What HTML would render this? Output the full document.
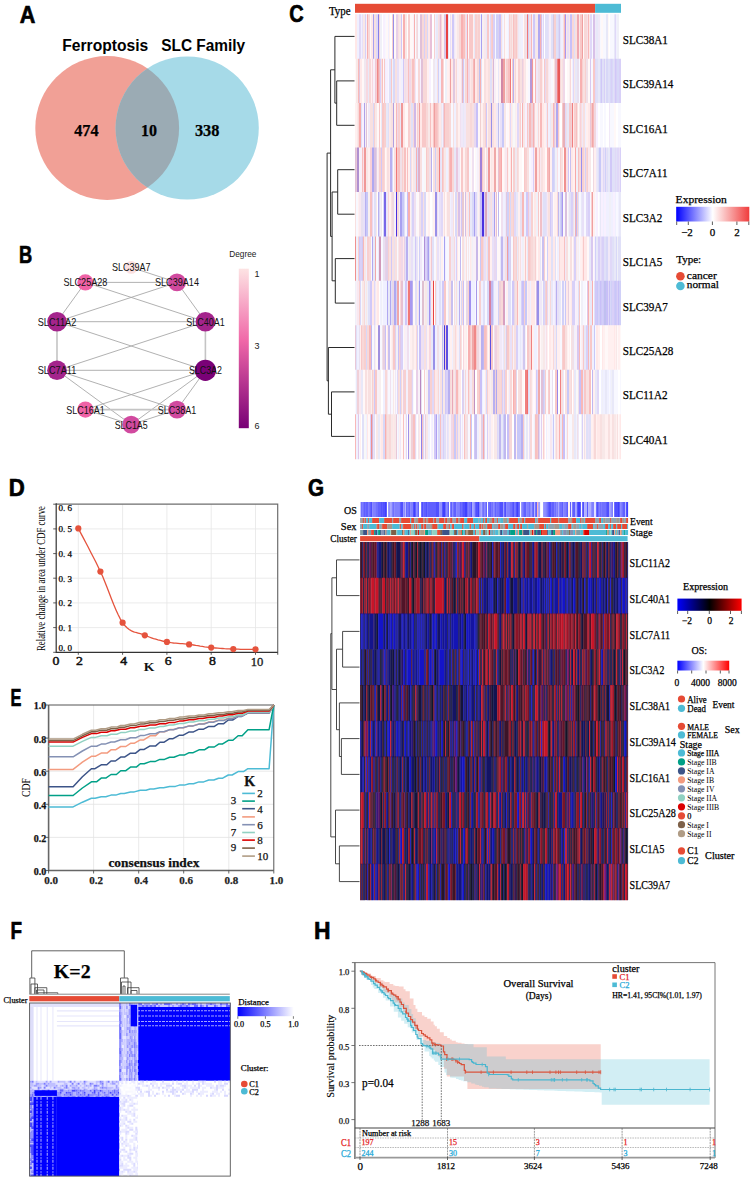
<!DOCTYPE html>
<html><head><meta charset="utf-8"><title>Figure</title>
<style>html,body{margin:0;padding:0;background:#fff;width:753px;height:1181px;overflow:hidden}svg{display:block}</style>
</head><body><svg width="753" height="1181" viewBox="0 0 753 1181"><text transform="translate(19.80,22.50) scale(0.900,1)" font-family='"Liberation Sans", sans-serif' font-size="24" font-weight="bold" stroke="#000" stroke-width="0.7">A</text><text x="62.3" y="50.6" font-family='"Liberation Sans", sans-serif' font-size="15.8" font-weight="bold" textLength="86" lengthAdjust="spacingAndGlyphs">Ferroptosis</text><text x="161.2" y="50.6" font-family='"Liberation Sans", sans-serif' font-size="15.8" font-weight="bold" textLength="84" lengthAdjust="spacingAndGlyphs">SLC Family</text><circle cx="107.2" cy="128" r="71.9" fill="#f1a096"/><circle cx="187.2" cy="128" r="71.6" fill="#a6dae8"/><clipPath id="vc"><circle cx="107.2" cy="128" r="71.9"/></clipPath><circle cx="187.2" cy="128" r="71.6" fill="#9babb4" clip-path="url(#vc)"/><text x="86.4" y="136.1" font-family='"Liberation Serif", serif' font-size="16.3" font-weight="bold" text-anchor="middle" stroke="#000" stroke-width="0.25" textLength="24.4" lengthAdjust="spacingAndGlyphs">474</text><text x="149.1" y="136.1" font-family='"Liberation Serif", serif' font-size="16.3" font-weight="bold" text-anchor="middle" stroke="#000" stroke-width="0.25" textLength="16" lengthAdjust="spacingAndGlyphs">10</text><text x="207.2" y="136.1" font-family='"Liberation Serif", serif' font-size="16.3" font-weight="bold" text-anchor="middle" stroke="#000" stroke-width="0.25" textLength="24.5" lengthAdjust="spacingAndGlyphs">338</text><text transform="translate(18.94,262.60) scale(0.762,1)" font-family='"Liberation Sans", sans-serif' font-size="24" font-weight="bold" stroke="#000" stroke-width="0.7">B</text><line x1="131.2" y1="267.4" x2="177.0" y2="282.4" stroke="#a8a8a8" stroke-width="0.9"/><line x1="85.4" y1="282.4" x2="177.0" y2="282.4" stroke="#a8a8a8" stroke-width="0.9"/><line x1="85.4" y1="282.4" x2="57.0" y2="321.7" stroke="#a8a8a8" stroke-width="0.9"/><line x1="85.4" y1="282.4" x2="205.4" y2="321.7" stroke="#a8a8a8" stroke-width="0.9"/><line x1="177.0" y1="282.4" x2="57.0" y2="321.7" stroke="#a8a8a8" stroke-width="0.9"/><line x1="177.0" y1="282.4" x2="205.4" y2="321.7" stroke="#a8a8a8" stroke-width="0.9"/><line x1="57.0" y1="321.7" x2="205.4" y2="321.7" stroke="#a8a8a8" stroke-width="0.9"/><line x1="57.0" y1="321.7" x2="57.0" y2="370.3" stroke="#c4c4c4" stroke-width="1.6"/><line x1="57.0" y1="321.7" x2="205.4" y2="370.3" stroke="#a8a8a8" stroke-width="0.9"/><line x1="205.4" y1="321.7" x2="205.4" y2="370.3" stroke="#c4c4c4" stroke-width="1.6"/><line x1="205.4" y1="321.7" x2="57.0" y2="370.3" stroke="#a8a8a8" stroke-width="0.9"/><line x1="57.0" y1="370.3" x2="205.4" y2="370.3" stroke="#a8a8a8" stroke-width="0.9"/><line x1="57.0" y1="370.3" x2="131.2" y2="424.6" stroke="#a8a8a8" stroke-width="0.9"/><line x1="57.0" y1="370.3" x2="177.0" y2="409.6" stroke="#a8a8a8" stroke-width="0.9"/><line x1="205.4" y1="370.3" x2="85.4" y2="409.6" stroke="#a8a8a8" stroke-width="0.9"/><line x1="205.4" y1="370.3" x2="131.2" y2="424.6" stroke="#a8a8a8" stroke-width="0.9"/><line x1="205.4" y1="370.3" x2="177.0" y2="409.6" stroke="#a8a8a8" stroke-width="0.9"/><line x1="85.4" y1="409.6" x2="177.0" y2="409.6" stroke="#c4c4c4" stroke-width="1.6"/><line x1="85.4" y1="409.6" x2="131.2" y2="424.6" stroke="#a8a8a8" stroke-width="0.9"/><line x1="131.2" y1="424.6" x2="177.0" y2="409.6" stroke="#a8a8a8" stroke-width="0.9"/><circle cx="131.2" cy="267.4" r="6.40" fill="#fbe0e0"/><circle cx="177.0" cy="282.4" r="8.95" fill="#d14a9f"/><circle cx="205.4" cy="321.7" r="9.80" fill="#a4248c"/><circle cx="205.4" cy="370.3" r="10.65" fill="#7a0177"/><circle cx="177.0" cy="409.6" r="8.95" fill="#d14a9f"/><circle cx="131.2" cy="424.6" r="8.95" fill="#d14a9f"/><circle cx="85.4" cy="409.6" r="8.10" fill="#ef62a6"/><circle cx="57.0" cy="370.3" r="9.80" fill="#a4248c"/><circle cx="57.0" cy="321.7" r="9.80" fill="#a4248c"/><circle cx="85.4" cy="282.4" r="8.10" fill="#ef62a6"/><text x="131.2" y="271.3" font-family='"Liberation Sans", sans-serif' font-size="10.8" text-anchor="middle" fill="#111" textLength="38.5" lengthAdjust="spacingAndGlyphs">SLC39A7</text><text x="177.0" y="286.3" font-family='"Liberation Sans", sans-serif' font-size="10.8" text-anchor="middle" fill="#111" textLength="44.0" lengthAdjust="spacingAndGlyphs">SLC39A14</text><text x="205.4" y="325.6" font-family='"Liberation Sans", sans-serif' font-size="10.8" text-anchor="middle" fill="#111" textLength="38.5" lengthAdjust="spacingAndGlyphs">SLC40A1</text><text x="205.4" y="374.2" font-family='"Liberation Sans", sans-serif' font-size="10.8" text-anchor="middle" fill="#111" textLength="33.0" lengthAdjust="spacingAndGlyphs">SLC3A2</text><text x="177.0" y="413.5" font-family='"Liberation Sans", sans-serif' font-size="10.8" text-anchor="middle" fill="#111" textLength="38.5" lengthAdjust="spacingAndGlyphs">SLC38A1</text><text x="131.2" y="428.5" font-family='"Liberation Sans", sans-serif' font-size="10.8" text-anchor="middle" fill="#111" textLength="33.0" lengthAdjust="spacingAndGlyphs">SLC1A5</text><text x="85.4" y="413.5" font-family='"Liberation Sans", sans-serif' font-size="10.8" text-anchor="middle" fill="#111" textLength="38.5" lengthAdjust="spacingAndGlyphs">SLC16A1</text><text x="57.0" y="374.2" font-family='"Liberation Sans", sans-serif' font-size="10.8" text-anchor="middle" fill="#111" textLength="38.5" lengthAdjust="spacingAndGlyphs">SLC7A11</text><text x="57.0" y="325.6" font-family='"Liberation Sans", sans-serif' font-size="10.8" text-anchor="middle" fill="#111" textLength="38.5" lengthAdjust="spacingAndGlyphs">SLC11A2</text><text x="85.4" y="286.3" font-family='"Liberation Sans", sans-serif' font-size="10.8" text-anchor="middle" fill="#111" textLength="44.0" lengthAdjust="spacingAndGlyphs">SLC25A28</text><linearGradient id="degg" x1="0" y1="0" x2="0" y2="1"><stop offset="0" stop-color="#fde3e3"/><stop offset="0.45" stop-color="#f068a8"/><stop offset="1" stop-color="#780076"/></linearGradient><rect x="238.8" y="268.7" width="10" height="159.5" fill="url(#degg)"/><text x="229.2" y="257.2" font-family='"Liberation Sans", sans-serif' font-size="9" fill="#222" textLength="27.2" lengthAdjust="spacingAndGlyphs">Degree</text><text x="254.5" y="276.5" font-family='"Liberation Sans", sans-serif' font-size="9" fill="#222">1</text><text x="254.5" y="348.8" font-family='"Liberation Sans", sans-serif' font-size="9" fill="#222">3</text><text x="254.5" y="429" font-family='"Liberation Sans", sans-serif' font-size="9" fill="#222">6</text><text transform="translate(289.27,22.30) scale(0.831,1)" font-family='"Liberation Sans", sans-serif' font-size="24" font-weight="bold" stroke="#000" stroke-width="0.7">C</text><text x="328.9" y="14.9" font-family='"Liberation Serif", serif' font-size="12" stroke="#000" stroke-width="0.25" textLength="21.6" lengthAdjust="spacingAndGlyphs">Type</text><rect x="355.0" y="3.8" width="240.1" height="9" fill="#e64b35"/><rect x="595.1" y="3.8" width="25.9" height="9" fill="#4dbbd5"/><path fill="#ffe8e8" d="M355 14.2h2v45.04h-2zM371 14.2h2v45.04h-2zM428 14.2h2v45.04h-2zM589 14.2h1v45.04h-1z"/><path fill="#f0f0ff" d="M357 14.2h2v45.04h-2zM361 14.2h1v45.04h-1zM388 14.2h1v45.04h-1zM435 14.2h1v45.04h-1zM480 14.2h1v45.04h-1zM489 14.2h1v45.04h-1zM502 14.2h1v45.04h-1zM508 14.2h1v45.04h-1zM521 14.2h2v45.04h-2zM542 14.2h1v45.04h-1zM561 14.2h2v45.04h-2zM616 14.2h1v45.04h-1z"/><path fill="#e0d8f8" d="M359 14.2h2v45.04h-2zM376 14.2h2v45.04h-2zM490 14.2h1v45.04h-1zM543 14.2h1v45.04h-1zM590 14.2h2v45.04h-2zM615 14.2h1v45.04h-1z"/><path fill="#e8e0f8" d="M362 14.2h1v45.04h-1zM450 14.2h1v45.04h-1zM466 14.2h1v45.04h-1zM548 14.2h1v45.04h-1zM567 14.2h2v45.04h-2z"/><path fill="#f8e8e8" d="M363 14.2h2v45.04h-2zM399 14.2h2v45.04h-2zM405 14.2h2v45.04h-2zM457 14.2h2v45.04h-2zM512 14.2h1v45.04h-1zM536 14.2h2v45.04h-2zM566 14.2h1v45.04h-1zM569 14.2h1v45.04h-1zM579 14.2h1v45.04h-1z"/><path fill="#d8d0f8" d="M365 14.2h1v45.04h-1zM424 14.2h1v45.04h-1zM493 14.2h2v45.04h-2z"/><path fill="#f8f0f8" d="M366 14.2h1v45.04h-1zM413 14.2h1v45.04h-1zM455 14.2h1v45.04h-1zM532 14.2h1v45.04h-1zM549 14.2h2v45.04h-2z"/><path fill="#f8b0b0" d="M367 14.2h1v45.04h-1zM403 14.2h2v45.04h-2zM414 14.2h1v45.04h-1zM461 14.2h2v45.04h-2zM540 14.2h1v45.04h-1z"/><path fill="#f8d8d8" d="M368 14.2h2v45.04h-2zM379 14.2h1v45.04h-1zM422 14.2h2v45.04h-2zM425 14.2h2v45.04h-2zM441 14.2h1v45.04h-1zM459 14.2h2v45.04h-2zM477 14.2h1v45.04h-1zM511 14.2h1v45.04h-1zM572 14.2h2v45.04h-2zM584 14.2h3v45.04h-3z"/><path fill="#fff8f8" d="M370 14.2h1v45.04h-1zM386 14.2h2v45.04h-2zM394 14.2h2v45.04h-2zM402 14.2h1v45.04h-1zM410 14.2h3v45.04h-3zM468 14.2h1v45.04h-1zM505 14.2h1v45.04h-1zM523 14.2h1v45.04h-1zM583 14.2h1v45.04h-1zM601 14.2h2v45.04h-2zM608 14.2h1v45.04h-1z"/><path fill="#a8a0f0" d="M373 14.2h1v45.04h-1zM481 14.2h1v45.04h-1z"/><path fill="#f8e0e0" d="M374 14.2h2v45.04h-2zM398 14.2h1v45.04h-1zM416 14.2h1v45.04h-1zM438 14.2h1v45.04h-1zM465 14.2h1v45.04h-1zM501 14.2h1v45.04h-1zM504 14.2h1v45.04h-1zM510 14.2h1v45.04h-1zM517 14.2h1v45.04h-1zM524 14.2h1v45.04h-1zM529 14.2h1v45.04h-1zM563 14.2h1v45.04h-1zM575 14.2h2v45.04h-2z"/><path fill="#8880e8" d="M378 14.2h1v45.04h-1z"/><path fill="#f0f0f8" d="M380 14.2h2v45.04h-2zM519 14.2h2v45.04h-2zM617 14.2h2v45.04h-2z"/><path fill="#ffffff" d="M382 14.2h1v45.04h-1zM390 14.2h2v45.04h-2zM407 14.2h1v45.04h-1zM432 14.2h2v45.04h-2zM449 14.2h1v45.04h-1zM544 14.2h1v45.04h-1zM609 14.2h1v45.04h-1zM619 14.2h2v45.04h-2z"/><path fill="#f8f0ff" d="M383 14.2h2v45.04h-2z"/><path fill="#f8f8ff" d="M385 14.2h1v45.04h-1zM415 14.2h1v45.04h-1zM418 14.2h2v45.04h-2zM495 14.2h1v45.04h-1zM503 14.2h1v45.04h-1zM506 14.2h2v45.04h-2zM592 14.2h1v45.04h-1zM600 14.2h1v45.04h-1zM603 14.2h3v45.04h-3zM610 14.2h4v45.04h-4z"/><path fill="#fff0f0" d="M389 14.2h1v45.04h-1zM442 14.2h2v45.04h-2zM451 14.2h1v45.04h-1zM456 14.2h1v45.04h-1zM473 14.2h1v45.04h-1z"/><path fill="#f8d0d0" d="M392 14.2h1v45.04h-1zM408 14.2h2v45.04h-2zM434 14.2h1v45.04h-1zM475 14.2h2v45.04h-2zM478 14.2h2v45.04h-2zM491 14.2h1v45.04h-1zM509 14.2h1v45.04h-1zM514 14.2h2v45.04h-2zM554 14.2h2v45.04h-2z"/><path fill="#9890e8" d="M393 14.2h1v45.04h-1z"/><path fill="#e8d0e8" d="M396 14.2h2v45.04h-2z"/><path fill="#d0c8f8" d="M401 14.2h1v45.04h-1zM452 14.2h2v45.04h-2zM533 14.2h2v45.04h-2z"/><path fill="#f0d8e0" d="M417 14.2h1v45.04h-1z"/><path fill="#e0c0d8" d="M420 14.2h2v45.04h-2z"/><path fill="#d8d8f8" d="M427 14.2h1v45.04h-1zM558 14.2h1v45.04h-1z"/><path fill="#e8c0d8" d="M430 14.2h2v45.04h-2z"/><path fill="#e8e8f8" d="M436 14.2h2v45.04h-2zM448 14.2h1v45.04h-1zM474 14.2h1v45.04h-1zM486 14.2h1v45.04h-1zM560 14.2h1v45.04h-1zM596 14.2h2v45.04h-2zM606 14.2h2v45.04h-2zM614 14.2h1v45.04h-1z"/><path fill="#f0d8e8" d="M439 14.2h1v45.04h-1z"/><path fill="#e8b8d0" d="M440 14.2h1v45.04h-1z"/><path fill="#d8c8e8" d="M444 14.2h2v45.04h-2z"/><path fill="#e84040" d="M446 14.2h2v45.04h-2z"/><path fill="#f0e8f8" d="M454 14.2h1v45.04h-1zM518 14.2h1v45.04h-1zM595 14.2h1v45.04h-1zM598 14.2h2v45.04h-2z"/><path fill="#f8c0c0" d="M463 14.2h2v45.04h-2zM513 14.2h1v45.04h-1z"/><path fill="#f8a8a8" d="M467 14.2h1v45.04h-1z"/><path fill="#f8c8c8" d="M469 14.2h4v45.04h-4zM487 14.2h2v45.04h-2zM492 14.2h1v45.04h-1zM516 14.2h1v45.04h-1zM580 14.2h2v45.04h-2z"/><path fill="#f8f0f0" d="M482 14.2h2v45.04h-2z"/><path fill="#f8e8f0" d="M484 14.2h2v45.04h-2z"/><path fill="#d0d0f8" d="M496 14.2h2v45.04h-2zM528 14.2h1v45.04h-1z"/><path fill="#d8d0f0" d="M498 14.2h1v45.04h-1z"/><path fill="#c8c0f8" d="M499 14.2h2v45.04h-2zM570 14.2h2v45.04h-2z"/><path fill="#f0e0e8" d="M525 14.2h2v45.04h-2z"/><path fill="#f07878" d="M527 14.2h1v45.04h-1z"/><path fill="#f0e0f0" d="M530 14.2h1v45.04h-1z"/><path fill="#f8b8b8" d="M531 14.2h1v45.04h-1zM564 14.2h1v45.04h-1zM588 14.2h1v45.04h-1z"/><path fill="#f0e8f0" d="M535 14.2h1v45.04h-1z"/><path fill="#b0a8f0" d="M538 14.2h2v45.04h-2z"/><path fill="#d8c0e8" d="M541 14.2h1v45.04h-1zM593 14.2h2v45.04h-2z"/><path fill="#e0e0f8" d="M545 14.2h3v45.04h-3zM551 14.2h2v45.04h-2zM556 14.2h2v45.04h-2zM574 14.2h1v45.04h-1z"/><path fill="#d8c8e0" d="M553 14.2h1v45.04h-1z"/><path fill="#d0c8f0" d="M559 14.2h1v45.04h-1z"/><path fill="#a898f0" d="M565 14.2h1v45.04h-1z"/><path fill="#f0a8b0" d="M577 14.2h2v45.04h-2z"/><path fill="#f0a0a0" d="M582 14.2h1v45.04h-1z"/><path fill="#f8e0e8" d="M587 14.2h1v45.04h-1z"/><text x="622.8" y="43.9" font-family='"Liberation Serif", serif' font-size="11.7" stroke="#000" stroke-width="0.25" textLength="45.1" lengthAdjust="spacingAndGlyphs">SLC38A1</text><path fill="#fff8f8" d="M355 58.64h1v45.04h-1zM362 58.64h2v45.04h-2zM383 58.64h1v45.04h-1zM482 58.64h2v45.04h-2zM496 58.64h2v45.04h-2zM511 58.64h1v45.04h-1zM526 58.64h2v45.04h-2zM534 58.64h1v45.04h-1zM553 58.64h1v45.04h-1zM567 58.64h2v45.04h-2zM571 58.64h1v45.04h-1zM588 58.64h2v45.04h-2z"/><path fill="#f8e8e8" d="M356 58.64h2v45.04h-2zM505 58.64h1v45.04h-1zM514 58.64h1v45.04h-1zM525 58.64h1v45.04h-1zM561 58.64h1v45.04h-1zM574 58.64h1v45.04h-1z"/><path fill="#f8b8b8" d="M358 58.64h1v45.04h-1zM441 58.64h2v45.04h-2zM473 58.64h1v45.04h-1zM535 58.64h1v45.04h-1z"/><path fill="#e0c8e0" d="M359 58.64h1v45.04h-1zM453 58.64h2v45.04h-2z"/><path fill="#ffe8e8" d="M360 58.64h2v45.04h-2zM449 58.64h1v45.04h-1zM451 58.64h2v45.04h-2zM455 58.64h1v45.04h-1zM470 58.64h1v45.04h-1zM475 58.64h2v45.04h-2zM486 58.64h2v45.04h-2zM524 58.64h1v45.04h-1zM542 58.64h1v45.04h-1z"/><path fill="#f0e8f0" d="M364 58.64h2v45.04h-2zM433 58.64h2v45.04h-2z"/><path fill="#f8d8e0" d="M366 58.64h2v45.04h-2zM372 58.64h1v45.04h-1zM523 58.64h1v45.04h-1z"/><path fill="#e8e8f8" d="M368 58.64h1v45.04h-1zM498 58.64h1v45.04h-1zM575 58.64h2v45.04h-2zM598 58.64h2v45.04h-2zM605 58.64h1v45.04h-1z"/><path fill="#f8d8d8" d="M369 58.64h2v45.04h-2zM418 58.64h2v45.04h-2zM423 58.64h4v45.04h-4zM443 58.64h1v45.04h-1zM456 58.64h1v45.04h-1zM465 58.64h2v45.04h-2zM477 58.64h2v45.04h-2zM515 58.64h1v45.04h-1zM546 58.64h2v45.04h-2zM560 58.64h1v45.04h-1zM570 58.64h1v45.04h-1z"/><path fill="#fff0f0" d="M371 58.64h1v45.04h-1zM427 58.64h2v45.04h-2zM447 58.64h2v45.04h-2zM459 58.64h2v45.04h-2zM499 58.64h2v45.04h-2zM516 58.64h2v45.04h-2zM533 58.64h1v45.04h-1z"/><path fill="#f8f0f8" d="M373 58.64h2v45.04h-2zM399 58.64h2v45.04h-2zM457 58.64h2v45.04h-2zM494 58.64h2v45.04h-2zM549 58.64h2v45.04h-2z"/><path fill="#f0c8d8" d="M375 58.64h1v45.04h-1z"/><path fill="#f8d0d0" d="M376 58.64h1v45.04h-1zM414 58.64h1v45.04h-1zM506 58.64h2v45.04h-2zM518 58.64h2v45.04h-2zM540 58.64h2v45.04h-2zM582 58.64h1v45.04h-1zM585 58.64h1v45.04h-1z"/><path fill="#f08888" d="M377 58.64h1v45.04h-1z"/><path fill="#f0a8a8" d="M378 58.64h1v45.04h-1zM474 58.64h1v45.04h-1z"/><path fill="#f0c0c8" d="M379 58.64h1v45.04h-1z"/><path fill="#d8d0f8" d="M380 58.64h1v45.04h-1zM604 58.64h1v45.04h-1zM611 58.64h1v45.04h-1zM616 58.64h1v45.04h-1zM619 58.64h2v45.04h-2z"/><path fill="#f8e0e0" d="M381 58.64h1v45.04h-1zM395 58.64h2v45.04h-2zM411 58.64h1v45.04h-1zM437 58.64h1v45.04h-1zM471 58.64h2v45.04h-2zM484 58.64h2v45.04h-2zM488 58.64h2v45.04h-2zM492 58.64h1v45.04h-1zM520 58.64h2v45.04h-2zM554 58.64h1v45.04h-1zM562 58.64h1v45.04h-1zM583 58.64h2v45.04h-2z"/><path fill="#f8c0c0" d="M382 58.64h1v45.04h-1zM408 58.64h1v45.04h-1zM412 58.64h2v45.04h-2zM508 58.64h2v45.04h-2z"/><path fill="#f8c8c8" d="M384 58.64h1v45.04h-1zM391 58.64h1v45.04h-1zM512 58.64h1v45.04h-1zM544 58.64h1v45.04h-1zM593 58.64h2v45.04h-2z"/><path fill="#f0f0ff" d="M385 58.64h1v45.04h-1zM401 58.64h2v45.04h-2zM435 58.64h2v45.04h-2zM439 58.64h2v45.04h-2zM572 58.64h1v45.04h-1z"/><path fill="#f8f0ff" d="M386 58.64h2v45.04h-2zM420 58.64h1v45.04h-1zM429 58.64h2v45.04h-2z"/><path fill="#f8f8ff" d="M388 58.64h1v45.04h-1zM417 58.64h1v45.04h-1zM528 58.64h2v45.04h-2zM543 58.64h1v45.04h-1zM551 58.64h2v45.04h-2zM579 58.64h1v45.04h-1zM591 58.64h2v45.04h-2z"/><path fill="#e0e0f8" d="M389 58.64h2v45.04h-2zM481 58.64h1v45.04h-1zM490 58.64h2v45.04h-2zM596 58.64h2v45.04h-2zM602 58.64h2v45.04h-2zM608 58.64h2v45.04h-2zM613 58.64h1v45.04h-1z"/><path fill="#f0f0f8" d="M392 58.64h1v45.04h-1zM445 58.64h2v45.04h-2zM464 58.64h1v45.04h-1z"/><path fill="#d8d8f8" d="M393 58.64h2v45.04h-2zM600 58.64h1v45.04h-1zM606 58.64h2v45.04h-2zM610 58.64h1v45.04h-1zM612 58.64h1v45.04h-1zM617 58.64h2v45.04h-2z"/><path fill="#e8e0f8" d="M397 58.64h2v45.04h-2z"/><path fill="#d0c8f8" d="M403 58.64h1v45.04h-1zM463 58.64h1v45.04h-1zM601 58.64h1v45.04h-1zM615 58.64h1v45.04h-1z"/><path fill="#f8e0e8" d="M404 58.64h1v45.04h-1zM406 58.64h2v45.04h-2z"/><path fill="#f0e0e8" d="M405 58.64h1v45.04h-1zM538 58.64h2v45.04h-2zM586 58.64h2v45.04h-2z"/><path fill="#f0d8e8" d="M409 58.64h2v45.04h-2zM468 58.64h2v45.04h-2zM563 58.64h2v45.04h-2z"/><path fill="#f0e8f8" d="M415 58.64h1v45.04h-1zM536 58.64h2v45.04h-2z"/><path fill="#fff8ff" d="M416 58.64h1v45.04h-1z"/><path fill="#e0c0d8" d="M421 58.64h2v45.04h-2z"/><path fill="#ffffff" d="M431 58.64h2v45.04h-2zM444 58.64h1v45.04h-1zM565 58.64h2v45.04h-2z"/><path fill="#d0d0f8" d="M438 58.64h1v45.04h-1z"/><path fill="#f0a0a0" d="M450 58.64h1v45.04h-1zM503 58.64h2v45.04h-2z"/><path fill="#f0e0f0" d="M461 58.64h1v45.04h-1z"/><path fill="#e8b8c0" d="M462 58.64h1v45.04h-1z"/><path fill="#f8b0b0" d="M467 58.64h1v45.04h-1zM480 58.64h1v45.04h-1zM580 58.64h2v45.04h-2z"/><path fill="#c0c0f0" d="M479 58.64h1v45.04h-1z"/><path fill="#d8b8d8" d="M493 58.64h1v45.04h-1z"/><path fill="#d088a8" d="M501 58.64h2v45.04h-2z"/><path fill="#f07878" d="M510 58.64h1v45.04h-1z"/><path fill="#b8b0f0" d="M513 58.64h1v45.04h-1z"/><path fill="#e8d0e0" d="M522 58.64h1v45.04h-1z"/><path fill="#b898d8" d="M530 58.64h2v45.04h-2z"/><path fill="#f09898" d="M532 58.64h1v45.04h-1z"/><path fill="#e8d8f0" d="M545 58.64h1v45.04h-1z"/><path fill="#f8e8f0" d="M548 58.64h1v45.04h-1z"/><path fill="#e8c0d0" d="M555 58.64h2v45.04h-2z"/><path fill="#f08080" d="M557 58.64h1v45.04h-1z"/><path fill="#e85858" d="M558 58.64h2v45.04h-2z"/><path fill="#f8f0f0" d="M569 58.64h1v45.04h-1z"/><path fill="#e0d8f8" d="M573 58.64h1v45.04h-1zM595 58.64h1v45.04h-1zM614 58.64h1v45.04h-1z"/><path fill="#e8e0f0" d="M577 58.64h2v45.04h-2z"/><path fill="#d8c8f0" d="M590 58.64h1v45.04h-1z"/><text x="622.8" y="88.4" font-family='"Liberation Serif", serif' font-size="11.7" stroke="#000" stroke-width="0.25" textLength="50.6" lengthAdjust="spacingAndGlyphs">SLC39A14</text><path fill="#fff0f0" d="M355 103.1h2v45.04h-2zM394 103.1h2v45.04h-2zM416 103.1h1v45.04h-1zM458 103.1h2v45.04h-2zM481 103.1h2v45.04h-2zM487 103.1h1v45.04h-1zM516 103.1h1v45.04h-1zM535 103.1h2v45.04h-2zM539 103.1h1v45.04h-1zM544 103.1h2v45.04h-2zM559 103.1h1v45.04h-1zM586 103.1h2v45.04h-2z"/><path fill="#f8e8e8" d="M357 103.1h1v45.04h-1zM375 103.1h2v45.04h-2zM390 103.1h1v45.04h-1zM428 103.1h2v45.04h-2zM504 103.1h2v45.04h-2zM523 103.1h2v45.04h-2zM551 103.1h2v45.04h-2zM579 103.1h1v45.04h-1z"/><path fill="#f8d8d8" d="M358 103.1h1v45.04h-1zM413 103.1h1v45.04h-1zM426 103.1h2v45.04h-2zM438 103.1h1v45.04h-1zM449 103.1h2v45.04h-2zM470 103.1h2v45.04h-2zM538 103.1h1v45.04h-1z"/><path fill="#f8a8a8" d="M359 103.1h2v45.04h-2z"/><path fill="#e0e0f8" d="M361 103.1h1v45.04h-1zM388 103.1h1v45.04h-1zM411 103.1h2v45.04h-2z"/><path fill="#f8f0ff" d="M362 103.1h2v45.04h-2zM525 103.1h2v45.04h-2zM596 103.1h2v45.04h-2z"/><path fill="#b0a0e8" d="M364 103.1h1v45.04h-1z"/><path fill="#f0f0f8" d="M365 103.1h1v45.04h-1zM537 103.1h1v45.04h-1z"/><path fill="#e0c0d8" d="M366 103.1h1v45.04h-1z"/><path fill="#fff8f8" d="M367 103.1h1v45.04h-1zM377 103.1h2v45.04h-2zM380 103.1h1v45.04h-1zM405 103.1h3v45.04h-3zM478 103.1h2v45.04h-2zM507 103.1h2v45.04h-2zM578 103.1h1v45.04h-1zM614 103.1h2v45.04h-2z"/><path fill="#f0e8f8" d="M368 103.1h2v45.04h-2zM461 103.1h2v45.04h-2zM464 103.1h2v45.04h-2zM496 103.1h2v45.04h-2zM546 103.1h1v45.04h-1zM582 103.1h1v45.04h-1zM609 103.1h1v45.04h-1z"/><path fill="#f8e0e0" d="M370 103.1h3v45.04h-3zM391 103.1h2v45.04h-2zM410 103.1h1v45.04h-1zM418 103.1h1v45.04h-1zM453 103.1h1v45.04h-1zM456 103.1h2v45.04h-2zM466 103.1h4v45.04h-4zM472 103.1h2v45.04h-2zM483 103.1h2v45.04h-2zM488 103.1h2v45.04h-2zM492 103.1h2v45.04h-2zM519 103.1h1v45.04h-1zM555 103.1h1v45.04h-1zM577 103.1h1v45.04h-1zM581 103.1h1v45.04h-1zM583 103.1h2v45.04h-2z"/><path fill="#d8d8f8" d="M373 103.1h1v45.04h-1z"/><path fill="#f8d0d0" d="M374 103.1h1v45.04h-1zM384 103.1h2v45.04h-2zM398 103.1h2v45.04h-2zM408 103.1h2v45.04h-2zM417 103.1h1v45.04h-1zM445 103.1h4v45.04h-4zM485 103.1h1v45.04h-1zM520 103.1h1v45.04h-1zM574 103.1h2v45.04h-2z"/><path fill="#f8c8c8" d="M379 103.1h1v45.04h-1zM382 103.1h2v45.04h-2zM422 103.1h4v45.04h-4zM433 103.1h1v45.04h-1zM437 103.1h1v45.04h-1zM527 103.1h1v45.04h-1zM547 103.1h1v45.04h-1zM558 103.1h1v45.04h-1zM562 103.1h1v45.04h-1zM569 103.1h2v45.04h-2zM591 103.1h1v45.04h-1z"/><path fill="#e8e8f8" d="M381 103.1h1v45.04h-1zM386 103.1h2v45.04h-2zM400 103.1h1v45.04h-1zM463 103.1h1v45.04h-1zM550 103.1h1v45.04h-1zM567 103.1h2v45.04h-2z"/><path fill="#ffe8e8" d="M389 103.1h1v45.04h-1zM403 103.1h2v45.04h-2zM420 103.1h2v45.04h-2zM431 103.1h2v45.04h-2zM439 103.1h2v45.04h-2zM494 103.1h2v45.04h-2zM509 103.1h1v45.04h-1zM511 103.1h1v45.04h-1zM542 103.1h2v45.04h-2zM573 103.1h1v45.04h-1zM588 103.1h2v45.04h-2z"/><path fill="#b0a0e0" d="M393 103.1h1v45.04h-1z"/><path fill="#f8b8b8" d="M396 103.1h1v45.04h-1zM444 103.1h1v45.04h-1zM529 103.1h2v45.04h-2zM540 103.1h2v45.04h-2zM553 103.1h1v45.04h-1zM593 103.1h1v45.04h-1z"/><path fill="#f0d8e8" d="M397 103.1h1v45.04h-1z"/><path fill="#f09898" d="M401 103.1h2v45.04h-2z"/><path fill="#d0b8e8" d="M414 103.1h2v45.04h-2z"/><path fill="#f0a0a0" d="M419 103.1h1v45.04h-1zM434 103.1h1v45.04h-1z"/><path fill="#f8c0c0" d="M430 103.1h1v45.04h-1zM435 103.1h2v45.04h-2zM576 103.1h1v45.04h-1z"/><path fill="#f0e8f0" d="M441 103.1h1v45.04h-1z"/><path fill="#f0f0ff" d="M442 103.1h1v45.04h-1zM454 103.1h2v45.04h-2zM548 103.1h2v45.04h-2zM585 103.1h1v45.04h-1z"/><path fill="#e8d0e0" d="M443 103.1h1v45.04h-1z"/><path fill="#f8f8ff" d="M451 103.1h2v45.04h-2zM521 103.1h1v45.04h-1zM600 103.1h3v45.04h-3zM604 103.1h2v45.04h-2zM610 103.1h4v45.04h-4zM618 103.1h3v45.04h-3z"/><path fill="#f0e0f0" d="M460 103.1h1v45.04h-1z"/><path fill="#e8d8f0" d="M474 103.1h2v45.04h-2z"/><path fill="#c8c0f8" d="M476 103.1h2v45.04h-2z"/><path fill="#f0d0d0" d="M480 103.1h1v45.04h-1z"/><path fill="#d0c8f8" d="M486 103.1h1v45.04h-1z"/><path fill="#f8d8e0" d="M490 103.1h1v45.04h-1z"/><path fill="#9890e8" d="M491 103.1h1v45.04h-1z"/><path fill="#c0c0f0" d="M498 103.1h1v45.04h-1z"/><path fill="#f8f0f8" d="M499 103.1h1v45.04h-1z"/><path fill="#e8e0f8" d="M500 103.1h2v45.04h-2z"/><path fill="#c8c8f8" d="M502 103.1h2v45.04h-2z"/><path fill="#fff8ff" d="M506 103.1h1v45.04h-1z"/><path fill="#e0d8f8" d="M510 103.1h1v45.04h-1zM517 103.1h2v45.04h-2zM565 103.1h1v45.04h-1z"/><path fill="#f8f0f0" d="M512 103.1h1v45.04h-1zM515 103.1h1v45.04h-1z"/><path fill="#f8f8f8" d="M513 103.1h2v45.04h-2z"/><path fill="#f8b0b0" d="M522 103.1h1v45.04h-1zM533 103.1h1v45.04h-1z"/><path fill="#f0e0e8" d="M528 103.1h1v45.04h-1zM566 103.1h1v45.04h-1z"/><path fill="#f0d0d8" d="M531 103.1h2v45.04h-2zM534 103.1h1v45.04h-1zM571 103.1h1v45.04h-1z"/><path fill="#e8c8e0" d="M554 103.1h1v45.04h-1z"/><path fill="#b0a8f0" d="M556 103.1h2v45.04h-2z"/><path fill="#ffffff" d="M560 103.1h2v45.04h-2zM598 103.1h2v45.04h-2zM603 103.1h1v45.04h-1zM606 103.1h3v45.04h-3zM616 103.1h2v45.04h-2z"/><path fill="#e8b0b8" d="M563 103.1h2v45.04h-2z"/><path fill="#f08080" d="M572 103.1h1v45.04h-1z"/><path fill="#f8d0d8" d="M580 103.1h1v45.04h-1z"/><path fill="#e8c8d8" d="M590 103.1h1v45.04h-1z"/><path fill="#f0a8a8" d="M592 103.1h1v45.04h-1z"/><path fill="#f0d8e0" d="M594 103.1h2v45.04h-2z"/><text x="622.8" y="132.8" font-family='"Liberation Serif", serif' font-size="11.7" stroke="#000" stroke-width="0.25" textLength="45.1" lengthAdjust="spacingAndGlyphs">SLC16A1</text><path fill="#e0c0d8" d="M355 147.5h1v45.04h-1z"/><path fill="#e8c8d8" d="M356 147.5h1v45.04h-1z"/><path fill="#b090d0" d="M357 147.5h2v45.04h-2z"/><path fill="#f8f0f8" d="M359 147.5h3v45.04h-3zM477 147.5h2v45.04h-2z"/><path fill="#f8c0c0" d="M362 147.5h1v45.04h-1zM398 147.5h2v45.04h-2zM404 147.5h2v45.04h-2zM407 147.5h1v45.04h-1zM442 147.5h1v45.04h-1zM449 147.5h1v45.04h-1zM578 147.5h1v45.04h-1z"/><path fill="#f8e0e8" d="M363 147.5h1v45.04h-1zM557 147.5h1v45.04h-1zM566 147.5h2v45.04h-2z"/><path fill="#f09898" d="M364 147.5h2v45.04h-2zM488 147.5h2v45.04h-2z"/><path fill="#f8e8e8" d="M366 147.5h2v45.04h-2zM413 147.5h2v45.04h-2zM444 147.5h2v45.04h-2zM448 147.5h1v45.04h-1zM491 147.5h1v45.04h-1zM590 147.5h1v45.04h-1z"/><path fill="#fff0f0" d="M368 147.5h2v45.04h-2zM377 147.5h1v45.04h-1zM386 147.5h1v45.04h-1zM406 147.5h1v45.04h-1zM408 147.5h2v45.04h-2zM412 147.5h1v45.04h-1zM463 147.5h2v45.04h-2zM490 147.5h1v45.04h-1zM496 147.5h2v45.04h-2zM504 147.5h1v45.04h-1zM508 147.5h1v45.04h-1zM550 147.5h2v45.04h-2zM573 147.5h2v45.04h-2zM594 147.5h2v45.04h-2z"/><path fill="#f8d0d8" d="M370 147.5h2v45.04h-2z"/><path fill="#b0a8f0" d="M372 147.5h2v45.04h-2z"/><path fill="#d8c0e0" d="M374 147.5h2v45.04h-2z"/><path fill="#e0d0e8" d="M376 147.5h1v45.04h-1z"/><path fill="#f8e8f0" d="M378 147.5h1v45.04h-1zM505 147.5h2v45.04h-2zM540 147.5h1v45.04h-1zM588 147.5h1v45.04h-1z"/><path fill="#f8d0d0" d="M379 147.5h2v45.04h-2zM382 147.5h2v45.04h-2zM402 147.5h1v45.04h-1zM443 147.5h1v45.04h-1zM513 147.5h2v45.04h-2zM525 147.5h2v45.04h-2zM560 147.5h1v45.04h-1zM582 147.5h2v45.04h-2zM587 147.5h1v45.04h-1z"/><path fill="#d0c8f8" d="M381 147.5h1v45.04h-1zM568 147.5h1v45.04h-1zM610 147.5h2v45.04h-2z"/><path fill="#f8d8d8" d="M384 147.5h1v45.04h-1zM427 147.5h2v45.04h-2zM437 147.5h2v45.04h-2zM452 147.5h2v45.04h-2zM465 147.5h2v45.04h-2zM517 147.5h1v45.04h-1zM579 147.5h2v45.04h-2zM586 147.5h1v45.04h-1z"/><path fill="#fff8f8" d="M385 147.5h1v45.04h-1zM393 147.5h1v45.04h-1zM460 147.5h1v45.04h-1zM471 147.5h1v45.04h-1zM475 147.5h1v45.04h-1zM485 147.5h1v45.04h-1zM502 147.5h2v45.04h-2zM519 147.5h3v45.04h-3zM545 147.5h2v45.04h-2zM563 147.5h1v45.04h-1z"/><path fill="#f8e0e0" d="M387 147.5h2v45.04h-2zM394 147.5h2v45.04h-2zM403 147.5h1v45.04h-1zM411 147.5h1v45.04h-1zM420 147.5h2v45.04h-2zM433 147.5h2v45.04h-2zM436 147.5h1v45.04h-1zM479 147.5h1v45.04h-1zM483 147.5h2v45.04h-2zM486 147.5h1v45.04h-1zM518 147.5h1v45.04h-1zM527 147.5h2v45.04h-2zM541 147.5h2v45.04h-2zM561 147.5h2v45.04h-2zM584 147.5h1v45.04h-1z"/><path fill="#ffe8e8" d="M389 147.5h1v45.04h-1zM492 147.5h2v45.04h-2zM510 147.5h1v45.04h-1zM534 147.5h1v45.04h-1zM537 147.5h2v45.04h-2zM543 147.5h2v45.04h-2zM571 147.5h2v45.04h-2zM589 147.5h1v45.04h-1z"/><path fill="#b8b0f0" d="M390 147.5h2v45.04h-2zM431 147.5h1v45.04h-1z"/><path fill="#d8d8f8" d="M392 147.5h1v45.04h-1zM410 147.5h1v45.04h-1zM417 147.5h1v45.04h-1zM554 147.5h1v45.04h-1z"/><path fill="#f07878" d="M396 147.5h1v45.04h-1z"/><path fill="#f8c8c8" d="M397 147.5h1v45.04h-1zM426 147.5h1v45.04h-1zM461 147.5h2v45.04h-2zM467 147.5h2v45.04h-2zM482 147.5h1v45.04h-1zM507 147.5h1v45.04h-1zM524 147.5h1v45.04h-1zM539 147.5h1v45.04h-1z"/><path fill="#f0e0e8" d="M400 147.5h2v45.04h-2zM429 147.5h2v45.04h-2z"/><path fill="#e8e8f8" d="M415 147.5h1v45.04h-1zM441 147.5h1v45.04h-1zM454 147.5h2v45.04h-2zM597 147.5h1v45.04h-1zM608 147.5h2v45.04h-2z"/><path fill="#f8b0b0" d="M416 147.5h1v45.04h-1zM450 147.5h2v45.04h-2zM511 147.5h1v45.04h-1z"/><path fill="#e0b0c8" d="M418 147.5h2v45.04h-2z"/><path fill="#f8f8ff" d="M422 147.5h2v45.04h-2zM469 147.5h2v45.04h-2zM476 147.5h1v45.04h-1zM529 147.5h2v45.04h-2zM558 147.5h2v45.04h-2z"/><path fill="#f8f8f8" d="M424 147.5h2v45.04h-2zM509 147.5h1v45.04h-1zM512 147.5h1v45.04h-1z"/><path fill="#ffffff" d="M432 147.5h1v45.04h-1zM474 147.5h1v45.04h-1zM522 147.5h2v45.04h-2zM591 147.5h2v45.04h-2z"/><path fill="#d0d0f8" d="M435 147.5h1v45.04h-1zM552 147.5h2v45.04h-2zM605 147.5h1v45.04h-1z"/><path fill="#f08080" d="M439 147.5h1v45.04h-1z"/><path fill="#e8e0f8" d="M440 147.5h1v45.04h-1zM604 147.5h1v45.04h-1zM606 147.5h1v45.04h-1zM619 147.5h1v45.04h-1z"/><path fill="#f0f0ff" d="M446 147.5h2v45.04h-2z"/><path fill="#e8c8e0" d="M456 147.5h2v45.04h-2z"/><path fill="#f0e8f8" d="M458 147.5h2v45.04h-2zM596 147.5h1v45.04h-1zM601 147.5h2v45.04h-2z"/><path fill="#f0e0f0" d="M472 147.5h2v45.04h-2z"/><path fill="#a080d8" d="M480 147.5h2v45.04h-2z"/><path fill="#f0e8f0" d="M487 147.5h1v45.04h-1zM515 147.5h2v45.04h-2z"/><path fill="#f0a8a8" d="M494 147.5h2v45.04h-2zM549 147.5h1v45.04h-1z"/><path fill="#e8c0d0" d="M498 147.5h1v45.04h-1z"/><path fill="#f8b8b8" d="M499 147.5h2v45.04h-2zM547 147.5h2v45.04h-2z"/><path fill="#f8a8a8" d="M501 147.5h1v45.04h-1zM575 147.5h1v45.04h-1z"/><path fill="#f8f0ff" d="M531 147.5h2v45.04h-2z"/><path fill="#d8d0f8" d="M533 147.5h1v45.04h-1zM585 147.5h1v45.04h-1zM620 147.5h1v45.04h-1z"/><path fill="#f0a0a0" d="M535 147.5h2v45.04h-2z"/><path fill="#f0f0f8" d="M555 147.5h2v45.04h-2zM576 147.5h2v45.04h-2z"/><path fill="#f09090" d="M564 147.5h2v45.04h-2z"/><path fill="#fff8ff" d="M569 147.5h1v45.04h-1z"/><path fill="#c8c0f0" d="M570 147.5h1v45.04h-1z"/><path fill="#9890f0" d="M581 147.5h1v45.04h-1z"/><path fill="#f0d8e0" d="M593 147.5h1v45.04h-1z"/><path fill="#e0e0f8" d="M598 147.5h1v45.04h-1zM607 147.5h1v45.04h-1zM612 147.5h3v45.04h-3zM616 147.5h1v45.04h-1z"/><path fill="#c8c8f8" d="M599 147.5h2v45.04h-2z"/><path fill="#e0d8f8" d="M603 147.5h1v45.04h-1zM615 147.5h1v45.04h-1zM617 147.5h2v45.04h-2z"/><text x="622.8" y="177.2" font-family='"Liberation Serif", serif' font-size="11.7" stroke="#000" stroke-width="0.25" textLength="44.7" lengthAdjust="spacingAndGlyphs">SLC7A11</text><path fill="#f8e0e0" d="M355 192h1v45.04h-1zM391 192h1v45.04h-1zM423 192h1v45.04h-1zM444 192h1v45.04h-1zM447 192h3v45.04h-3zM453 192h1v45.04h-1zM457 192h1v45.04h-1zM491 192h1v45.04h-1zM548 192h2v45.04h-2z"/><path fill="#f8f8ff" d="M356 192h2v45.04h-2zM405 192h2v45.04h-2zM416 192h1v45.04h-1zM564 192h1v45.04h-1zM579 192h2v45.04h-2zM584 192h2v45.04h-2zM590 192h1v45.04h-1zM595 192h1v45.04h-1zM599 192h1v45.04h-1zM616 192h2v45.04h-2z"/><path fill="#fff0f0" d="M358 192h1v45.04h-1zM389 192h2v45.04h-2zM395 192h1v45.04h-1zM410 192h1v45.04h-1zM428 192h2v45.04h-2zM433 192h2v45.04h-2zM443 192h1v45.04h-1zM446 192h1v45.04h-1zM478 192h1v45.04h-1zM518 192h2v45.04h-2zM554 192h3v45.04h-3zM593 192h2v45.04h-2z"/><path fill="#f8e8f0" d="M359 192h2v45.04h-2zM460 192h1v45.04h-1zM547 192h1v45.04h-1z"/><path fill="#e8e0f0" d="M361 192h2v45.04h-2zM520 192h2v45.04h-2zM569 192h1v45.04h-1z"/><path fill="#e8e0f8" d="M363 192h2v45.04h-2zM439 192h2v45.04h-2zM492 192h2v45.04h-2zM529 192h2v45.04h-2zM546 192h1v45.04h-1zM582 192h2v45.04h-2z"/><path fill="#b8b0f0" d="M365 192h1v45.04h-1zM378 192h1v45.04h-1z"/><path fill="#c8c8f8" d="M366 192h2v45.04h-2zM402 192h2v45.04h-2z"/><path fill="#f8f0f0" d="M368 192h2v45.04h-2z"/><path fill="#f8c0c0" d="M370 192h2v45.04h-2zM469 192h1v45.04h-1z"/><path fill="#e8d8f0" d="M372 192h1v45.04h-1z"/><path fill="#f8f0ff" d="M373 192h1v45.04h-1zM596 192h2v45.04h-2zM601 192h2v45.04h-2zM604 192h2v45.04h-2zM613 192h2v45.04h-2z"/><path fill="#e0e0f8" d="M374 192h2v45.04h-2zM404 192h1v45.04h-1zM488 192h1v45.04h-1zM543 192h3v45.04h-3zM570 192h1v45.04h-1zM578 192h1v45.04h-1z"/><path fill="#f8e8e8" d="M376 192h1v45.04h-1z"/><path fill="#ffffff" d="M377 192h1v45.04h-1zM382 192h1v45.04h-1zM430 192h2v45.04h-2zM497 192h1v45.04h-1zM499 192h2v45.04h-2zM598 192h1v45.04h-1z"/><path fill="#d8d8f8" d="M379 192h1v45.04h-1zM383 192h1v45.04h-1zM424 192h2v45.04h-2zM455 192h2v45.04h-2zM472 192h2v45.04h-2zM510 192h1v45.04h-1z"/><path fill="#f0f0f8" d="M380 192h1v45.04h-1zM399 192h1v45.04h-1zM477 192h1v45.04h-1zM536 192h2v45.04h-2zM568 192h1v45.04h-1zM574 192h1v45.04h-1zM609 192h2v45.04h-2z"/><path fill="#f0e8f0" d="M381 192h1v45.04h-1zM479 192h1v45.04h-1z"/><path fill="#7868e8" d="M384 192h2v45.04h-2z"/><path fill="#e8e8f8" d="M386 192h1v45.04h-1zM411 192h1v45.04h-1zM468 192h1v45.04h-1zM470 192h2v45.04h-2zM516 192h2v45.04h-2zM559 192h1v45.04h-1zM581 192h1v45.04h-1zM600 192h1v45.04h-1zM619 192h2v45.04h-2z"/><path fill="#f0e8f8" d="M387 192h1v45.04h-1zM451 192h2v45.04h-2zM505 192h1v45.04h-1zM542 192h1v45.04h-1z"/><path fill="#f8d8d8" d="M388 192h1v45.04h-1zM397 192h2v45.04h-2zM511 192h2v45.04h-2zM557 192h1v45.04h-1z"/><path fill="#f0d8e0" d="M392 192h2v45.04h-2z"/><path fill="#f0f0ff" d="M394 192h1v45.04h-1zM438 192h1v45.04h-1zM450 192h1v45.04h-1zM503 192h2v45.04h-2zM524 192h2v45.04h-2zM603 192h1v45.04h-1zM606 192h3v45.04h-3zM611 192h2v45.04h-2zM615 192h1v45.04h-1zM618 192h1v45.04h-1z"/><path fill="#4830e0" d="M396 192h1v45.04h-1zM482 192h2v45.04h-2z"/><path fill="#a8a0f0" d="M400 192h2v45.04h-2zM474 192h1v45.04h-1zM494 192h1v45.04h-1z"/><path fill="#c8c0f8" d="M407 192h1v45.04h-1zM480 192h2v45.04h-2z"/><path fill="#f8b0b0" d="M408 192h2v45.04h-2z"/><path fill="#d8d0f8" d="M412 192h2v45.04h-2zM421 192h2v45.04h-2zM484 192h1v45.04h-1zM571 192h2v45.04h-2zM588 192h2v45.04h-2z"/><path fill="#f0e0f0" d="M414 192h2v45.04h-2zM437 192h1v45.04h-1zM487 192h1v45.04h-1zM501 192h2v45.04h-2z"/><path fill="#fff8f8" d="M417 192h2v45.04h-2zM426 192h2v45.04h-2zM445 192h1v45.04h-1zM454 192h1v45.04h-1zM464 192h1v45.04h-1zM539 192h1v45.04h-1zM553 192h1v45.04h-1zM563 192h1v45.04h-1zM567 192h1v45.04h-1z"/><path fill="#f0e0e8" d="M419 192h2v45.04h-2zM489 192h2v45.04h-2zM573 192h1v45.04h-1z"/><path fill="#f8f8f8" d="M432 192h1v45.04h-1zM533 192h1v45.04h-1z"/><path fill="#9890e8" d="M435 192h2v45.04h-2z"/><path fill="#e0d8f8" d="M441 192h2v45.04h-2zM475 192h2v45.04h-2zM514 192h2v45.04h-2zM551 192h2v45.04h-2zM586 192h2v45.04h-2z"/><path fill="#d8c0e8" d="M458 192h2v45.04h-2z"/><path fill="#d0c8f8" d="M461 192h1v45.04h-1zM526 192h2v45.04h-2zM550 192h1v45.04h-1z"/><path fill="#e8c8d0" d="M462 192h2v45.04h-2z"/><path fill="#d0c0e8" d="M465 192h1v45.04h-1z"/><path fill="#ffe8e8" d="M466 192h2v45.04h-2zM495 192h1v45.04h-1zM534 192h2v45.04h-2z"/><path fill="#d8a8c0" d="M485 192h2v45.04h-2z"/><path fill="#e8c0d0" d="M496 192h1v45.04h-1z"/><path fill="#c0b8f0" d="M498 192h1v45.04h-1zM558 192h1v45.04h-1zM576 192h1v45.04h-1z"/><path fill="#e0c8e0" d="M506 192h1v45.04h-1z"/><path fill="#d0d0f8" d="M507 192h2v45.04h-2zM560 192h1v45.04h-1z"/><path fill="#f8d0d0" d="M509 192h1v45.04h-1zM513 192h1v45.04h-1zM531 192h2v45.04h-2zM577 192h1v45.04h-1zM591 192h1v45.04h-1z"/><path fill="#f8b8b8" d="M522 192h2v45.04h-2z"/><path fill="#f0c8d8" d="M528 192h1v45.04h-1z"/><path fill="#f8c8c8" d="M538 192h1v45.04h-1z"/><path fill="#f0c0c8" d="M540 192h2v45.04h-2z"/><path fill="#c0c0f0" d="M561 192h1v45.04h-1z"/><path fill="#a898f0" d="M562 192h1v45.04h-1z"/><path fill="#d8c0e0" d="M565 192h2v45.04h-2z"/><path fill="#f0b0b8" d="M575 192h1v45.04h-1z"/><path fill="#f0a0a0" d="M592 192h1v45.04h-1z"/><text x="622.8" y="221.7" font-family='"Liberation Serif", serif' font-size="11.7" stroke="#000" stroke-width="0.25" textLength="39.5" lengthAdjust="spacingAndGlyphs">SLC3A2</text><path fill="#f09090" d="M355 236.4h1v45.04h-1z"/><path fill="#f0f0f8" d="M356 236.4h1v45.04h-1zM408 236.4h1v45.04h-1zM413 236.4h2v45.04h-2zM464 236.4h1v45.04h-1zM472 236.4h1v45.04h-1zM522 236.4h2v45.04h-2zM617 236.4h1v45.04h-1z"/><path fill="#f0f0ff" d="M357 236.4h1v45.04h-1zM366 236.4h1v45.04h-1zM445 236.4h1v45.04h-1zM455 236.4h1v45.04h-1zM557 236.4h2v45.04h-2z"/><path fill="#f8d0d0" d="M358 236.4h1v45.04h-1zM367 236.4h2v45.04h-2zM388 236.4h1v45.04h-1zM449 236.4h2v45.04h-2zM516 236.4h1v45.04h-1zM530 236.4h1v45.04h-1zM535 236.4h1v45.04h-1zM544 236.4h1v45.04h-1z"/><path fill="#d0c8f8" d="M359 236.4h1v45.04h-1zM391 236.4h1v45.04h-1zM415 236.4h1v45.04h-1z"/><path fill="#d8d0f8" d="M360 236.4h2v45.04h-2zM425 236.4h2v45.04h-2zM456 236.4h1v45.04h-1zM574 236.4h2v45.04h-2zM598 236.4h2v45.04h-2zM602 236.4h2v45.04h-2z"/><path fill="#d0c8f0" d="M362 236.4h1v45.04h-1z"/><path fill="#f8b8b8" d="M363 236.4h1v45.04h-1z"/><path fill="#f8e8e8" d="M364 236.4h2v45.04h-2zM398 236.4h1v45.04h-1zM436 236.4h1v45.04h-1zM468 236.4h1v45.04h-1zM486 236.4h1v45.04h-1zM576 236.4h1v45.04h-1z"/><path fill="#f8d8d8" d="M369 236.4h2v45.04h-2zM514 236.4h2v45.04h-2zM531 236.4h2v45.04h-2zM559 236.4h1v45.04h-1z"/><path fill="#f8f8ff" d="M371 236.4h1v45.04h-1zM376 236.4h2v45.04h-2zM381 236.4h2v45.04h-2zM397 236.4h1v45.04h-1zM422 236.4h2v45.04h-2zM434 236.4h2v45.04h-2zM443 236.4h1v45.04h-1zM446 236.4h3v45.04h-3zM467 236.4h1v45.04h-1zM469 236.4h1v45.04h-1zM511 236.4h2v45.04h-2zM579 236.4h1v45.04h-1z"/><path fill="#b0a8f0" d="M372 236.4h1v45.04h-1z"/><path fill="#e8e8f8" d="M373 236.4h2v45.04h-2zM417 236.4h1v45.04h-1zM440 236.4h1v45.04h-1zM500 236.4h1v45.04h-1zM517 236.4h1v45.04h-1zM527 236.4h1v45.04h-1zM540 236.4h1v45.04h-1zM589 236.4h2v45.04h-2zM596 236.4h2v45.04h-2zM614 236.4h2v45.04h-2z"/><path fill="#f0a8a8" d="M375 236.4h1v45.04h-1z"/><path fill="#f0e8f8" d="M378 236.4h1v45.04h-1zM420 236.4h2v45.04h-2zM451 236.4h1v45.04h-1zM503 236.4h2v45.04h-2zM565 236.4h1v45.04h-1zM608 236.4h2v45.04h-2z"/><path fill="#d098b8" d="M379 236.4h2v45.04h-2z"/><path fill="#e8e0f0" d="M383 236.4h2v45.04h-2zM394 236.4h1v45.04h-1zM506 236.4h1v45.04h-1z"/><path fill="#e8d0e8" d="M385 236.4h1v45.04h-1zM404 236.4h1v45.04h-1z"/><path fill="#e0d0e8" d="M386 236.4h2v45.04h-2z"/><path fill="#f8e0e0" d="M389 236.4h2v45.04h-2zM392 236.4h2v45.04h-2zM395 236.4h2v45.04h-2zM462 236.4h2v45.04h-2zM466 236.4h1v45.04h-1zM505 236.4h1v45.04h-1zM518 236.4h1v45.04h-1zM520 236.4h1v45.04h-1zM533 236.4h2v45.04h-2zM566 236.4h2v45.04h-2zM570 236.4h2v45.04h-2z"/><path fill="#f8d8e0" d="M399 236.4h2v45.04h-2zM454 236.4h1v45.04h-1z"/><path fill="#f0d8e8" d="M401 236.4h2v45.04h-2z"/><path fill="#ffe8e8" d="M403 236.4h1v45.04h-1zM430 236.4h1v45.04h-1zM457 236.4h1v45.04h-1zM470 236.4h1v45.04h-1zM538 236.4h2v45.04h-2zM548 236.4h3v45.04h-3zM553 236.4h2v45.04h-2zM560 236.4h4v45.04h-4zM582 236.4h1v45.04h-1zM584 236.4h3v45.04h-3z"/><path fill="#e0e0f8" d="M405 236.4h1v45.04h-1zM429 236.4h1v45.04h-1zM432 236.4h2v45.04h-2zM487 236.4h1v45.04h-1zM551 236.4h2v45.04h-2zM555 236.4h1v45.04h-1zM604 236.4h2v45.04h-2zM612 236.4h2v45.04h-2zM618 236.4h3v45.04h-3z"/><path fill="#b8b0f0" d="M406 236.4h2v45.04h-2z"/><path fill="#f0e8f0" d="M409 236.4h2v45.04h-2zM452 236.4h2v45.04h-2z"/><path fill="#e8e0f8" d="M411 236.4h2v45.04h-2zM416 236.4h1v45.04h-1zM437 236.4h2v45.04h-2zM484 236.4h2v45.04h-2zM492 236.4h2v45.04h-2zM600 236.4h1v45.04h-1z"/><path fill="#fff8f8" d="M418 236.4h1v45.04h-1zM458 236.4h2v45.04h-2zM478 236.4h2v45.04h-2zM497 236.4h3v45.04h-3zM537 236.4h1v45.04h-1zM541 236.4h1v45.04h-1zM545 236.4h2v45.04h-2zM556 236.4h1v45.04h-1zM572 236.4h1v45.04h-1zM587 236.4h2v45.04h-2zM593 236.4h1v45.04h-1z"/><path fill="#d0d0f8" d="M419 236.4h1v45.04h-1zM547 236.4h1v45.04h-1zM595 236.4h1v45.04h-1z"/><path fill="#b090d8" d="M424 236.4h1v45.04h-1z"/><path fill="#c0b8f0" d="M427 236.4h1v45.04h-1zM460 236.4h1v45.04h-1zM501 236.4h2v45.04h-2z"/><path fill="#a8a0f0" d="M428 236.4h1v45.04h-1zM444 236.4h1v45.04h-1z"/><path fill="#f0c8d0" d="M431 236.4h1v45.04h-1z"/><path fill="#f8f0f8" d="M439 236.4h1v45.04h-1zM473 236.4h3v45.04h-3zM577 236.4h1v45.04h-1z"/><path fill="#fff0f0" d="M441 236.4h2v45.04h-2zM465 236.4h1v45.04h-1zM490 236.4h2v45.04h-2zM519 236.4h1v45.04h-1zM524 236.4h1v45.04h-1zM526 236.4h1v45.04h-1zM536 236.4h1v45.04h-1zM580 236.4h2v45.04h-2z"/><path fill="#ffffff" d="M461 236.4h1v45.04h-1z"/><path fill="#f8f0f0" d="M471 236.4h1v45.04h-1zM578 236.4h1v45.04h-1z"/><path fill="#c8b8e8" d="M476 236.4h2v45.04h-2z"/><path fill="#c8c8f8" d="M480 236.4h1v45.04h-1z"/><path fill="#f8c8c8" d="M481 236.4h2v45.04h-2zM513 236.4h1v45.04h-1zM525 236.4h1v45.04h-1zM528 236.4h2v45.04h-2zM583 236.4h1v45.04h-1z"/><path fill="#f0d8e0" d="M483 236.4h1v45.04h-1z"/><path fill="#f8c0c0" d="M488 236.4h2v45.04h-2zM564 236.4h1v45.04h-1z"/><path fill="#e8d8f0" d="M494 236.4h2v45.04h-2z"/><path fill="#e0d8f8" d="M496 236.4h1v45.04h-1zM601 236.4h1v45.04h-1zM610 236.4h2v45.04h-2z"/><path fill="#f0a0a0" d="M507 236.4h1v45.04h-1z"/><path fill="#c8c0f8" d="M508 236.4h1v45.04h-1z"/><path fill="#d8d8f8" d="M509 236.4h1v45.04h-1zM606 236.4h2v45.04h-2zM616 236.4h1v45.04h-1z"/><path fill="#d8d0f0" d="M510 236.4h1v45.04h-1z"/><path fill="#f8f0ff" d="M521 236.4h1v45.04h-1zM594 236.4h1v45.04h-1z"/><path fill="#c8c0f0" d="M542 236.4h2v45.04h-2z"/><path fill="#f8f8f8" d="M568 236.4h2v45.04h-2z"/><path fill="#f8e8f0" d="M573 236.4h1v45.04h-1z"/><path fill="#d8c8f0" d="M591 236.4h2v45.04h-2z"/><text x="622.8" y="266.1" font-family='"Liberation Serif", serif' font-size="11.7" stroke="#000" stroke-width="0.25" textLength="39.5" lengthAdjust="spacingAndGlyphs">SLC1A5</text><path fill="#f0f0f8" d="M355 280.8h1v45.04h-1zM365 280.8h1v45.04h-1zM367 280.8h1v45.04h-1zM381 280.8h1v45.04h-1zM455 280.8h1v45.04h-1zM457 280.8h1v45.04h-1zM519 280.8h2v45.04h-2zM549 280.8h1v45.04h-1zM581 280.8h2v45.04h-2z"/><path fill="#f8f0f8" d="M356 280.8h1v45.04h-1zM496 280.8h2v45.04h-2zM564 280.8h1v45.04h-1zM576 280.8h2v45.04h-2z"/><path fill="#f8e8f0" d="M357 280.8h2v45.04h-2zM528 280.8h2v45.04h-2z"/><path fill="#f8d0d0" d="M359 280.8h1v45.04h-1zM468 280.8h1v45.04h-1zM479 280.8h2v45.04h-2zM524 280.8h1v45.04h-1z"/><path fill="#d8d8f8" d="M360 280.8h1v45.04h-1zM461 280.8h1v45.04h-1zM487 280.8h2v45.04h-2zM493 280.8h1v45.04h-1zM544 280.8h1v45.04h-1zM610 280.8h1v45.04h-1z"/><path fill="#f8f8ff" d="M361 280.8h1v45.04h-1zM382 280.8h1v45.04h-1zM399 280.8h1v45.04h-1zM420 280.8h2v45.04h-2zM475 280.8h1v45.04h-1zM477 280.8h2v45.04h-2zM485 280.8h2v45.04h-2zM505 280.8h1v45.04h-1zM511 280.8h1v45.04h-1zM583 280.8h3v45.04h-3zM593 280.8h1v45.04h-1z"/><path fill="#f8e8e8" d="M362 280.8h2v45.04h-2zM366 280.8h1v45.04h-1zM425 280.8h2v45.04h-2zM589 280.8h1v45.04h-1z"/><path fill="#f8d8d8" d="M364 280.8h1v45.04h-1zM400 280.8h1v45.04h-1zM462 280.8h1v45.04h-1zM501 280.8h2v45.04h-2zM550 280.8h1v45.04h-1z"/><path fill="#e0e0f8" d="M368 280.8h2v45.04h-2zM391 280.8h1v45.04h-1zM415 280.8h2v45.04h-2zM439 280.8h2v45.04h-2zM483 280.8h2v45.04h-2zM508 280.8h3v45.04h-3zM578 280.8h1v45.04h-1zM594 280.8h1v45.04h-1z"/><path fill="#d0c8f8" d="M370 280.8h2v45.04h-2zM405 280.8h2v45.04h-2zM442 280.8h2v45.04h-2zM512 280.8h2v45.04h-2zM595 280.8h2v45.04h-2zM601 280.8h1v45.04h-1zM603 280.8h1v45.04h-1zM614 280.8h1v45.04h-1zM616 280.8h1v45.04h-1z"/><path fill="#ffe8e8" d="M372 280.8h2v45.04h-2zM377 280.8h2v45.04h-2zM417 280.8h1v45.04h-1zM431 280.8h2v45.04h-2zM531 280.8h4v45.04h-4zM566 280.8h2v45.04h-2zM571 280.8h1v45.04h-1z"/><path fill="#e0d8f8" d="M374 280.8h1v45.04h-1zM608 280.8h1v45.04h-1z"/><path fill="#f0e8f8" d="M375 280.8h1v45.04h-1zM539 280.8h3v45.04h-3z"/><path fill="#fff0f0" d="M376 280.8h1v45.04h-1zM460 280.8h1v45.04h-1zM506 280.8h2v45.04h-2zM518 280.8h1v45.04h-1zM527 280.8h1v45.04h-1zM548 280.8h1v45.04h-1zM569 280.8h2v45.04h-2z"/><path fill="#ffffff" d="M379 280.8h1v45.04h-1zM434 280.8h1v45.04h-1zM453 280.8h1v45.04h-1zM580 280.8h1v45.04h-1zM586 280.8h1v45.04h-1z"/><path fill="#f0f0ff" d="M380 280.8h1v45.04h-1zM383 280.8h4v45.04h-4zM403 280.8h2v45.04h-2zM437 280.8h2v45.04h-2zM441 280.8h1v45.04h-1zM458 280.8h1v45.04h-1zM471 280.8h4v45.04h-4zM481 280.8h2v45.04h-2zM494 280.8h2v45.04h-2zM530 280.8h1v45.04h-1zM554 280.8h1v45.04h-1z"/><path fill="#b0a8f0" d="M387 280.8h1v45.04h-1zM390 280.8h1v45.04h-1zM394 280.8h2v45.04h-2z"/><path fill="#e8e8f8" d="M388 280.8h2v45.04h-2zM418 280.8h1v45.04h-1zM427 280.8h2v45.04h-2zM436 280.8h1v45.04h-1zM448 280.8h1v45.04h-1zM551 280.8h2v45.04h-2zM559 280.8h2v45.04h-2zM590 280.8h2v45.04h-2z"/><path fill="#e8d8e8" d="M392 280.8h2v45.04h-2zM466 280.8h2v45.04h-2zM514 280.8h1v45.04h-1z"/><path fill="#d0d0f8" d="M396 280.8h1v45.04h-1zM498 280.8h1v45.04h-1zM562 280.8h2v45.04h-2zM599 280.8h1v45.04h-1zM602 280.8h1v45.04h-1zM611 280.8h1v45.04h-1zM619 280.8h2v45.04h-2z"/><path fill="#f0a8a8" d="M397 280.8h2v45.04h-2z"/><path fill="#e8c0d0" d="M401 280.8h2v45.04h-2z"/><path fill="#f8e0e8" d="M407 280.8h1v45.04h-1z"/><path fill="#f07878" d="M408 280.8h2v45.04h-2z"/><path fill="#a898f0" d="M410 280.8h2v45.04h-2z"/><path fill="#b8b0f0" d="M412 280.8h1v45.04h-1zM459 280.8h1v45.04h-1zM556 280.8h1v45.04h-1z"/><path fill="#fff8f8" d="M413 280.8h2v45.04h-2zM446 280.8h2v45.04h-2zM464 280.8h2v45.04h-2zM535 280.8h1v45.04h-1zM561 280.8h1v45.04h-1z"/><path fill="#a098f0" d="M419 280.8h1v45.04h-1z"/><path fill="#e0c0d0" d="M422 280.8h2v45.04h-2z"/><path fill="#f8f0f0" d="M424 280.8h1v45.04h-1z"/><path fill="#a090f0" d="M429 280.8h1v45.04h-1zM469 280.8h2v45.04h-2z"/><path fill="#c8c8f8" d="M430 280.8h1v45.04h-1zM525 280.8h2v45.04h-2zM565 280.8h1v45.04h-1zM597 280.8h1v45.04h-1zM615 280.8h1v45.04h-1z"/><path fill="#e84040" d="M433 280.8h1v45.04h-1z"/><path fill="#f8c8c8" d="M435 280.8h1v45.04h-1zM444 280.8h2v45.04h-2zM546 280.8h1v45.04h-1zM579 280.8h1v45.04h-1z"/><path fill="#f8e0e0" d="M449 280.8h2v45.04h-2zM454 280.8h1v45.04h-1zM456 280.8h1v45.04h-1zM515 280.8h2v45.04h-2z"/><path fill="#c8c0f0" d="M451 280.8h2v45.04h-2z"/><path fill="#c8c0f8" d="M463 280.8h1v45.04h-1zM522 280.8h2v45.04h-2zM600 280.8h1v45.04h-1zM606 280.8h2v45.04h-2zM609 280.8h1v45.04h-1zM618 280.8h1v45.04h-1z"/><path fill="#a898e8" d="M476 280.8h1v45.04h-1z"/><path fill="#d880a0" d="M489 280.8h2v45.04h-2z"/><path fill="#c0b8f0" d="M491 280.8h2v45.04h-2z"/><path fill="#f0d0d8" d="M499 280.8h2v45.04h-2zM545 280.8h1v45.04h-1z"/><path fill="#d8a0c0" d="M503 280.8h2v45.04h-2z"/><path fill="#f8b8b8" d="M517 280.8h1v45.04h-1z"/><path fill="#d8d0f8" d="M521 280.8h1v45.04h-1zM543 280.8h1v45.04h-1zM572 280.8h3v45.04h-3zM598 280.8h1v45.04h-1zM612 280.8h2v45.04h-2zM617 280.8h1v45.04h-1z"/><path fill="#d0b8e8" d="M536 280.8h1v45.04h-1z"/><path fill="#9890e8" d="M537 280.8h2v45.04h-2z"/><path fill="#f8f8f8" d="M542 280.8h1v45.04h-1z"/><path fill="#e8d8f0" d="M547 280.8h1v45.04h-1z"/><path fill="#f8f0ff" d="M553 280.8h1v45.04h-1zM575 280.8h1v45.04h-1z"/><path fill="#e8e0f8" d="M555 280.8h1v45.04h-1zM557 280.8h2v45.04h-2z"/><path fill="#e8d0e0" d="M568 280.8h1v45.04h-1z"/><path fill="#e0c8e8" d="M587 280.8h1v45.04h-1z"/><path fill="#f8b0b0" d="M588 280.8h1v45.04h-1zM592 280.8h1v45.04h-1z"/><path fill="#c0c0f0" d="M604 280.8h2v45.04h-2z"/><text x="622.8" y="310.6" font-family='"Liberation Serif", serif' font-size="11.7" stroke="#000" stroke-width="0.25" textLength="45.1" lengthAdjust="spacingAndGlyphs">SLC39A7</text><path fill="#e8c8d8" d="M355 325.3h1v45.04h-1z"/><path fill="#e0e0f8" d="M356 325.3h1v45.04h-1zM459 325.3h1v45.04h-1z"/><path fill="#f0f0ff" d="M357 325.3h2v45.04h-2zM435 325.3h2v45.04h-2zM448 325.3h2v45.04h-2zM452 325.3h1v45.04h-1zM518 325.3h2v45.04h-2zM521 325.3h1v45.04h-1zM534 325.3h3v45.04h-3zM574 325.3h1v45.04h-1zM592 325.3h2v45.04h-2z"/><path fill="#e8e0f0" d="M359 325.3h1v45.04h-1zM443 325.3h1v45.04h-1z"/><path fill="#fff0f0" d="M360 325.3h1v45.04h-1zM391 325.3h1v45.04h-1zM404 325.3h1v45.04h-1zM410 325.3h2v45.04h-2zM414 325.3h2v45.04h-2zM427 325.3h2v45.04h-2zM440 325.3h2v45.04h-2zM450 325.3h2v45.04h-2zM464 325.3h2v45.04h-2zM532 325.3h2v45.04h-2zM547 325.3h1v45.04h-1zM551 325.3h2v45.04h-2zM557 325.3h3v45.04h-3zM567 325.3h1v45.04h-1zM569 325.3h1v45.04h-1zM581 325.3h1v45.04h-1zM598 325.3h2v45.04h-2zM603 325.3h2v45.04h-2zM608 325.3h6v45.04h-6zM615 325.3h1v45.04h-1zM618 325.3h2v45.04h-2z"/><path fill="#f8c8c8" d="M361 325.3h1v45.04h-1zM393 325.3h2v45.04h-2zM470 325.3h1v45.04h-1zM476 325.3h1v45.04h-1zM486 325.3h1v45.04h-1zM491 325.3h2v45.04h-2zM507 325.3h2v45.04h-2zM527 325.3h2v45.04h-2zM538 325.3h2v45.04h-2zM563 325.3h2v45.04h-2zM583 325.3h1v45.04h-1zM590 325.3h2v45.04h-2z"/><path fill="#f8d8d8" d="M362 325.3h2v45.04h-2zM367 325.3h2v45.04h-2zM416 325.3h1v45.04h-1zM455 325.3h1v45.04h-1zM471 325.3h1v45.04h-1zM512 325.3h1v45.04h-1zM529 325.3h2v45.04h-2zM553 325.3h1v45.04h-1z"/><path fill="#f8d0d0" d="M364 325.3h2v45.04h-2zM399 325.3h1v45.04h-1zM445 325.3h1v45.04h-1zM460 325.3h1v45.04h-1zM562 325.3h1v45.04h-1z"/><path fill="#d8d8f8" d="M366 325.3h1v45.04h-1zM556 325.3h1v45.04h-1z"/><path fill="#f8b8b8" d="M369 325.3h2v45.04h-2zM579 325.3h1v45.04h-1zM588 325.3h1v45.04h-1z"/><path fill="#c0b8f0" d="M371 325.3h1v45.04h-1zM483 325.3h1v45.04h-1z"/><path fill="#f8f8ff" d="M372 325.3h2v45.04h-2zM380 325.3h2v45.04h-2zM403 325.3h1v45.04h-1zM409 325.3h1v45.04h-1zM418 325.3h1v45.04h-1zM493 325.3h1v45.04h-1zM537 325.3h1v45.04h-1zM560 325.3h2v45.04h-2zM580 325.3h1v45.04h-1zM595 325.3h1v45.04h-1z"/><path fill="#e8e0f8" d="M374 325.3h1v45.04h-1zM423 325.3h1v45.04h-1zM426 325.3h1v45.04h-1zM510 325.3h2v45.04h-2z"/><path fill="#f8f0f0" d="M375 325.3h1v45.04h-1zM466 325.3h1v45.04h-1zM541 325.3h2v45.04h-2z"/><path fill="#fff8f8" d="M376 325.3h2v45.04h-2zM386 325.3h1v45.04h-1zM390 325.3h1v45.04h-1zM467 325.3h1v45.04h-1zM488 325.3h1v45.04h-1zM540 325.3h1v45.04h-1zM568 325.3h1v45.04h-1zM605 325.3h3v45.04h-3zM617 325.3h1v45.04h-1zM620 325.3h1v45.04h-1z"/><path fill="#a090e0" d="M378 325.3h2v45.04h-2z"/><path fill="#f0e0e8" d="M382 325.3h1v45.04h-1zM437 325.3h2v45.04h-2zM494 325.3h1v45.04h-1zM572 325.3h2v45.04h-2z"/><path fill="#e8d0e0" d="M383 325.3h2v45.04h-2z"/><path fill="#c8c0f8" d="M385 325.3h1v45.04h-1zM398 325.3h1v45.04h-1zM419 325.3h2v45.04h-2z"/><path fill="#ffe8e8" d="M387 325.3h1v45.04h-1zM456 325.3h1v45.04h-1zM487 325.3h1v45.04h-1zM549 325.3h2v45.04h-2zM596 325.3h2v45.04h-2zM602 325.3h1v45.04h-1zM614 325.3h1v45.04h-1z"/><path fill="#c8c0f0" d="M388 325.3h2v45.04h-2z"/><path fill="#f8e8e8" d="M392 325.3h1v45.04h-1zM412 325.3h2v45.04h-2zM453 325.3h2v45.04h-2zM543 325.3h2v45.04h-2zM555 325.3h1v45.04h-1zM616 325.3h1v45.04h-1z"/><path fill="#e0d0f0" d="M395 325.3h1v45.04h-1z"/><path fill="#f0f0f8" d="M396 325.3h2v45.04h-2zM439 325.3h1v45.04h-1z"/><path fill="#e0c8e8" d="M400 325.3h1v45.04h-1z"/><path fill="#d8d0f8" d="M401 325.3h2v45.04h-2zM417 325.3h1v45.04h-1zM516 325.3h2v45.04h-2zM586 325.3h2v45.04h-2z"/><path fill="#f8f0f8" d="M405 325.3h2v45.04h-2zM457 325.3h2v45.04h-2zM513 325.3h1v45.04h-1zM525 325.3h1v45.04h-1zM545 325.3h1v45.04h-1zM575 325.3h2v45.04h-2z"/><path fill="#f0e0f0" d="M407 325.3h2v45.04h-2zM421 325.3h2v45.04h-2z"/><path fill="#f8e0e0" d="M424 325.3h2v45.04h-2zM461 325.3h1v45.04h-1zM489 325.3h1v45.04h-1zM497 325.3h2v45.04h-2zM504 325.3h1v45.04h-1zM509 325.3h1v45.04h-1zM514 325.3h2v45.04h-2zM565 325.3h2v45.04h-2zM571 325.3h1v45.04h-1z"/><path fill="#f8d8e0" d="M429 325.3h2v45.04h-2zM463 325.3h1v45.04h-1z"/><path fill="#e8e8f8" d="M431 325.3h2v45.04h-2zM503 325.3h1v45.04h-1zM505 325.3h1v45.04h-1zM520 325.3h1v45.04h-1zM584 325.3h2v45.04h-2zM589 325.3h1v45.04h-1z"/><path fill="#9890e8" d="M433 325.3h2v45.04h-2z"/><path fill="#c0c0f0" d="M442 325.3h1v45.04h-1z"/><path fill="#4838e0" d="M444 325.3h1v45.04h-1z"/><path fill="#6050e0" d="M446 325.3h2v45.04h-2zM490 325.3h1v45.04h-1z"/><path fill="#ffffff" d="M462 325.3h1v45.04h-1zM526 325.3h1v45.04h-1zM548 325.3h1v45.04h-1zM570 325.3h1v45.04h-1zM600 325.3h2v45.04h-2z"/><path fill="#f8b0b0" d="M468 325.3h2v45.04h-2z"/><path fill="#f0a8a8" d="M472 325.3h2v45.04h-2z"/><path fill="#f08888" d="M474 325.3h2v45.04h-2z"/><path fill="#f0d8e0" d="M477 325.3h2v45.04h-2z"/><path fill="#f8e8f0" d="M479 325.3h2v45.04h-2zM499 325.3h1v45.04h-1zM582 325.3h1v45.04h-1z"/><path fill="#b8b0f0" d="M481 325.3h2v45.04h-2z"/><path fill="#f8c0c0" d="M484 325.3h2v45.04h-2z"/><path fill="#f0d0e0" d="M495 325.3h2v45.04h-2z"/><path fill="#f0e8f8" d="M500 325.3h2v45.04h-2zM522 325.3h1v45.04h-1zM554 325.3h1v45.04h-1z"/><path fill="#f8f0ff" d="M502 325.3h1v45.04h-1z"/><path fill="#e0c8e0" d="M506 325.3h1v45.04h-1z"/><path fill="#d0c8f0" d="M523 325.3h2v45.04h-2z"/><path fill="#f08080" d="M531 325.3h1v45.04h-1z"/><path fill="#f8e0e8" d="M546 325.3h1v45.04h-1z"/><path fill="#d8c8f0" d="M577 325.3h2v45.04h-2z"/><path fill="#c8c8f8" d="M594 325.3h1v45.04h-1z"/><text x="622.8" y="355.0" font-family='"Liberation Serif", serif' font-size="11.7" stroke="#000" stroke-width="0.25" textLength="50.6" lengthAdjust="spacingAndGlyphs">SLC25A28</text><path fill="#f8f8ff" d="M355 369.7h1v45.04h-1zM388 369.7h2v45.04h-2zM391 369.7h2v45.04h-2zM396 369.7h1v45.04h-1zM413 369.7h1v45.04h-1zM425 369.7h1v45.04h-1zM483 369.7h2v45.04h-2zM540 369.7h1v45.04h-1zM550 369.7h2v45.04h-2zM609 369.7h1v45.04h-1zM614 369.7h4v45.04h-4zM620 369.7h1v45.04h-1z"/><path fill="#e8e8f8" d="M356 369.7h1v45.04h-1zM361 369.7h2v45.04h-2zM529 369.7h1v45.04h-1zM574 369.7h2v45.04h-2zM583 369.7h1v45.04h-1zM595 369.7h2v45.04h-2zM605 369.7h2v45.04h-2zM612 369.7h2v45.04h-2z"/><path fill="#f0d0d8" d="M357 369.7h2v45.04h-2zM411 369.7h1v45.04h-1zM495 369.7h1v45.04h-1z"/><path fill="#f8e8f0" d="M359 369.7h2v45.04h-2zM387 369.7h1v45.04h-1z"/><path fill="#fff8f8" d="M363 369.7h2v45.04h-2zM394 369.7h1v45.04h-1zM507 369.7h1v45.04h-1zM512 369.7h1v45.04h-1zM522 369.7h2v45.04h-2zM546 369.7h2v45.04h-2z"/><path fill="#f8e0e0" d="M365 369.7h2v45.04h-2zM368 369.7h3v45.04h-3zM373 369.7h1v45.04h-1zM399 369.7h1v45.04h-1zM440 369.7h2v45.04h-2zM451 369.7h1v45.04h-1zM453 369.7h1v45.04h-1zM458 369.7h1v45.04h-1zM469 369.7h1v45.04h-1zM518 369.7h2v45.04h-2zM531 369.7h1v45.04h-1zM561 369.7h2v45.04h-2zM565 369.7h2v45.04h-2zM569 369.7h2v45.04h-2zM586 369.7h3v45.04h-3z"/><path fill="#fff0f0" d="M367 369.7h1v45.04h-1zM402 369.7h1v45.04h-1zM508 369.7h1v45.04h-1zM532 369.7h1v45.04h-1zM535 369.7h1v45.04h-1zM593 369.7h2v45.04h-2z"/><path fill="#f8f0f0" d="M371 369.7h1v45.04h-1zM379 369.7h2v45.04h-2zM426 369.7h2v45.04h-2zM490 369.7h1v45.04h-1z"/><path fill="#f8d0d0" d="M372 369.7h1v45.04h-1zM404 369.7h2v45.04h-2zM408 369.7h3v45.04h-3zM424 369.7h1v45.04h-1zM430 369.7h2v45.04h-2zM434 369.7h1v45.04h-1zM477 369.7h2v45.04h-2zM487 369.7h1v45.04h-1zM501 369.7h1v45.04h-1zM505 369.7h2v45.04h-2zM545 369.7h1v45.04h-1zM548 369.7h1v45.04h-1z"/><path fill="#d0c8f8" d="M374 369.7h1v45.04h-1zM445 369.7h1v45.04h-1zM536 369.7h1v45.04h-1z"/><path fill="#f8c8c8" d="M375 369.7h2v45.04h-2zM549 369.7h1v45.04h-1zM555 369.7h2v45.04h-2zM584 369.7h2v45.04h-2z"/><path fill="#f8f0f8" d="M377 369.7h2v45.04h-2zM407 369.7h1v45.04h-1zM418 369.7h2v45.04h-2zM466 369.7h2v45.04h-2z"/><path fill="#ffffff" d="M381 369.7h2v45.04h-2zM414 369.7h2v45.04h-2zM422 369.7h2v45.04h-2zM461 369.7h1v45.04h-1zM475 369.7h2v45.04h-2zM517 369.7h1v45.04h-1zM524 369.7h1v45.04h-1zM553 369.7h2v45.04h-2zM558 369.7h2v45.04h-2zM564 369.7h1v45.04h-1zM572 369.7h1v45.04h-1zM591 369.7h1v45.04h-1zM599 369.7h2v45.04h-2zM618 369.7h2v45.04h-2z"/><path fill="#f0f0ff" d="M383 369.7h2v45.04h-2zM406 369.7h1v45.04h-1zM439 369.7h1v45.04h-1zM464 369.7h1v45.04h-1zM482 369.7h1v45.04h-1zM601 369.7h1v45.04h-1zM603 369.7h2v45.04h-2zM607 369.7h2v45.04h-2zM610 369.7h1v45.04h-1z"/><path fill="#f8d8d8" d="M385 369.7h2v45.04h-2zM398 369.7h1v45.04h-1zM401 369.7h1v45.04h-1zM438 369.7h1v45.04h-1zM450 369.7h1v45.04h-1zM465 369.7h1v45.04h-1zM472 369.7h2v45.04h-2zM497 369.7h4v45.04h-4zM510 369.7h2v45.04h-2zM520 369.7h2v45.04h-2zM530 369.7h1v45.04h-1zM571 369.7h1v45.04h-1z"/><path fill="#f0e0f0" d="M390 369.7h1v45.04h-1zM503 369.7h1v45.04h-1z"/><path fill="#f8e8e8" d="M393 369.7h1v45.04h-1zM437 369.7h1v45.04h-1zM443 369.7h2v45.04h-2zM454 369.7h1v45.04h-1zM491 369.7h2v45.04h-2z"/><path fill="#f0e8f8" d="M395 369.7h1v45.04h-1zM470 369.7h2v45.04h-2zM509 369.7h1v45.04h-1zM563 369.7h1v45.04h-1z"/><path fill="#e0d8f8" d="M397 369.7h1v45.04h-1zM412 369.7h1v45.04h-1zM432 369.7h2v45.04h-2zM537 369.7h1v45.04h-1zM597 369.7h2v45.04h-2z"/><path fill="#d0d0f8" d="M400 369.7h1v45.04h-1z"/><path fill="#f0d0e0" d="M403 369.7h1v45.04h-1z"/><path fill="#e8d0e8" d="M416 369.7h2v45.04h-2z"/><path fill="#b888c0" d="M420 369.7h1v45.04h-1z"/><path fill="#e8e0f0" d="M421 369.7h1v45.04h-1zM552 369.7h1v45.04h-1z"/><path fill="#c8c0f8" d="M428 369.7h2v45.04h-2zM480 369.7h2v45.04h-2zM579 369.7h2v45.04h-2z"/><path fill="#ffe8e8" d="M435 369.7h2v45.04h-2zM459 369.7h2v45.04h-2zM485 369.7h1v45.04h-1zM488 369.7h2v45.04h-2zM573 369.7h1v45.04h-1z"/><path fill="#c8c8f8" d="M442 369.7h1v45.04h-1zM567 369.7h2v45.04h-2z"/><path fill="#d8d0f8" d="M446 369.7h2v45.04h-2zM462 369.7h1v45.04h-1zM502 369.7h1v45.04h-1zM504 369.7h1v45.04h-1z"/><path fill="#b8b0f0" d="M448 369.7h2v45.04h-2zM493 369.7h2v45.04h-2z"/><path fill="#e8a8b8" d="M452 369.7h1v45.04h-1z"/><path fill="#f0d8e8" d="M455 369.7h1v45.04h-1z"/><path fill="#f8b8b8" d="M456 369.7h2v45.04h-2zM581 369.7h2v45.04h-2z"/><path fill="#e0d0e8" d="M463 369.7h1v45.04h-1z"/><path fill="#f8c0c0" d="M468 369.7h1v45.04h-1zM479 369.7h1v45.04h-1zM514 369.7h2v45.04h-2zM589 369.7h2v45.04h-2z"/><path fill="#c090c0" d="M474 369.7h1v45.04h-1z"/><path fill="#d8d8f8" d="M486 369.7h1v45.04h-1zM544 369.7h1v45.04h-1z"/><path fill="#b0a8f0" d="M496 369.7h1v45.04h-1z"/><path fill="#f8b0b0" d="M513 369.7h1v45.04h-1z"/><path fill="#e0d8f0" d="M516 369.7h1v45.04h-1z"/><path fill="#f08080" d="M525 369.7h2v45.04h-2zM560 369.7h1v45.04h-1z"/><path fill="#f07070" d="M527 369.7h1v45.04h-1z"/><path fill="#e0e0f8" d="M528 369.7h1v45.04h-1z"/><path fill="#fff8ff" d="M533 369.7h2v45.04h-2z"/><path fill="#f0a8a8" d="M538 369.7h2v45.04h-2z"/><path fill="#e0c0d8" d="M541 369.7h2v45.04h-2z"/><path fill="#d0c8f0" d="M543 369.7h1v45.04h-1z"/><path fill="#9888e8" d="M557 369.7h1v45.04h-1z"/><path fill="#f8f8f8" d="M576 369.7h2v45.04h-2z"/><path fill="#f0e0e8" d="M578 369.7h1v45.04h-1z"/><path fill="#c0b8f0" d="M592 369.7h1v45.04h-1z"/><path fill="#f0f0f8" d="M602 369.7h1v45.04h-1zM611 369.7h1v45.04h-1z"/><text x="622.8" y="399.4" font-family='"Liberation Serif", serif' font-size="11.7" stroke="#000" stroke-width="0.25" textLength="44.7" lengthAdjust="spacingAndGlyphs">SLC11A2</text><path fill="#f8b8b8" d="M355 414.2h1v45.04h-1zM470 414.2h1v45.04h-1zM562 414.2h1v45.04h-1z"/><path fill="#f0f0ff" d="M356 414.2h2v45.04h-2zM366 414.2h1v45.04h-1zM398 414.2h1v45.04h-1zM428 414.2h2v45.04h-2zM432 414.2h1v45.04h-1zM437 414.2h1v45.04h-1zM477 414.2h2v45.04h-2zM546 414.2h1v45.04h-1zM552 414.2h1v45.04h-1zM566 414.2h1v45.04h-1zM576 414.2h1v45.04h-1z"/><path fill="#e0c8e8" d="M358 414.2h1v45.04h-1z"/><path fill="#f8f8ff" d="M359 414.2h1v45.04h-1zM397 414.2h1v45.04h-1zM404 414.2h1v45.04h-1zM416 414.2h1v45.04h-1zM461 414.2h1v45.04h-1zM463 414.2h1v45.04h-1zM468 414.2h2v45.04h-2zM485 414.2h2v45.04h-2zM533 414.2h1v45.04h-1zM540 414.2h1v45.04h-1zM548 414.2h2v45.04h-2zM554 414.2h1v45.04h-1zM569 414.2h3v45.04h-3z"/><path fill="#fff0f0" d="M360 414.2h1v45.04h-1zM380 414.2h1v45.04h-1zM399 414.2h1v45.04h-1zM405 414.2h1v45.04h-1zM449 414.2h1v45.04h-1zM479 414.2h2v45.04h-2zM488 414.2h1v45.04h-1zM491 414.2h2v45.04h-2zM516 414.2h1v45.04h-1zM585 414.2h1v45.04h-1zM591 414.2h2v45.04h-2zM596 414.2h1v45.04h-1zM605 414.2h3v45.04h-3zM610 414.2h2v45.04h-2zM616 414.2h1v45.04h-1zM619 414.2h1v45.04h-1z"/><path fill="#ffffff" d="M361 414.2h1v45.04h-1zM407 414.2h1v45.04h-1zM417 414.2h1v45.04h-1zM430 414.2h1v45.04h-1zM472 414.2h2v45.04h-2zM506 414.2h1v45.04h-1zM512 414.2h2v45.04h-2zM545 414.2h1v45.04h-1zM579 414.2h2v45.04h-2z"/><path fill="#e0e0f8" d="M362 414.2h2v45.04h-2zM374 414.2h1v45.04h-1zM444 414.2h2v45.04h-2zM498 414.2h1v45.04h-1zM586 414.2h2v45.04h-2zM589 414.2h2v45.04h-2z"/><path fill="#f8f8f8" d="M364 414.2h2v45.04h-2zM525 414.2h1v45.04h-1z"/><path fill="#ffe8e8" d="M367 414.2h1v45.04h-1zM381 414.2h2v45.04h-2zM393 414.2h1v45.04h-1zM419 414.2h1v45.04h-1zM544 414.2h1v45.04h-1zM557 414.2h2v45.04h-2zM593 414.2h1v45.04h-1zM597 414.2h3v45.04h-3zM620 414.2h1v45.04h-1z"/><path fill="#fff8f8" d="M368 414.2h2v45.04h-2zM401 414.2h2v45.04h-2zM420 414.2h1v45.04h-1zM433 414.2h1v45.04h-1zM493 414.2h1v45.04h-1zM528 414.2h1v45.04h-1zM542 414.2h1v45.04h-1zM547 414.2h1v45.04h-1zM565 414.2h1v45.04h-1zM568 414.2h1v45.04h-1zM583 414.2h1v45.04h-1zM618 414.2h1v45.04h-1z"/><path fill="#d8d0f8" d="M370 414.2h1v45.04h-1zM443 414.2h1v45.04h-1zM457 414.2h1v45.04h-1zM487 414.2h1v45.04h-1zM582 414.2h1v45.04h-1z"/><path fill="#f09090" d="M371 414.2h1v45.04h-1z"/><path fill="#d0b8e0" d="M372 414.2h1v45.04h-1z"/><path fill="#f0e0f0" d="M373 414.2h1v45.04h-1z"/><path fill="#fff8ff" d="M375 414.2h1v45.04h-1zM532 414.2h1v45.04h-1z"/><path fill="#f8e8e8" d="M376 414.2h2v45.04h-2zM391 414.2h2v45.04h-2zM394 414.2h2v45.04h-2zM426 414.2h2v45.04h-2zM458 414.2h2v45.04h-2zM494 414.2h3v45.04h-3zM555 414.2h1v45.04h-1zM572 414.2h2v45.04h-2zM602 414.2h3v45.04h-3zM614 414.2h2v45.04h-2z"/><path fill="#e8e8f8" d="M378 414.2h2v45.04h-2zM448 414.2h1v45.04h-1zM501 414.2h2v45.04h-2zM524 414.2h1v45.04h-1zM526 414.2h2v45.04h-2zM560 414.2h2v45.04h-2zM574 414.2h2v45.04h-2z"/><path fill="#d8d8f8" d="M383 414.2h2v45.04h-2zM423 414.2h1v45.04h-1zM438 414.2h2v45.04h-2z"/><path fill="#f8b0b0" d="M385 414.2h1v45.04h-1zM559 414.2h1v45.04h-1z"/><path fill="#f8d0d0" d="M386 414.2h1v45.04h-1zM453 414.2h1v45.04h-1zM543 414.2h1v45.04h-1z"/><path fill="#f8e0e0" d="M387 414.2h2v45.04h-2zM465 414.2h2v45.04h-2zM600 414.2h2v45.04h-2zM608 414.2h2v45.04h-2zM612 414.2h2v45.04h-2zM617 414.2h1v45.04h-1z"/><path fill="#f8d8d8" d="M389 414.2h2v45.04h-2zM456 414.2h1v45.04h-1zM510 414.2h2v45.04h-2zM530 414.2h2v45.04h-2zM556 414.2h1v45.04h-1zM567 414.2h1v45.04h-1zM594 414.2h2v45.04h-2z"/><path fill="#e8c8d8" d="M396 414.2h1v45.04h-1z"/><path fill="#f0e8f8" d="M400 414.2h1v45.04h-1zM462 414.2h1v45.04h-1zM489 414.2h2v45.04h-2zM578 414.2h1v45.04h-1z"/><path fill="#f8c0c0" d="M403 414.2h1v45.04h-1zM413 414.2h2v45.04h-2zM422 414.2h1v45.04h-1zM440 414.2h1v45.04h-1zM464 414.2h1v45.04h-1zM535 414.2h2v45.04h-2z"/><path fill="#e0d8f8" d="M406 414.2h1v45.04h-1zM460 414.2h1v45.04h-1zM497 414.2h1v45.04h-1zM539 414.2h1v45.04h-1z"/><path fill="#a090e8" d="M408 414.2h1v45.04h-1z"/><path fill="#f8f0f0" d="M409 414.2h2v45.04h-2z"/><path fill="#f0d0d8" d="M411 414.2h2v45.04h-2zM509 414.2h1v45.04h-1z"/><path fill="#e8d8f0" d="M415 414.2h1v45.04h-1z"/><path fill="#f0e8f0" d="M418 414.2h1v45.04h-1z"/><path fill="#9080e8" d="M421 414.2h1v45.04h-1z"/><path fill="#f8f0ff" d="M424 414.2h1v45.04h-1zM431 414.2h1v45.04h-1z"/><path fill="#e8d0e0" d="M425 414.2h1v45.04h-1z"/><path fill="#d0c8f8" d="M434 414.2h2v45.04h-2zM474 414.2h1v45.04h-1z"/><path fill="#b0a0f0" d="M436 414.2h1v45.04h-1z"/><path fill="#e8e0f8" d="M441 414.2h2v45.04h-2zM447 414.2h1v45.04h-1zM529 414.2h1v45.04h-1zM588 414.2h1v45.04h-1z"/><path fill="#f8f0f8" d="M446 414.2h1v45.04h-1zM450 414.2h1v45.04h-1z"/><path fill="#f0d8e8" d="M451 414.2h2v45.04h-2z"/><path fill="#c8c8f8" d="M454 414.2h2v45.04h-2zM471 414.2h1v45.04h-1zM517 414.2h4v45.04h-4zM553 414.2h1v45.04h-1z"/><path fill="#f0e0e8" d="M467 414.2h1v45.04h-1zM577 414.2h1v45.04h-1zM584 414.2h1v45.04h-1z"/><path fill="#c8c0f0" d="M475 414.2h2v45.04h-2z"/><path fill="#e0d0e8" d="M481 414.2h2v45.04h-2zM484 414.2h1v45.04h-1z"/><path fill="#f8a8a8" d="M483 414.2h1v45.04h-1z"/><path fill="#c0b8f0" d="M499 414.2h2v45.04h-2zM504 414.2h2v45.04h-2zM514 414.2h2v45.04h-2z"/><path fill="#d0d0f8" d="M503 414.2h1v45.04h-1z"/><path fill="#c8c0f8" d="M507 414.2h2v45.04h-2zM563 414.2h2v45.04h-2z"/><path fill="#b8b0f0" d="M521 414.2h2v45.04h-2z"/><path fill="#f8c8c8" d="M523 414.2h1v45.04h-1zM537 414.2h1v45.04h-1z"/><path fill="#f0f0f8" d="M534 414.2h1v45.04h-1zM581 414.2h1v45.04h-1z"/><path fill="#d8b8d8" d="M538 414.2h1v45.04h-1z"/><path fill="#e0d0f0" d="M541 414.2h1v45.04h-1z"/><path fill="#f8e8f0" d="M550 414.2h2v45.04h-2z"/><text x="622.8" y="443.9" font-family='"Liberation Serif", serif' font-size="11.7" stroke="#000" stroke-width="0.25" textLength="45.1" lengthAdjust="spacingAndGlyphs">SLC40A1</text><path d="M336.7 80.9H354.5M336.7 125.3H354.5M336.7 80.9V125.3M334.9 36.4H354.5M334.9 103.1H336.7M334.9 36.4V103.1M337.7 169.7H354.5M337.7 214.2H354.5M337.7 169.7V214.2M335.3 258.6H354.5M335.3 303.1H354.5M335.3 258.6V303.1M332.1 192.0H337.7M332.1 280.8H335.3M332.1 192.0V280.8M330.6 69.8H334.9M330.6 236.4H332.1M330.6 69.8V236.4M331.5 391.9H354.5M331.5 436.4H354.5M331.5 391.9V436.4M328.4 347.5H354.5M328.4 414.2H331.5M328.4 347.5V414.2M327.1 153.1H330.6M327.1 380.8H328.4M327.1 153.1V380.8" stroke="#2a2a2a" stroke-width="1" fill="none"/><text x="675.6" y="203.0" font-family='"Liberation Serif", serif' font-size="11" stroke="#000" stroke-width="0.25" textLength="51.3" lengthAdjust="spacingAndGlyphs">Expression</text><linearGradient id="expc" x1="0" y1="0" x2="1" y2="0"><stop offset="0" stop-color="#0000ff"/><stop offset="0.5" stop-color="#ffffff"/><stop offset="1" stop-color="#f03c3c"/></linearGradient><rect x="676.2" y="206.8" width="73.1" height="14.7" fill="url(#expc)"/><line x1="676.7" y1="221.5" x2="676.7" y2="225" stroke="#333" stroke-width="0.8"/><line x1="688.3" y1="221.5" x2="688.3" y2="225" stroke="#333" stroke-width="0.8"/><line x1="712.4" y1="221.5" x2="712.4" y2="225" stroke="#333" stroke-width="0.8"/><line x1="736.9" y1="221.5" x2="736.9" y2="225" stroke="#333" stroke-width="0.8"/><line x1="748.8" y1="221.5" x2="748.8" y2="225" stroke="#333" stroke-width="0.8"/><text x="687.0" y="236.2" font-family='"Liberation Serif", serif' font-size="11" text-anchor="middle" stroke="#000" stroke-width="0.25">−2</text><text x="712.4" y="236.2" font-family='"Liberation Serif", serif' font-size="11" text-anchor="middle" stroke="#000" stroke-width="0.25">0</text><text x="736.9" y="236.2" font-family='"Liberation Serif", serif' font-size="11" text-anchor="middle" stroke="#000" stroke-width="0.25">2</text><text x="676.2" y="263.0" font-family='"Liberation Serif", serif' font-size="11" stroke="#000" stroke-width="0.25" textLength="25" lengthAdjust="spacingAndGlyphs">Type:</text><circle cx="680.4" cy="276.3" r="4.3" fill="#e64b35"/><circle cx="680.4" cy="286.0" r="4.3" fill="#4dbbd5"/><text x="686.8" y="279.0" font-family='"Liberation Serif", serif' font-size="11" stroke="#000" stroke-width="0.25" textLength="30" lengthAdjust="spacingAndGlyphs">cancer</text><text x="686.8" y="288.2" font-family='"Liberation Serif", serif' font-size="11" stroke="#000" stroke-width="0.25" textLength="32" lengthAdjust="spacingAndGlyphs">normal</text><text transform="translate(8.67,495.80) scale(0.925,1)" font-family='"Liberation Sans", sans-serif' font-size="24" font-weight="bold" stroke="#000" stroke-width="0.7">D</text><path d="M78.3 504.2V652.3M122.6 504.2V652.3M166.9 504.2V652.3M211.2 504.2V652.3M255.5 504.2V652.3M56.2 627.6H277.7M56.2 602.9H277.7M56.2 578.2H277.7M56.2 553.6H277.7M56.2 528.9H277.7" stroke="#e6e6e6" stroke-width="0.8" fill="none"/><path d="M56.2 504.2H277.7V654.8" stroke="#6e6e6e" stroke-width="1.2" fill="none"/><path d="M56.2 503.2V652.3H277.7" stroke="#333" stroke-width="1.2" fill="none"/><path d="M53.2 652.3H56.2M53.2 627.6H56.2M53.2 602.9H56.2M53.2 578.2H56.2M53.2 553.6H56.2M53.2 528.9H56.2M53.2 504.2H56.2M78.3 652.3V654.8M122.6 652.3V654.8M166.9 652.3V654.8M211.2 652.3V654.8M255.5 652.3V654.8" stroke="#333" stroke-width="0.8" fill="none"/><text x="58.5" y="650.8" font-family='"Liberation Serif", serif' font-size="9" stroke="#000" stroke-width="0.25">0. 0</text><text x="58.5" y="630.8" font-family='"Liberation Serif", serif' font-size="9" stroke="#000" stroke-width="0.25">0. 1</text><text x="58.5" y="606.1" font-family='"Liberation Serif", serif' font-size="9" stroke="#000" stroke-width="0.25">0. 2</text><text x="58.5" y="581.5" font-family='"Liberation Serif", serif' font-size="9" stroke="#000" stroke-width="0.25">0. 3</text><text x="58.5" y="556.8" font-family='"Liberation Serif", serif' font-size="9" stroke="#000" stroke-width="0.25">0. 4</text><text x="58.5" y="532.1" font-family='"Liberation Serif", serif' font-size="9" stroke="#000" stroke-width="0.25">0. 5</text><text x="58.5" y="511.2" font-family='"Liberation Serif", serif' font-size="9" stroke="#000" stroke-width="0.25">0. 6</text><text transform="translate(55.9,664.5) scale(1.2,1)" font-family='"Liberation Serif", serif' font-size="11.5" text-anchor="middle" fill="#111" stroke="#111" stroke-width="0.45">0</text><text transform="translate(79.5,664.5) scale(1.2,1)" font-family='"Liberation Serif", serif' font-size="11.5" text-anchor="middle" fill="#111" stroke="#111" stroke-width="0.45">2</text><text transform="translate(123.8,664.5) scale(1.2,1)" font-family='"Liberation Serif", serif' font-size="11.5" text-anchor="middle" fill="#111" stroke="#111" stroke-width="0.45">4</text><text transform="translate(168.1,664.5) scale(1.2,1)" font-family='"Liberation Serif", serif' font-size="11.5" text-anchor="middle" fill="#111" stroke="#111" stroke-width="0.45">6</text><text transform="translate(212.4,664.5) scale(1.2,1)" font-family='"Liberation Serif", serif' font-size="11.5" text-anchor="middle" fill="#111" stroke="#111" stroke-width="0.45">8</text><text transform="translate(257.0,665.5) scale(1.1,1)" font-family='"Liberation Serif", serif' font-size="11.5" text-anchor="middle" fill="#222" stroke="#222" stroke-width="0.3">10</text><text transform="translate(149,671.3) scale(1.1,1)" font-family='"Liberation Serif", serif' font-size="12.5" font-weight="bold" text-anchor="middle" fill="#111">K</text><text transform="translate(44.8,651) rotate(-90)" font-family='"Liberation Serif", serif' font-size="12.5" textLength="145" lengthAdjust="spacingAndGlyphs">Relative change in area under CDF curve</text><path d="M78.3 528.4 79.6 530.9 81.3 534.1 83.3 537.9 85.6 542.2 88.0 546.8 90.5 551.7 93.1 556.7 95.7 561.7 98.1 566.8 100.4 571.6 102.7 576.5 104.9 581.9 107.1 587.5 109.3 593.3 111.5 599.0 113.7 604.6 116.0 609.9 118.2 614.8 120.4 619.1 122.6 622.7 124.8 625.5 127.0 627.8 129.2 629.5 131.5 630.8 133.7 631.8 135.9 632.5 138.1 633.1 140.3 633.7 142.5 634.4 144.8 635.3 147.0 636.2 149.2 637.0 151.4 637.8 153.6 638.6 155.8 639.2 158.0 639.9 160.3 640.4 162.5 641.0 164.7 641.5 166.9 641.9 169.1 642.3 171.3 642.7 173.5 643.0 175.8 643.2 178.0 643.4 180.2 643.6 182.4 643.7 184.6 643.9 186.8 644.1 189.1 644.4 191.3 644.7 193.5 645.0 195.7 645.4 197.9 645.7 200.1 646.1 202.3 646.4 204.6 646.8 206.8 647.1 209.0 647.4 211.2 647.6 213.4 647.8 215.6 648.0 217.8 648.2 220.1 648.4 222.3 648.5 224.5 648.7 226.7 648.8 228.9 648.9 231.1 649.0 233.3 649.1 235.7 649.2 238.1 649.2 240.7 649.3 243.3 649.3 245.8 649.3 248.2 649.3 250.5 649.3 252.5 649.3 254.2 649.3 255.5 649.3" stroke="#e5533d" stroke-width="1.3" fill="none"/><circle cx="78.3" cy="528.4" r="3.1" fill="#e5533d"/><circle cx="100.4" cy="571.6" r="3.1" fill="#e5533d"/><circle cx="122.6" cy="622.7" r="3.1" fill="#e5533d"/><circle cx="144.8" cy="635.3" r="3.1" fill="#e5533d"/><circle cx="166.9" cy="641.9" r="3.1" fill="#e5533d"/><circle cx="189.1" cy="644.4" r="3.1" fill="#e5533d"/><circle cx="211.2" cy="647.6" r="3.1" fill="#e5533d"/><circle cx="233.3" cy="649.1" r="3.1" fill="#e5533d"/><circle cx="255.5" cy="649.3" r="3.1" fill="#e5533d"/><text transform="translate(10.52,706.00) scale(0.680,1)" font-family='"Liberation Sans", sans-serif' font-size="24" font-weight="bold" stroke="#000" stroke-width="0.7">E</text><path d="M93.6 705.0V870.5M138.7 705.0V870.5M183.7 705.0V870.5M228.8 705.0V870.5M48.6 837.4H273.8M48.6 804.3H273.8M48.6 771.2H273.8M48.6 738.1H273.8" stroke="#e3e3e3" stroke-width="0.8" fill="none"/><path d="M48.6 705.0H273.8V870.5" stroke="#555" stroke-width="1" fill="none"/><path d="M48.6 705.0V870.5H273.8" stroke="#666" stroke-width="1.6" fill="none"/><path d="M45.6 870.5H48.6M45.6 837.4H48.6M45.6 804.3H48.6M45.6 771.2H48.6M45.6 738.1H48.6M45.6 705.0H48.6M48.6 870.5V873.5M93.6 870.5V873.5M138.7 870.5V873.5M183.7 870.5V873.5M228.8 870.5V873.5M273.8 870.5V873.5" stroke="#444" stroke-width="0.8" fill="none"/><text x="46.3" y="874.9" font-family='"Liberation Serif", serif' font-size="10" font-weight="bold" text-anchor="end" fill="#111" stroke="#111" stroke-width="0.25">0.0</text><text x="46.3" y="841.8" font-family='"Liberation Serif", serif' font-size="10" font-weight="bold" text-anchor="end" fill="#111" stroke="#111" stroke-width="0.25">0.2</text><text x="46.3" y="808.7" font-family='"Liberation Serif", serif' font-size="10" font-weight="bold" text-anchor="end" fill="#111" stroke="#111" stroke-width="0.25">0.4</text><text x="46.3" y="775.6" font-family='"Liberation Serif", serif' font-size="10" font-weight="bold" text-anchor="end" fill="#111" stroke="#111" stroke-width="0.25">0.6</text><text x="46.3" y="742.5" font-family='"Liberation Serif", serif' font-size="10" font-weight="bold" text-anchor="end" fill="#111" stroke="#111" stroke-width="0.25">0.8</text><text x="46.3" y="709.4" font-family='"Liberation Serif", serif' font-size="10" font-weight="bold" text-anchor="end" fill="#111" stroke="#111" stroke-width="0.25">1.0</text><text x="51.1" y="884.0" font-family='"Liberation Serif", serif' font-size="11" font-weight="bold" text-anchor="middle" fill="#222" stroke="#222" stroke-width="0.25">0.0</text><text x="96.1" y="884.0" font-family='"Liberation Serif", serif' font-size="11" font-weight="bold" text-anchor="middle" fill="#222" stroke="#222" stroke-width="0.25">0.2</text><text x="141.2" y="884.0" font-family='"Liberation Serif", serif' font-size="11" font-weight="bold" text-anchor="middle" fill="#222" stroke="#222" stroke-width="0.25">0.4</text><text x="186.2" y="884.0" font-family='"Liberation Serif", serif' font-size="11" font-weight="bold" text-anchor="middle" fill="#222" stroke="#222" stroke-width="0.25">0.6</text><text x="231.3" y="884.0" font-family='"Liberation Serif", serif' font-size="11" font-weight="bold" text-anchor="middle" fill="#222" stroke="#222" stroke-width="0.25">0.8</text><text x="276.3" y="884.0" font-family='"Liberation Serif", serif' font-size="11" font-weight="bold" text-anchor="middle" fill="#222" stroke="#222" stroke-width="0.25">1.0</text><text x="108.4" y="867.0" font-family='"Liberation Serif", serif' font-size="13" font-weight="bold" fill="#111" stroke="#111" stroke-width="0.25" textLength="91" lengthAdjust="spacingAndGlyphs">consensus index</text><text transform="translate(29.9,797) rotate(-90)" font-family='"Liberation Serif", serif' font-size="12.5" textLength="19" lengthAdjust="spacingAndGlyphs">CDF</text><path d="M48.6 806.9 73.1 806.9 82.4 802.2 91.4 798.3 95.1 798.3 101.2 796.7 105.8 796.7 111.0 795.1 115.8 795.1 120.7 793.5 124.2 793.5 130.5 791.9 134.3 791.9 140.3 790.3 146.0 790.3 150.1 789.0 153.7 789.0 159.9 787.7 163.6 787.7 169.6 786.4 175.4 786.4 179.4 785.1 184.4 785.1 189.2 783.7 193.5 783.7 199.0 781.9 203.7 781.9 208.8 780.0 213.8 780.0 218.6 778.2 222.7 778.2 228.3 775.0 232.1 775.0 238.1 771.6 243.5 771.6 247.9 768.7 269.1 768.7 273.8 705.0" stroke="#4DBBD5" stroke-width="1.5" fill="none" stroke-linejoin="round"/><path d="M48.6 795.5 73.1 795.5 82.4 788.0 91.4 781.8 96.5 781.8 101.2 778.1 105.8 778.1 111.0 774.5 116.4 774.5 120.7 770.8 125.5 770.8 130.5 767.1 136.3 767.1 140.3 763.7 144.2 763.7 150.1 761.6 154.9 761.6 159.9 759.4 164.5 759.4 169.6 757.3 173.9 757.3 179.4 755.1 184.3 755.1 189.2 752.7 193.2 752.7 199.0 749.8 204.4 749.8 208.8 747.0 214.3 747.0 218.6 744.1 222.3 744.1 228.3 740.3 232.9 740.3 238.1 735.8 242.2 735.8 247.9 729.7 269.1 729.7 273.8 705.0" stroke="#00A087" stroke-width="1.5" fill="none" stroke-linejoin="round"/><path d="M48.6 786.8 73.1 786.8 82.4 776.8 91.4 768.7 95.0 768.7 101.2 764.8 106.8 764.8 111.0 761.0 115.4 761.0 120.7 757.1 124.5 757.1 130.5 753.2 135.6 753.2 140.3 749.4 144.2 749.4 150.1 745.9 155.7 745.9 159.9 742.3 163.8 742.3 169.6 738.7 173.1 738.7 179.4 735.2 183.3 735.2 189.2 731.9 193.5 731.9 199.0 729.2 203.6 729.2 208.8 726.4 214.4 726.4 218.6 723.7 223.7 723.7 228.3 720.0 232.6 720.0 238.1 716.4 241.6 716.4 247.9 713.1 269.1 713.1 273.8 705.0" stroke="#3C5488" stroke-width="1.5" fill="none" stroke-linejoin="round"/><path d="M48.6 769.4 73.1 769.4 82.4 762.2 91.4 756.3 95.2 756.3 101.2 753.1 107.0 753.1 111.0 749.8 115.5 749.8 120.7 746.5 125.8 746.5 130.5 743.3 134.1 743.3 140.3 739.9 143.8 739.9 150.1 735.8 155.6 735.8 159.9 731.7 164.7 731.7 169.6 729.6 173.8 729.6 179.4 727.7 183.6 727.7 189.2 725.9 192.9 725.9 199.0 724.0 202.8 724.0 208.8 722.1 212.3 722.1 218.6 720.2 224.0 720.2 228.3 718.3 232.9 718.3 238.1 716.0 241.9 716.0 247.9 712.4 269.1 712.4 273.8 705.0" stroke="#F39B7F" stroke-width="1.5" fill="none" stroke-linejoin="round"/><path d="M48.6 756.8 73.1 756.8 82.4 751.0 91.4 746.2 96.6 746.2 101.2 744.1 105.1 744.1 111.0 742.0 114.5 742.0 120.7 739.8 125.6 739.8 130.5 737.7 136.1 737.7 140.3 735.6 143.8 735.6 150.1 733.7 155.5 733.7 159.9 731.7 163.8 731.7 169.6 729.8 173.3 729.8 179.4 727.8 182.9 727.8 189.2 725.9 193.3 725.9 199.0 724.1 204.2 724.1 208.8 722.2 213.4 722.2 218.6 720.4 224.1 720.4 228.3 718.6 232.3 718.6 238.1 716.2 242.3 716.2 247.9 712.4 269.1 712.4 273.8 705.0" stroke="#8491B4" stroke-width="1.5" fill="none" stroke-linejoin="round"/><path d="M48.6 746.2 73.1 746.2 82.4 741.4 91.4 737.4 95.4 737.4 101.2 735.8 107.0 735.8 111.0 734.2 116.7 734.2 120.7 732.6 125.0 732.6 130.5 731.0 135.0 731.0 140.3 729.4 144.5 729.4 150.1 727.9 155.3 727.9 159.9 726.5 163.4 726.5 169.6 725.0 173.2 725.0 179.4 723.5 183.8 723.5 189.2 722.1 193.2 722.1 199.0 720.7 204.5 720.7 208.8 719.3 214.0 719.3 218.6 718.0 223.3 718.0 228.3 716.6 233.4 716.6 238.1 714.8 243.2 714.8 247.9 712.0 269.1 712.0 273.8 705.0" stroke="#91D1C2" stroke-width="1.5" fill="none" stroke-linejoin="round"/><path d="M48.6 742.1 73.1 742.1 82.4 737.4 91.4 733.6 96.7 733.6 101.2 732.2 106.9 732.2 111.0 730.7 114.7 730.7 120.7 729.2 125.7 729.2 130.5 727.7 134.3 727.7 140.3 726.3 144.8 726.3 150.1 725.0 155.4 725.0 159.9 723.7 165.5 723.7 169.6 722.4 174.9 722.4 179.4 721.1 182.9 721.1 189.2 719.8 193.5 719.8 199.0 718.6 202.8 718.6 208.8 717.3 214.6 717.3 218.6 716.1 222.3 716.1 228.3 714.8 232.4 714.8 238.1 713.3 242.4 713.3 247.9 711.1 269.1 711.1 273.8 705.0" stroke="#DC0000" stroke-width="1.5" fill="none" stroke-linejoin="round"/><path d="M48.6 740.6 73.1 740.6 82.4 735.8 91.4 731.8 95.0 731.8 101.2 730.3 106.7 730.3 111.0 728.7 115.9 728.7 120.7 727.2 124.5 727.2 130.5 725.6 135.2 725.6 140.3 724.1 143.9 724.1 150.1 722.8 155.0 722.8 159.9 721.5 163.9 721.5 169.6 720.2 173.2 720.2 179.4 718.9 183.1 718.9 189.2 717.7 194.0 717.7 199.0 716.6 204.0 716.6 208.8 715.5 213.0 715.5 218.6 714.4 223.6 714.4 228.3 713.3 232.6 713.3 238.1 712.0 241.9 712.0 247.9 710.3 269.1 710.3 273.8 705.0" stroke="#7E6148" stroke-width="1.5" fill="none" stroke-linejoin="round"/><path d="M48.6 739.1 73.1 739.1 82.4 734.3 91.4 730.3 95.6 730.3 101.2 728.7 105.6 728.7 111.0 727.1 116.6 727.1 120.7 725.5 124.4 725.5 130.5 723.9 134.2 723.9 140.3 722.3 145.1 722.3 150.1 721.0 155.9 721.0 159.9 719.7 165.5 719.7 169.6 718.4 174.8 718.4 179.4 717.1 183.0 717.1 189.2 715.9 194.6 715.9 199.0 714.9 204.1 714.9 208.8 713.8 212.5 713.8 218.6 712.8 223.1 712.8 228.3 711.7 231.9 711.7 238.1 710.6 243.5 710.6 247.9 709.5 269.1 709.5 273.8 705.0" stroke="#B09C85" stroke-width="1.5" fill="none" stroke-linejoin="round"/><text x="249.7" y="785.9" font-family='"Liberation Serif", serif' font-size="14" font-weight="bold" text-anchor="middle" fill="#111" stroke="#111" stroke-width="0.25">K</text><line x1="242.2" y1="793.4" x2="254.9" y2="793.4" stroke="#4DBBD5" stroke-width="1.6"/><text x="257.3" y="797.2" font-family='"Liberation Serif", serif' font-size="11" fill="#111" stroke="#111" stroke-width="0.25">2</text><line x1="242.2" y1="801.1" x2="254.9" y2="801.1" stroke="#00A087" stroke-width="1.6"/><text x="230.7" y="804.1" font-family='"Liberation Serif", serif' font-size="11" fill="#111" stroke="#111" stroke-width="0.25">3</text><line x1="242.2" y1="808.7" x2="254.9" y2="808.7" stroke="#3C5488" stroke-width="1.6"/><text x="257.3" y="812.5" font-family='"Liberation Serif", serif' font-size="11" fill="#111" stroke="#111" stroke-width="0.25">4</text><line x1="242.2" y1="816.9" x2="254.9" y2="816.9" stroke="#F39B7F" stroke-width="1.6"/><text x="230.7" y="819.9" font-family='"Liberation Serif", serif' font-size="11" fill="#111" stroke="#111" stroke-width="0.25">5</text><line x1="242.2" y1="824.7" x2="254.9" y2="824.7" stroke="#8491B4" stroke-width="1.6"/><text x="257.3" y="828.5" font-family='"Liberation Serif", serif' font-size="11" fill="#111" stroke="#111" stroke-width="0.25">6</text><line x1="242.2" y1="832.5" x2="254.9" y2="832.5" stroke="#91D1C2" stroke-width="1.6"/><text x="230.7" y="835.5" font-family='"Liberation Serif", serif' font-size="11" fill="#111" stroke="#111" stroke-width="0.25">7</text><line x1="242.2" y1="840.1" x2="254.9" y2="840.1" stroke="#DC0000" stroke-width="1.6"/><text x="257.3" y="843.9" font-family='"Liberation Serif", serif' font-size="11" fill="#111" stroke="#111" stroke-width="0.25">8</text><line x1="242.2" y1="848.1" x2="254.9" y2="848.1" stroke="#7E6148" stroke-width="1.6"/><text x="230.7" y="851.1" font-family='"Liberation Serif", serif' font-size="11" fill="#111" stroke="#111" stroke-width="0.25">9</text><line x1="242.2" y1="856.1" x2="254.9" y2="856.1" stroke="#B09C85" stroke-width="1.6"/><text x="257.3" y="859.9" font-family='"Liberation Serif", serif' font-size="11" fill="#111" stroke="#111" stroke-width="0.25">10</text><text transform="translate(10.42,939.20) scale(0.785,1)" font-family='"Liberation Sans", sans-serif' font-size="24" font-weight="bold" stroke="#000" stroke-width="0.7">F</text><path d="M31.7 977.8V950.8H124.3V977.8M29.9 994V978H34.9V994M31 994V984H37.5V994M34.9 994V987.7H46.8V994M36.5 994V990H44V994M38 994V992.8H57.8V994M120.5 994V978H128V994M121.5 994V982H131V994M127.5 994V987.7H139V994M131 994V990.5H137V994M123 994V986H125V994" stroke="#3a3a3a" stroke-width="0.8" fill="none"/><path d="M29.3 994.2H229.8" stroke="#888" stroke-width="1"/><text x="72.2" y="978.2" font-family='"Liberation Serif", serif' font-size="19" font-weight="bold" text-anchor="middle" stroke="#000" stroke-width="0.25" textLength="36.8" lengthAdjust="spacingAndGlyphs">K=2</text><text x="3.6" y="1003.3" font-family='"Liberation Serif", serif' font-size="8.5" stroke="#000" stroke-width="0.25" textLength="23.9" lengthAdjust="spacingAndGlyphs">Cluster</text><rect x="29.3" y="996.1" width="90" height="5.2" fill="#e64b35"/><rect x="119.3" y="996.1" width="110.5" height="5.2" fill="#4dbbd5"/><rect x="29.6" y="1003.0" width="200.7" height="173.1" fill="#fff"/><rect x="138.0" y="1003.0" width="92.3" height="77.7" fill="#0000ff"/><rect x="56.9" y="1096.7" width="62.4" height="79.4" fill="#0000ff"/><path d="M56.9 1010.8H119.3M56.9 1016.0H119.3M56.9 1021.5H119.3M56.9 1025.8H119.3" stroke="#e6e6fb" stroke-width="1.2"/><path d="M37.0 1003.0V1080.7M41.0 1003.0V1080.7M47.3 1003.0V1080.7M52.9 1003.0V1080.7" stroke="#ececfc" stroke-width="1.2"/><rect x="29.6" y="1003.0" width="4" height="77.7" fill="#dedefa"/><rect x="29.6" y="1003.0" width="89.7" height="4" fill="#e2e2fb"/><rect x="138.0" y="1003.0" width="92.3" height="4" fill="#9a9aff"/><path fill="#c8c8ff" d="M142.0 1003.0h2v2h-2zM150.0 1003.0h2v2h-2zM158.0 1003.0h2v2h-2zM162.0 1003.0h2v2h-2zM172.0 1003.0h2v2h-2zM174.0 1003.0h2v2h-2zM178.0 1003.0h2v2h-2zM186.0 1003.0h2v2h-2zM198.0 1003.0h2v2h-2zM202.0 1003.0h2v2h-2zM204.0 1003.0h2v2h-2zM216.0 1003.0h2v2h-2zM218.0 1003.0h2v2h-2zM228.0 1003.0h2v2h-2zM230.0 1003.0h0.3v2h-0.3zM156.0 1005.0h2v2h-2zM160.0 1005.0h2v2h-2zM162.0 1005.0h2v2h-2zM164.0 1005.0h2v2h-2zM166.0 1005.0h2v2h-2zM170.0 1005.0h2v2h-2zM174.0 1005.0h2v2h-2zM176.0 1005.0h2v2h-2zM190.0 1005.0h2v2h-2zM192.0 1005.0h2v2h-2zM198.0 1005.0h2v2h-2zM204.0 1005.0h2v2h-2zM208.0 1005.0h2v2h-2zM210.0 1005.0h2v2h-2zM212.0 1005.0h2v2h-2zM218.0 1005.0h2v2h-2zM222.0 1005.0h2v2h-2zM224.0 1005.0h2v2h-2z"/><path fill="#6a6aff" d="M138.0 1003.0h2v2h-2zM140.0 1003.0h2v2h-2zM156.0 1003.0h2v2h-2zM164.0 1003.0h2v2h-2zM166.0 1003.0h2v2h-2zM168.0 1003.0h2v2h-2zM182.0 1003.0h2v2h-2zM188.0 1003.0h2v2h-2zM192.0 1003.0h2v2h-2zM194.0 1003.0h2v2h-2zM210.0 1003.0h2v2h-2zM220.0 1003.0h2v2h-2zM226.0 1003.0h2v2h-2zM142.0 1005.0h2v2h-2zM146.0 1005.0h2v2h-2zM150.0 1005.0h2v2h-2zM154.0 1005.0h2v2h-2zM180.0 1005.0h2v2h-2zM186.0 1005.0h2v2h-2zM194.0 1005.0h2v2h-2zM196.0 1005.0h2v2h-2zM200.0 1005.0h2v2h-2zM206.0 1005.0h2v2h-2zM214.0 1005.0h2v2h-2zM226.0 1005.0h2v2h-2zM228.0 1005.0h2v2h-2z"/><path d="M138.0 1010.8H230.3M138.0 1016.0H230.3M138.0 1021.5H230.3M138.0 1025.8H230.3" stroke="#a4a4ff" stroke-width="1.1" stroke-dasharray="2 1 3 1"/><rect x="29.6" y="1096.7" width="27.3" height="79.4" fill="#0000ff"/><path fill="#9090ff" d="M31.6 1096.7h2v2h-2zM31.6 1098.7h2v2h-2zM31.6 1100.7h2v2h-2zM29.6 1104.7h2v2h-2zM29.6 1106.7h2v2h-2zM31.6 1108.7h2v2h-2zM31.6 1110.7h2v2h-2zM31.6 1112.7h2v2h-2zM29.6 1114.7h2v2h-2zM31.6 1114.7h2v2h-2zM29.6 1116.7h2v2h-2zM31.6 1122.7h2v2h-2zM31.6 1124.7h2v2h-2zM31.6 1130.7h2v2h-2zM29.6 1132.7h2v2h-2zM31.6 1132.7h2v2h-2zM29.6 1134.7h2v2h-2zM31.6 1134.7h2v2h-2zM29.6 1136.7h2v2h-2zM31.6 1136.7h2v2h-2zM29.6 1140.7h2v2h-2zM31.6 1140.7h2v2h-2zM29.6 1146.7h2v2h-2zM29.6 1148.7h2v2h-2zM29.6 1150.7h2v2h-2zM31.6 1154.7h2v2h-2zM31.6 1156.7h2v2h-2zM29.6 1158.7h2v2h-2zM29.6 1162.7h2v2h-2zM31.6 1170.7h2v2h-2zM29.6 1174.7h2v1.4h-2z"/><path fill="#c0c0ff" d="M29.6 1100.7h2v2h-2zM31.6 1104.7h2v2h-2zM31.6 1106.7h2v2h-2zM29.6 1108.7h2v2h-2zM29.6 1112.7h2v2h-2zM31.6 1118.7h2v2h-2zM29.6 1120.7h2v2h-2zM31.6 1120.7h2v2h-2zM29.6 1126.7h2v2h-2zM29.6 1128.7h2v2h-2zM31.6 1128.7h2v2h-2zM29.6 1130.7h2v2h-2zM29.6 1138.7h2v2h-2zM29.6 1142.7h2v2h-2zM31.6 1142.7h2v2h-2zM29.6 1152.7h2v2h-2zM29.6 1154.7h2v2h-2zM29.6 1156.7h2v2h-2zM31.6 1158.7h2v2h-2zM29.6 1160.7h2v2h-2zM31.6 1162.7h2v2h-2zM29.6 1164.7h2v2h-2zM31.6 1164.7h2v2h-2zM31.6 1166.7h2v2h-2zM29.6 1168.7h2v2h-2zM31.6 1168.7h2v2h-2zM29.6 1170.7h2v2h-2zM29.6 1172.7h2v2h-2zM31.6 1172.7h2v2h-2z"/><path fill="#5050ff" d="M29.6 1096.7h2v2h-2zM29.6 1098.7h2v2h-2zM29.6 1102.7h2v2h-2zM31.6 1102.7h2v2h-2zM29.6 1110.7h2v2h-2zM31.6 1116.7h2v2h-2zM29.6 1118.7h2v2h-2zM29.6 1122.7h2v2h-2zM29.6 1124.7h2v2h-2zM31.6 1126.7h2v2h-2zM31.6 1138.7h2v2h-2zM29.6 1144.7h2v2h-2zM31.6 1144.7h2v2h-2zM31.6 1146.7h2v2h-2zM31.6 1148.7h2v2h-2zM31.6 1150.7h2v2h-2zM31.6 1152.7h2v2h-2zM31.6 1160.7h2v2h-2zM29.6 1166.7h2v2h-2zM31.6 1174.7h2v1.4h-2z"/><path d="M37.0 1096.7V1176.1M41.0 1096.7V1176.1M47.3 1096.7V1176.1M52.9 1096.7V1176.1" stroke="#8a8aff" stroke-width="1.3" stroke-dasharray="3 1.5 1.5 1"/><path fill="#e0e0ff" d="M33.6 1080.7h2v2h-2zM37.6 1080.7h2v2h-2zM39.6 1080.7h2v2h-2zM41.6 1080.7h2v2h-2zM43.6 1080.7h2v2h-2zM47.6 1080.7h2v2h-2zM51.6 1080.7h2v2h-2zM53.6 1080.7h2v2h-2zM55.6 1080.7h2v2h-2zM65.6 1080.7h2v2h-2zM71.6 1080.7h2v2h-2zM75.6 1080.7h2v2h-2zM77.6 1080.7h2v2h-2zM81.6 1080.7h2v2h-2zM87.6 1080.7h2v2h-2zM89.6 1080.7h2v2h-2zM91.6 1080.7h2v2h-2zM93.6 1080.7h2v2h-2zM103.6 1080.7h2v2h-2zM109.6 1080.7h2v2h-2zM33.6 1082.7h2v2h-2zM55.6 1082.7h2v2h-2zM57.6 1082.7h2v2h-2zM59.6 1082.7h2v2h-2zM61.6 1082.7h2v2h-2zM67.6 1082.7h2v2h-2zM69.6 1082.7h2v2h-2zM73.6 1082.7h2v2h-2zM79.6 1082.7h2v2h-2zM85.6 1082.7h2v2h-2zM87.6 1082.7h2v2h-2zM93.6 1082.7h2v2h-2zM97.6 1082.7h2v2h-2zM103.6 1082.7h2v2h-2zM107.6 1082.7h2v2h-2zM115.6 1082.7h2v2h-2zM41.6 1084.7h2v2h-2zM57.6 1084.7h2v2h-2zM67.6 1084.7h2v2h-2zM77.6 1084.7h2v2h-2zM81.6 1084.7h2v2h-2zM91.6 1084.7h2v2h-2zM99.6 1084.7h2v2h-2zM103.6 1084.7h2v2h-2zM107.6 1084.7h2v2h-2zM109.6 1084.7h2v2h-2zM111.6 1084.7h2v2h-2zM113.6 1084.7h2v2h-2zM117.6 1084.7h1.7v2h-1.7zM31.6 1086.7h2v2h-2zM33.6 1086.7h2v2h-2zM35.6 1086.7h2v2h-2zM41.6 1086.7h2v2h-2zM45.6 1086.7h2v2h-2zM47.6 1086.7h2v2h-2zM51.6 1086.7h2v2h-2zM61.6 1086.7h2v2h-2zM69.6 1086.7h2v2h-2zM79.6 1086.7h2v2h-2zM85.6 1086.7h2v2h-2zM89.6 1086.7h2v2h-2zM91.6 1086.7h2v2h-2zM97.6 1086.7h2v2h-2zM113.6 1086.7h2v2h-2zM33.6 1088.7h2v1h-2zM35.6 1088.7h2v1h-2zM39.6 1088.7h2v1h-2zM41.6 1088.7h2v1h-2zM43.6 1088.7h2v1h-2zM49.6 1088.7h2v1h-2zM51.6 1088.7h2v1h-2zM53.6 1088.7h2v1h-2zM55.6 1088.7h2v1h-2zM65.6 1088.7h2v1h-2zM81.6 1088.7h2v1h-2zM87.6 1088.7h2v1h-2zM89.6 1088.7h2v1h-2zM97.6 1088.7h2v1h-2zM99.6 1088.7h2v1h-2zM111.6 1088.7h2v1h-2z"/><path fill="#c0c0ff" d="M35.6 1080.7h2v2h-2zM59.6 1080.7h2v2h-2zM61.6 1080.7h2v2h-2zM63.6 1080.7h2v2h-2zM67.6 1080.7h2v2h-2zM79.6 1080.7h2v2h-2zM85.6 1080.7h2v2h-2zM95.6 1080.7h2v2h-2zM97.6 1080.7h2v2h-2zM105.6 1080.7h2v2h-2zM113.6 1080.7h2v2h-2zM117.6 1080.7h1.7v2h-1.7zM29.6 1082.7h2v2h-2zM31.6 1082.7h2v2h-2zM39.6 1082.7h2v2h-2zM41.6 1082.7h2v2h-2zM45.6 1082.7h2v2h-2zM49.6 1082.7h2v2h-2zM51.6 1082.7h2v2h-2zM53.6 1082.7h2v2h-2zM63.6 1082.7h2v2h-2zM65.6 1082.7h2v2h-2zM75.6 1082.7h2v2h-2zM81.6 1082.7h2v2h-2zM95.6 1082.7h2v2h-2zM105.6 1082.7h2v2h-2zM109.6 1082.7h2v2h-2zM117.6 1082.7h1.7v2h-1.7zM29.6 1084.7h2v2h-2zM31.6 1084.7h2v2h-2zM37.6 1084.7h2v2h-2zM39.6 1084.7h2v2h-2zM43.6 1084.7h2v2h-2zM47.6 1084.7h2v2h-2zM49.6 1084.7h2v2h-2zM51.6 1084.7h2v2h-2zM53.6 1084.7h2v2h-2zM59.6 1084.7h2v2h-2zM63.6 1084.7h2v2h-2zM71.6 1084.7h2v2h-2zM73.6 1084.7h2v2h-2zM79.6 1084.7h2v2h-2zM83.6 1084.7h2v2h-2zM87.6 1084.7h2v2h-2zM105.6 1084.7h2v2h-2zM49.6 1086.7h2v2h-2zM55.6 1086.7h2v2h-2zM57.6 1086.7h2v2h-2zM59.6 1086.7h2v2h-2zM67.6 1086.7h2v2h-2zM75.6 1086.7h2v2h-2zM81.6 1086.7h2v2h-2zM83.6 1086.7h2v2h-2zM87.6 1086.7h2v2h-2zM95.6 1086.7h2v2h-2zM107.6 1086.7h2v2h-2zM109.6 1086.7h2v2h-2zM111.6 1086.7h2v2h-2zM117.6 1086.7h1.7v2h-1.7zM29.6 1088.7h2v1h-2zM45.6 1088.7h2v1h-2zM47.6 1088.7h2v1h-2zM63.6 1088.7h2v1h-2zM67.6 1088.7h2v1h-2zM69.6 1088.7h2v1h-2zM71.6 1088.7h2v1h-2zM79.6 1088.7h2v1h-2zM101.6 1088.7h2v1h-2zM103.6 1088.7h2v1h-2zM107.6 1088.7h2v1h-2zM109.6 1088.7h2v1h-2zM115.6 1088.7h2v1h-2z"/><path fill="#a0a0ff" d="M29.6 1080.7h2v2h-2zM45.6 1080.7h2v2h-2zM49.6 1080.7h2v2h-2zM57.6 1080.7h2v2h-2zM73.6 1080.7h2v2h-2zM101.6 1080.7h2v2h-2zM111.6 1080.7h2v2h-2zM115.6 1080.7h2v2h-2zM35.6 1082.7h2v2h-2zM37.6 1082.7h2v2h-2zM47.6 1082.7h2v2h-2zM83.6 1082.7h2v2h-2zM91.6 1082.7h2v2h-2zM99.6 1082.7h2v2h-2zM111.6 1082.7h2v2h-2zM113.6 1082.7h2v2h-2zM33.6 1084.7h2v2h-2zM35.6 1084.7h2v2h-2zM55.6 1084.7h2v2h-2zM61.6 1084.7h2v2h-2zM69.6 1084.7h2v2h-2zM75.6 1084.7h2v2h-2zM85.6 1084.7h2v2h-2zM89.6 1084.7h2v2h-2zM97.6 1084.7h2v2h-2zM101.6 1084.7h2v2h-2zM115.6 1084.7h2v2h-2zM29.6 1086.7h2v2h-2zM39.6 1086.7h2v2h-2zM63.6 1086.7h2v2h-2zM71.6 1086.7h2v2h-2zM73.6 1086.7h2v2h-2zM77.6 1086.7h2v2h-2zM93.6 1086.7h2v2h-2zM99.6 1086.7h2v2h-2zM103.6 1086.7h2v2h-2zM105.6 1086.7h2v2h-2zM115.6 1086.7h2v2h-2zM31.6 1088.7h2v1h-2zM57.6 1088.7h2v1h-2zM73.6 1088.7h2v1h-2zM75.6 1088.7h2v1h-2zM77.6 1088.7h2v1h-2zM85.6 1088.7h2v1h-2zM91.6 1088.7h2v1h-2zM93.6 1088.7h2v1h-2zM105.6 1088.7h2v1h-2zM113.6 1088.7h2v1h-2z"/><path fill="#7a7aff" d="M31.6 1080.7h2v2h-2zM69.6 1080.7h2v2h-2zM83.6 1080.7h2v2h-2zM99.6 1080.7h2v2h-2zM107.6 1080.7h2v2h-2zM43.6 1082.7h2v2h-2zM71.6 1082.7h2v2h-2zM77.6 1082.7h2v2h-2zM89.6 1082.7h2v2h-2zM101.6 1082.7h2v2h-2zM45.6 1084.7h2v2h-2zM65.6 1084.7h2v2h-2zM93.6 1084.7h2v2h-2zM95.6 1084.7h2v2h-2zM37.6 1086.7h2v2h-2zM43.6 1086.7h2v2h-2zM53.6 1086.7h2v2h-2zM65.6 1086.7h2v2h-2zM101.6 1086.7h2v2h-2zM37.6 1088.7h2v1h-2zM59.6 1088.7h2v1h-2zM61.6 1088.7h2v1h-2zM83.6 1088.7h2v1h-2zM95.6 1088.7h2v1h-2zM117.6 1088.7h1.7v1h-1.7z"/><path fill="#b0b0ff" d="M29.6 1089.7h2v2h-2zM31.6 1089.7h2v2h-2zM39.6 1089.7h2v2h-2zM45.6 1089.7h2v2h-2zM49.6 1089.7h2v2h-2zM57.6 1089.7h2v2h-2zM63.6 1089.7h2v2h-2zM65.6 1089.7h2v2h-2zM69.6 1089.7h2v2h-2zM85.6 1089.7h2v2h-2zM87.6 1089.7h2v2h-2zM91.6 1089.7h2v2h-2zM103.6 1089.7h2v2h-2zM105.6 1089.7h2v2h-2zM109.6 1089.7h2v2h-2zM29.6 1091.7h2v2h-2zM35.6 1091.7h2v2h-2zM47.6 1091.7h2v2h-2zM61.6 1091.7h2v2h-2zM63.6 1091.7h2v2h-2zM73.6 1091.7h2v2h-2zM79.6 1091.7h2v2h-2zM85.6 1091.7h2v2h-2zM87.6 1091.7h2v2h-2zM89.6 1091.7h2v2h-2zM95.6 1091.7h2v2h-2zM99.6 1091.7h2v2h-2zM105.6 1091.7h2v2h-2zM33.6 1093.7h2v2h-2zM37.6 1093.7h2v2h-2zM43.6 1093.7h2v2h-2zM51.6 1093.7h2v2h-2zM61.6 1093.7h2v2h-2zM73.6 1093.7h2v2h-2zM85.6 1093.7h2v2h-2zM101.6 1093.7h2v2h-2zM109.6 1093.7h2v2h-2zM113.6 1093.7h2v2h-2zM33.6 1095.7h2v1h-2zM41.6 1095.7h2v1h-2zM43.6 1095.7h2v1h-2zM51.6 1095.7h2v1h-2zM61.6 1095.7h2v1h-2zM75.6 1095.7h2v1h-2zM93.6 1095.7h2v1h-2zM99.6 1095.7h2v1h-2zM109.6 1095.7h2v1h-2zM111.6 1095.7h2v1h-2zM115.6 1095.7h2v1h-2zM117.6 1095.7h1.7v1h-1.7z"/><path fill="#9090ff" d="M33.6 1089.7h2v2h-2zM35.6 1089.7h2v2h-2zM37.6 1089.7h2v2h-2zM51.6 1089.7h2v2h-2zM53.6 1089.7h2v2h-2zM55.6 1089.7h2v2h-2zM67.6 1089.7h2v2h-2zM77.6 1089.7h2v2h-2zM81.6 1089.7h2v2h-2zM83.6 1089.7h2v2h-2zM95.6 1089.7h2v2h-2zM97.6 1089.7h2v2h-2zM101.6 1089.7h2v2h-2zM107.6 1089.7h2v2h-2zM111.6 1089.7h2v2h-2zM115.6 1089.7h2v2h-2zM117.6 1089.7h1.7v2h-1.7zM31.6 1091.7h2v2h-2zM43.6 1091.7h2v2h-2zM45.6 1091.7h2v2h-2zM49.6 1091.7h2v2h-2zM55.6 1091.7h2v2h-2zM57.6 1091.7h2v2h-2zM71.6 1091.7h2v2h-2zM75.6 1091.7h2v2h-2zM81.6 1091.7h2v2h-2zM101.6 1091.7h2v2h-2zM107.6 1091.7h2v2h-2zM111.6 1091.7h2v2h-2zM115.6 1091.7h2v2h-2zM29.6 1093.7h2v2h-2zM35.6 1093.7h2v2h-2zM39.6 1093.7h2v2h-2zM41.6 1093.7h2v2h-2zM45.6 1093.7h2v2h-2zM49.6 1093.7h2v2h-2zM57.6 1093.7h2v2h-2zM59.6 1093.7h2v2h-2zM65.6 1093.7h2v2h-2zM67.6 1093.7h2v2h-2zM71.6 1093.7h2v2h-2zM75.6 1093.7h2v2h-2zM77.6 1093.7h2v2h-2zM81.6 1093.7h2v2h-2zM89.6 1093.7h2v2h-2zM91.6 1093.7h2v2h-2zM93.6 1093.7h2v2h-2zM95.6 1093.7h2v2h-2zM99.6 1093.7h2v2h-2zM103.6 1093.7h2v2h-2zM105.6 1093.7h2v2h-2zM107.6 1093.7h2v2h-2zM117.6 1093.7h1.7v2h-1.7zM29.6 1095.7h2v1h-2zM35.6 1095.7h2v1h-2zM37.6 1095.7h2v1h-2zM39.6 1095.7h2v1h-2zM45.6 1095.7h2v1h-2zM47.6 1095.7h2v1h-2zM49.6 1095.7h2v1h-2zM53.6 1095.7h2v1h-2zM63.6 1095.7h2v1h-2zM65.6 1095.7h2v1h-2zM69.6 1095.7h2v1h-2zM79.6 1095.7h2v1h-2zM83.6 1095.7h2v1h-2zM89.6 1095.7h2v1h-2zM91.6 1095.7h2v1h-2zM103.6 1095.7h2v1h-2z"/><path fill="#6a6aff" d="M41.6 1089.7h2v2h-2zM43.6 1089.7h2v2h-2zM59.6 1089.7h2v2h-2zM61.6 1089.7h2v2h-2zM75.6 1089.7h2v2h-2zM79.6 1089.7h2v2h-2zM89.6 1089.7h2v2h-2zM113.6 1089.7h2v2h-2zM37.6 1091.7h2v2h-2zM39.6 1091.7h2v2h-2zM41.6 1091.7h2v2h-2zM53.6 1091.7h2v2h-2zM67.6 1091.7h2v2h-2zM69.6 1091.7h2v2h-2zM77.6 1091.7h2v2h-2zM91.6 1091.7h2v2h-2zM97.6 1091.7h2v2h-2zM103.6 1091.7h2v2h-2zM113.6 1091.7h2v2h-2zM31.6 1093.7h2v2h-2zM47.6 1093.7h2v2h-2zM53.6 1093.7h2v2h-2zM55.6 1093.7h2v2h-2zM63.6 1093.7h2v2h-2zM79.6 1093.7h2v2h-2zM83.6 1093.7h2v2h-2zM97.6 1093.7h2v2h-2zM115.6 1093.7h2v2h-2zM31.6 1095.7h2v1h-2zM55.6 1095.7h2v1h-2zM57.6 1095.7h2v1h-2zM59.6 1095.7h2v1h-2zM67.6 1095.7h2v1h-2zM71.6 1095.7h2v1h-2zM73.6 1095.7h2v1h-2zM81.6 1095.7h2v1h-2zM95.6 1095.7h2v1h-2zM97.6 1095.7h2v1h-2zM101.6 1095.7h2v1h-2zM107.6 1095.7h2v1h-2zM113.6 1095.7h2v1h-2z"/><path fill="#4a4aff" d="M47.6 1089.7h2v2h-2zM71.6 1089.7h2v2h-2zM73.6 1089.7h2v2h-2zM93.6 1089.7h2v2h-2zM99.6 1089.7h2v2h-2zM33.6 1091.7h2v2h-2zM51.6 1091.7h2v2h-2zM59.6 1091.7h2v2h-2zM65.6 1091.7h2v2h-2zM83.6 1091.7h2v2h-2zM93.6 1091.7h2v2h-2zM109.6 1091.7h2v2h-2zM117.6 1091.7h1.7v2h-1.7zM69.6 1093.7h2v2h-2zM87.6 1093.7h2v2h-2zM111.6 1093.7h2v2h-2zM77.6 1095.7h2v1h-2zM85.6 1095.7h2v1h-2zM87.6 1095.7h2v1h-2zM105.6 1095.7h2v1h-2z"/><rect x="34.6" y="1090.3" width="22.3" height="5.6" fill="#0000ff"/><rect x="119.3" y="1003.0" width="18.7" height="77.7" fill="#b4b4ff"/><path fill="#e8e8ff" d="M121.3 1003.0h1v3h-1zM121.3 1006.0h1v3h-1zM123.3 1006.0h1v3h-1zM125.3 1006.0h1v3h-1zM128.3 1006.0h1v3h-1zM133.3 1006.0h1v3h-1zM123.3 1009.0h1v3h-1zM125.3 1009.0h1v3h-1zM133.3 1009.0h1v3h-1zM123.3 1012.0h1v3h-1zM123.3 1015.0h1v3h-1zM124.3 1015.0h1v3h-1zM125.3 1015.0h1v3h-1zM137.3 1015.0h1v3h-1zM121.3 1018.0h1v3h-1zM123.3 1018.0h1v3h-1zM125.3 1018.0h1v3h-1zM128.3 1018.0h1v3h-1zM133.3 1018.0h1v3h-1zM123.3 1021.0h1v3h-1zM125.3 1021.0h1v3h-1zM137.3 1021.0h1v3h-1zM123.3 1024.0h1v3h-1zM125.3 1024.0h1v3h-1zM121.3 1027.0h1v3h-1zM122.3 1027.0h1v3h-1zM123.3 1027.0h1v3h-1zM123.3 1030.0h1v3h-1zM137.3 1030.0h1v3h-1zM123.3 1033.0h1v3h-1zM125.3 1033.0h1v3h-1zM122.3 1036.0h1v3h-1zM123.3 1036.0h1v3h-1zM124.3 1036.0h1v3h-1zM125.3 1036.0h1v3h-1zM128.3 1036.0h1v3h-1zM133.3 1036.0h1v3h-1zM123.3 1039.0h1v3h-1zM125.3 1039.0h1v3h-1zM121.3 1042.0h1v3h-1zM125.3 1042.0h1v3h-1zM137.3 1042.0h1v3h-1zM121.3 1045.0h1v3h-1zM122.3 1045.0h1v3h-1zM123.3 1045.0h1v3h-1zM125.3 1045.0h1v3h-1zM123.3 1048.0h1v3h-1zM125.3 1048.0h1v3h-1zM133.3 1048.0h1v3h-1zM123.3 1051.0h1v3h-1zM125.3 1051.0h1v3h-1zM137.3 1051.0h1v3h-1zM124.3 1054.0h1v3h-1zM123.3 1057.0h1v3h-1zM124.3 1057.0h1v3h-1zM125.3 1057.0h1v3h-1zM137.3 1057.0h1v3h-1zM123.3 1060.0h1v3h-1zM125.3 1060.0h1v3h-1zM133.3 1060.0h1v3h-1zM121.3 1063.0h1v3h-1zM123.3 1066.0h1v3h-1zM121.3 1069.0h1v3h-1zM122.3 1069.0h1v3h-1zM123.3 1069.0h1v3h-1zM124.3 1069.0h1v3h-1zM125.3 1069.0h1v3h-1zM128.3 1069.0h1v3h-1zM133.3 1069.0h1v3h-1zM123.3 1072.0h1v3h-1zM125.3 1072.0h1v3h-1zM128.3 1072.0h1v3h-1zM123.3 1075.0h1v3h-1zM124.3 1075.0h1v3h-1zM125.3 1075.0h1v3h-1zM133.3 1075.0h1v3h-1zM123.3 1078.0h1v3h-1zM125.3 1078.0h1v3h-1zM137.3 1078.0h1v3h-1z"/><path fill="#d0d0ff" d="M122.3 1003.0h1v3h-1zM123.3 1003.0h1v3h-1zM124.3 1003.0h1v3h-1zM125.3 1003.0h1v3h-1zM127.3 1003.0h1v3h-1zM128.3 1003.0h1v3h-1zM133.3 1003.0h1v3h-1zM135.3 1003.0h1v3h-1zM137.3 1003.0h1v3h-1zM124.3 1006.0h1v3h-1zM132.3 1006.0h1v3h-1zM135.3 1006.0h1v3h-1zM137.3 1006.0h1v3h-1zM121.3 1009.0h1v3h-1zM122.3 1009.0h1v3h-1zM126.3 1009.0h1v3h-1zM127.3 1009.0h1v3h-1zM131.3 1009.0h1v3h-1zM137.3 1009.0h1v3h-1zM122.3 1012.0h1v3h-1zM125.3 1012.0h1v3h-1zM127.3 1012.0h1v3h-1zM131.3 1012.0h1v3h-1zM133.3 1012.0h1v3h-1zM135.3 1012.0h1v3h-1zM137.3 1012.0h1v3h-1zM121.3 1015.0h1v3h-1zM122.3 1015.0h1v3h-1zM133.3 1015.0h1v3h-1zM122.3 1018.0h1v3h-1zM124.3 1018.0h1v3h-1zM135.3 1018.0h1v3h-1zM136.3 1018.0h1v3h-1zM137.3 1018.0h1v3h-1zM122.3 1021.0h1v3h-1zM124.3 1021.0h1v3h-1zM128.3 1021.0h1v3h-1zM131.3 1021.0h1v3h-1zM121.3 1024.0h1v3h-1zM124.3 1024.0h1v3h-1zM127.3 1024.0h1v3h-1zM128.3 1024.0h1v3h-1zM131.3 1024.0h1v3h-1zM132.3 1024.0h1v3h-1zM137.3 1024.0h1v3h-1zM124.3 1027.0h1v3h-1zM125.3 1027.0h1v3h-1zM131.3 1027.0h1v3h-1zM132.3 1027.0h1v3h-1zM133.3 1027.0h1v3h-1zM136.3 1027.0h1v3h-1zM137.3 1027.0h1v3h-1zM122.3 1030.0h1v3h-1zM124.3 1030.0h1v3h-1zM125.3 1030.0h1v3h-1zM127.3 1030.0h1v3h-1zM128.3 1030.0h1v3h-1zM133.3 1030.0h1v3h-1zM121.3 1033.0h1v3h-1zM122.3 1033.0h1v3h-1zM124.3 1033.0h1v3h-1zM128.3 1033.0h1v3h-1zM136.3 1033.0h1v3h-1zM137.3 1033.0h1v3h-1zM121.3 1036.0h1v3h-1zM126.3 1036.0h1v3h-1zM127.3 1036.0h1v3h-1zM135.3 1036.0h1v3h-1zM136.3 1036.0h1v3h-1zM137.3 1036.0h1v3h-1zM124.3 1039.0h1v3h-1zM136.3 1039.0h1v3h-1zM137.3 1039.0h1v3h-1zM122.3 1042.0h1v3h-1zM123.3 1042.0h1v3h-1zM124.3 1042.0h1v3h-1zM130.3 1042.0h1v3h-1zM124.3 1045.0h1v3h-1zM128.3 1045.0h1v3h-1zM133.3 1045.0h1v3h-1zM137.3 1045.0h1v3h-1zM124.3 1048.0h1v3h-1zM126.3 1048.0h1v3h-1zM127.3 1048.0h1v3h-1zM128.3 1048.0h1v3h-1zM131.3 1048.0h1v3h-1zM132.3 1048.0h1v3h-1zM137.3 1048.0h1v3h-1zM121.3 1051.0h1v3h-1zM122.3 1051.0h1v3h-1zM124.3 1051.0h1v3h-1zM126.3 1051.0h1v3h-1zM128.3 1051.0h1v3h-1zM132.3 1051.0h1v3h-1zM133.3 1051.0h1v3h-1zM122.3 1054.0h1v3h-1zM123.3 1054.0h1v3h-1zM125.3 1054.0h1v3h-1zM128.3 1054.0h1v3h-1zM130.3 1054.0h1v3h-1zM136.3 1054.0h1v3h-1zM137.3 1054.0h1v3h-1zM128.3 1057.0h1v3h-1zM130.3 1057.0h1v3h-1zM131.3 1057.0h1v3h-1zM133.3 1057.0h1v3h-1zM122.3 1060.0h1v3h-1zM124.3 1060.0h1v3h-1zM127.3 1060.0h1v3h-1zM128.3 1060.0h1v3h-1zM130.3 1060.0h1v3h-1zM132.3 1060.0h1v3h-1zM122.3 1063.0h1v3h-1zM123.3 1063.0h1v3h-1zM124.3 1063.0h1v3h-1zM125.3 1063.0h1v3h-1zM133.3 1063.0h1v3h-1zM137.3 1063.0h1v3h-1zM122.3 1066.0h1v3h-1zM125.3 1066.0h1v3h-1zM131.3 1066.0h1v3h-1zM133.3 1066.0h1v3h-1zM136.3 1066.0h1v3h-1zM131.3 1069.0h1v3h-1zM137.3 1069.0h1v3h-1zM121.3 1072.0h1v3h-1zM124.3 1072.0h1v3h-1zM127.3 1072.0h1v3h-1zM132.3 1072.0h1v3h-1zM133.3 1072.0h1v3h-1zM121.3 1075.0h1v3h-1zM122.3 1075.0h1v3h-1zM126.3 1075.0h1v3h-1zM127.3 1075.0h1v3h-1zM128.3 1075.0h1v3h-1zM130.3 1075.0h1v3h-1zM132.3 1075.0h1v3h-1zM136.3 1075.0h1v3h-1zM137.3 1075.0h1v3h-1zM121.3 1078.0h1v3h-1zM122.3 1078.0h1v3h-1zM124.3 1078.0h1v3h-1zM128.3 1078.0h1v3h-1zM135.3 1078.0h1v3h-1z"/><path fill="#9090ff" d="M120.3 1003.0h1v3h-1zM130.3 1003.0h1v3h-1zM126.3 1006.0h1v3h-1zM119.3 1009.0h1v3h-1zM129.3 1009.0h1v3h-1zM132.3 1009.0h1v3h-1zM134.3 1009.0h1v3h-1zM136.3 1009.0h1v3h-1zM129.3 1012.0h1v3h-1zM136.3 1012.0h1v3h-1zM120.3 1015.0h1v3h-1zM127.3 1015.0h1v3h-1zM134.3 1015.0h1v3h-1zM135.3 1015.0h1v3h-1zM136.3 1015.0h1v3h-1zM120.3 1018.0h1v3h-1zM129.3 1018.0h1v3h-1zM131.3 1018.0h1v3h-1zM132.3 1018.0h1v3h-1zM134.3 1018.0h1v3h-1zM119.3 1021.0h1v3h-1zM129.3 1021.0h1v3h-1zM134.3 1021.0h1v3h-1zM135.3 1021.0h1v3h-1zM136.3 1021.0h1v3h-1zM134.3 1024.0h1v3h-1zM127.3 1027.0h1v3h-1zM129.3 1027.0h1v3h-1zM120.3 1030.0h1v3h-1zM132.3 1030.0h1v3h-1zM134.3 1030.0h1v3h-1zM126.3 1033.0h1v3h-1zM130.3 1036.0h1v3h-1zM134.3 1036.0h1v3h-1zM119.3 1039.0h1v3h-1zM120.3 1039.0h1v3h-1zM131.3 1039.0h1v3h-1zM134.3 1039.0h1v3h-1zM119.3 1042.0h1v3h-1zM120.3 1042.0h1v3h-1zM129.3 1042.0h1v3h-1zM119.3 1045.0h1v3h-1zM120.3 1045.0h1v3h-1zM127.3 1045.0h1v3h-1zM131.3 1045.0h1v3h-1zM132.3 1045.0h1v3h-1zM136.3 1045.0h1v3h-1zM120.3 1048.0h1v3h-1zM129.3 1048.0h1v3h-1zM130.3 1048.0h1v3h-1zM134.3 1048.0h1v3h-1zM127.3 1051.0h1v3h-1zM130.3 1051.0h1v3h-1zM131.3 1051.0h1v3h-1zM134.3 1051.0h1v3h-1zM119.3 1054.0h1v3h-1zM120.3 1054.0h1v3h-1zM131.3 1054.0h1v3h-1zM132.3 1054.0h1v3h-1zM119.3 1057.0h1v3h-1zM127.3 1057.0h1v3h-1zM134.3 1057.0h1v3h-1zM120.3 1060.0h1v3h-1zM126.3 1060.0h1v3h-1zM129.3 1060.0h1v3h-1zM131.3 1060.0h1v3h-1zM134.3 1060.0h1v3h-1zM135.3 1060.0h1v3h-1zM136.3 1060.0h1v3h-1zM131.3 1063.0h1v3h-1zM135.3 1063.0h1v3h-1zM119.3 1066.0h1v3h-1zM126.3 1066.0h1v3h-1zM127.3 1066.0h1v3h-1zM129.3 1066.0h1v3h-1zM132.3 1066.0h1v3h-1zM134.3 1066.0h1v3h-1zM126.3 1069.0h1v3h-1zM129.3 1069.0h1v3h-1zM130.3 1069.0h1v3h-1zM132.3 1069.0h1v3h-1zM135.3 1069.0h1v3h-1zM119.3 1072.0h1v3h-1zM126.3 1072.0h1v3h-1zM129.3 1072.0h1v3h-1zM131.3 1072.0h1v3h-1zM135.3 1072.0h1v3h-1zM129.3 1075.0h1v3h-1zM131.3 1075.0h1v3h-1zM134.3 1075.0h1v3h-1zM126.3 1078.0h1v3h-1zM131.3 1078.0h1v3h-1z"/><path fill="#6a6aff" d="M119.3 1003.0h1v3h-1zM129.3 1003.0h1v3h-1zM119.3 1006.0h1v3h-1zM120.3 1006.0h1v3h-1zM119.3 1012.0h1v3h-1zM134.3 1012.0h1v3h-1zM119.3 1015.0h1v3h-1zM119.3 1018.0h1v3h-1zM120.3 1021.0h1v3h-1zM119.3 1024.0h1v3h-1zM119.3 1027.0h1v3h-1zM120.3 1027.0h1v3h-1zM119.3 1030.0h1v3h-1zM129.3 1030.0h1v3h-1zM119.3 1033.0h1v3h-1zM120.3 1033.0h1v3h-1zM119.3 1036.0h1v3h-1zM120.3 1036.0h1v3h-1zM134.3 1042.0h1v3h-1zM134.3 1045.0h1v3h-1zM119.3 1048.0h1v3h-1zM119.3 1051.0h1v3h-1zM120.3 1051.0h1v3h-1zM129.3 1054.0h1v3h-1zM134.3 1054.0h1v3h-1zM119.3 1060.0h1v3h-1zM119.3 1063.0h1v3h-1zM129.3 1063.0h1v3h-1zM134.3 1063.0h1v3h-1zM119.3 1069.0h1v3h-1zM120.3 1069.0h1v3h-1zM134.3 1069.0h1v3h-1zM119.3 1075.0h1v3h-1zM119.3 1078.0h1v3h-1zM120.3 1078.0h1v3h-1zM129.3 1078.0h1v3h-1zM134.3 1078.0h1v3h-1z"/><rect x="130.7" y="1004.8" width="6.4" height="21.5" fill="#0000ff"/><path fill="#ececff" d="M119.3 1080.7h2v2h-2zM121.3 1080.7h2v2h-2zM125.3 1080.7h2v2h-2zM131.3 1080.7h2v2h-2zM133.3 1080.7h2v2h-2zM137.3 1080.7h0.7v2h-0.7zM125.3 1082.7h2v2h-2zM129.3 1082.7h2v2h-2zM133.3 1082.7h2v2h-2zM137.3 1082.7h0.7v2h-0.7zM119.3 1084.7h2v2h-2zM123.3 1084.7h2v2h-2zM125.3 1084.7h2v2h-2zM131.3 1084.7h2v2h-2zM137.3 1084.7h0.7v2h-0.7zM123.3 1086.7h2v2h-2zM125.3 1086.7h2v2h-2zM127.3 1086.7h2v2h-2zM131.3 1086.7h2v2h-2zM119.3 1088.7h2v2h-2zM123.3 1088.7h2v2h-2zM129.3 1088.7h2v2h-2zM131.3 1088.7h2v2h-2zM133.3 1088.7h2v2h-2zM135.3 1088.7h2v2h-2zM137.3 1088.7h0.7v2h-0.7zM119.3 1090.7h2v2h-2zM121.3 1090.7h2v2h-2zM133.3 1090.7h2v2h-2zM121.3 1092.7h2v2h-2zM131.3 1092.7h2v2h-2zM119.3 1094.7h2v2h-2zM121.3 1094.7h2v2h-2zM123.3 1094.7h2v2h-2zM125.3 1094.7h2v2h-2zM129.3 1094.7h2v2h-2zM119.3 1096.7h2v2h-2zM127.3 1096.7h2v2h-2zM129.3 1096.7h2v2h-2zM131.3 1096.7h2v2h-2zM133.3 1096.7h2v2h-2zM135.3 1096.7h2v2h-2zM121.3 1098.7h2v2h-2zM123.3 1098.7h2v2h-2zM131.3 1098.7h2v2h-2zM121.3 1100.7h2v2h-2zM127.3 1100.7h2v2h-2zM131.3 1100.7h2v2h-2zM137.3 1100.7h0.7v2h-0.7zM119.3 1102.7h2v2h-2zM129.3 1102.7h2v2h-2zM131.3 1102.7h2v2h-2zM135.3 1102.7h2v2h-2zM137.3 1102.7h0.7v2h-0.7zM121.3 1104.7h2v2h-2zM127.3 1104.7h2v2h-2zM121.3 1106.7h2v2h-2zM127.3 1106.7h2v2h-2zM133.3 1106.7h2v2h-2zM121.3 1108.7h2v2h-2zM125.3 1108.7h2v2h-2zM127.3 1108.7h2v2h-2zM131.3 1108.7h2v2h-2zM133.3 1108.7h2v2h-2zM135.3 1108.7h2v2h-2zM137.3 1108.7h0.7v2h-0.7zM119.3 1110.7h2v2h-2zM127.3 1110.7h2v2h-2zM133.3 1110.7h2v2h-2zM127.3 1112.7h2v2h-2zM129.3 1112.7h2v2h-2zM131.3 1112.7h2v2h-2zM123.3 1114.7h2v2h-2zM125.3 1114.7h2v2h-2zM131.3 1114.7h2v2h-2zM137.3 1114.7h0.7v2h-0.7zM119.3 1116.7h2v2h-2zM123.3 1116.7h2v2h-2zM135.3 1116.7h2v2h-2zM137.3 1116.7h0.7v2h-0.7zM121.3 1118.7h2v2h-2zM123.3 1118.7h2v2h-2zM129.3 1118.7h2v2h-2zM121.3 1120.7h2v2h-2zM123.3 1120.7h2v2h-2zM133.3 1120.7h2v2h-2zM135.3 1120.7h2v2h-2zM119.3 1122.7h2v2h-2zM121.3 1122.7h2v2h-2zM129.3 1122.7h2v2h-2zM121.3 1124.7h2v2h-2zM127.3 1124.7h2v2h-2zM125.3 1126.7h2v2h-2zM129.3 1126.7h2v2h-2zM131.3 1126.7h2v2h-2zM121.3 1128.7h2v2h-2zM123.3 1128.7h2v2h-2zM125.3 1128.7h2v2h-2zM137.3 1128.7h0.7v2h-0.7zM121.3 1130.7h2v2h-2zM123.3 1130.7h2v2h-2zM133.3 1130.7h2v2h-2zM135.3 1130.7h2v2h-2zM119.3 1132.7h2v2h-2zM127.3 1132.7h2v2h-2zM137.3 1132.7h0.7v2h-0.7zM125.3 1134.7h2v2h-2zM133.3 1134.7h2v2h-2zM135.3 1134.7h2v2h-2zM119.3 1136.7h2v2h-2zM125.3 1136.7h2v2h-2zM133.3 1136.7h2v2h-2zM129.3 1138.7h2v2h-2zM131.3 1138.7h2v2h-2zM133.3 1138.7h2v2h-2zM119.3 1140.7h2v2h-2zM125.3 1140.7h2v2h-2zM129.3 1140.7h2v2h-2zM131.3 1140.7h2v2h-2zM123.3 1142.7h2v2h-2zM125.3 1142.7h2v2h-2zM127.3 1142.7h2v2h-2zM133.3 1142.7h2v2h-2zM121.3 1144.7h2v2h-2zM127.3 1144.7h2v2h-2zM129.3 1144.7h2v2h-2zM133.3 1144.7h2v2h-2zM123.3 1146.7h2v2h-2zM129.3 1146.7h2v2h-2zM135.3 1146.7h2v2h-2zM119.3 1148.7h2v2h-2zM131.3 1148.7h2v2h-2zM135.3 1148.7h2v2h-2zM123.3 1150.7h2v2h-2zM129.3 1150.7h2v2h-2zM127.3 1152.7h2v2h-2zM135.3 1152.7h2v2h-2zM137.3 1152.7h0.7v2h-0.7zM119.3 1154.7h2v2h-2zM123.3 1154.7h2v2h-2zM125.3 1154.7h2v2h-2zM129.3 1154.7h2v2h-2zM135.3 1154.7h2v2h-2zM137.3 1154.7h0.7v2h-0.7zM119.3 1156.7h2v2h-2zM123.3 1156.7h2v2h-2zM133.3 1156.7h2v2h-2zM135.3 1156.7h2v2h-2zM123.3 1158.7h2v2h-2zM125.3 1158.7h2v2h-2zM135.3 1158.7h2v2h-2zM119.3 1160.7h2v2h-2zM121.3 1160.7h2v2h-2zM127.3 1160.7h2v2h-2zM129.3 1160.7h2v2h-2zM131.3 1160.7h2v2h-2zM135.3 1160.7h2v2h-2zM137.3 1160.7h0.7v2h-0.7zM119.3 1162.7h2v2h-2zM125.3 1162.7h2v2h-2zM131.3 1162.7h2v2h-2zM123.3 1164.7h2v2h-2zM125.3 1164.7h2v2h-2zM127.3 1164.7h2v2h-2zM137.3 1164.7h0.7v2h-0.7zM119.3 1166.7h2v2h-2zM121.3 1166.7h2v2h-2zM123.3 1166.7h2v2h-2zM125.3 1166.7h2v2h-2zM131.3 1166.7h2v2h-2zM133.3 1166.7h2v2h-2zM135.3 1166.7h2v2h-2zM133.3 1168.7h2v2h-2zM135.3 1168.7h2v2h-2zM137.3 1168.7h0.7v2h-0.7zM119.3 1170.7h2v2h-2zM123.3 1170.7h2v2h-2zM129.3 1170.7h2v2h-2zM131.3 1170.7h2v2h-2zM135.3 1170.7h2v2h-2zM119.3 1172.7h2v2h-2zM121.3 1172.7h2v2h-2zM127.3 1172.7h2v2h-2zM129.3 1172.7h2v2h-2zM131.3 1172.7h2v2h-2zM135.3 1172.7h2v2h-2zM137.3 1172.7h0.7v2h-0.7zM119.3 1174.7h2v1.4h-2zM123.3 1174.7h2v1.4h-2zM125.3 1174.7h2v1.4h-2zM131.3 1174.7h2v1.4h-2zM133.3 1174.7h2v1.4h-2zM135.3 1174.7h2v1.4h-2zM137.3 1174.7h0.7v1.4h-0.7z"/><path fill="#dadaff" d="M121.3 1082.7h2v2h-2zM121.3 1084.7h2v2h-2zM133.3 1084.7h2v2h-2zM129.3 1086.7h2v2h-2zM135.3 1086.7h2v2h-2zM137.3 1086.7h0.7v2h-0.7zM125.3 1090.7h2v2h-2zM127.3 1090.7h2v2h-2zM129.3 1090.7h2v2h-2zM131.3 1090.7h2v2h-2zM137.3 1090.7h0.7v2h-0.7zM119.3 1092.7h2v2h-2zM125.3 1092.7h2v2h-2zM133.3 1092.7h2v2h-2zM127.3 1094.7h2v2h-2zM135.3 1094.7h2v2h-2zM137.3 1094.7h0.7v2h-0.7zM123.3 1096.7h2v2h-2zM125.3 1098.7h2v2h-2zM129.3 1098.7h2v2h-2zM119.3 1100.7h2v2h-2zM123.3 1100.7h2v2h-2zM125.3 1100.7h2v2h-2zM121.3 1102.7h2v2h-2zM123.3 1102.7h2v2h-2zM133.3 1102.7h2v2h-2zM123.3 1104.7h2v2h-2zM129.3 1104.7h2v2h-2zM131.3 1104.7h2v2h-2zM119.3 1106.7h2v2h-2zM119.3 1108.7h2v2h-2zM123.3 1108.7h2v2h-2zM125.3 1110.7h2v2h-2zM129.3 1110.7h2v2h-2zM133.3 1112.7h2v2h-2zM121.3 1114.7h2v2h-2zM133.3 1114.7h2v2h-2zM125.3 1116.7h2v2h-2zM119.3 1118.7h2v2h-2zM125.3 1118.7h2v2h-2zM133.3 1118.7h2v2h-2zM127.3 1120.7h2v2h-2zM129.3 1120.7h2v2h-2zM123.3 1122.7h2v2h-2zM131.3 1122.7h2v2h-2zM119.3 1124.7h2v2h-2zM125.3 1124.7h2v2h-2zM127.3 1126.7h2v2h-2zM135.3 1126.7h2v2h-2zM129.3 1128.7h2v2h-2zM131.3 1128.7h2v2h-2zM135.3 1128.7h2v2h-2zM119.3 1130.7h2v2h-2zM125.3 1130.7h2v2h-2zM127.3 1130.7h2v2h-2zM137.3 1130.7h0.7v2h-0.7zM125.3 1132.7h2v2h-2zM135.3 1132.7h2v2h-2zM131.3 1134.7h2v2h-2zM121.3 1136.7h2v2h-2zM135.3 1136.7h2v2h-2zM121.3 1138.7h2v2h-2zM125.3 1138.7h2v2h-2zM135.3 1138.7h2v2h-2zM123.3 1140.7h2v2h-2zM137.3 1140.7h0.7v2h-0.7zM121.3 1142.7h2v2h-2zM125.3 1144.7h2v2h-2zM137.3 1144.7h0.7v2h-0.7zM133.3 1146.7h2v2h-2zM137.3 1146.7h0.7v2h-0.7zM121.3 1148.7h2v2h-2zM123.3 1148.7h2v2h-2zM129.3 1148.7h2v2h-2zM133.3 1148.7h2v2h-2zM119.3 1150.7h2v2h-2zM125.3 1150.7h2v2h-2zM135.3 1150.7h2v2h-2zM129.3 1152.7h2v2h-2zM131.3 1152.7h2v2h-2zM121.3 1154.7h2v2h-2zM127.3 1154.7h2v2h-2zM127.3 1156.7h2v2h-2zM129.3 1156.7h2v2h-2zM119.3 1158.7h2v2h-2zM129.3 1158.7h2v2h-2zM121.3 1162.7h2v2h-2zM133.3 1162.7h2v2h-2zM137.3 1162.7h0.7v2h-0.7zM119.3 1164.7h2v2h-2zM121.3 1164.7h2v2h-2zM133.3 1164.7h2v2h-2zM137.3 1166.7h0.7v2h-0.7zM123.3 1168.7h2v2h-2zM125.3 1168.7h2v2h-2zM127.3 1168.7h2v2h-2zM129.3 1168.7h2v2h-2zM121.3 1170.7h2v2h-2zM127.3 1170.7h2v2h-2zM133.3 1170.7h2v2h-2zM129.3 1174.7h2v1.4h-2z"/><path fill="#ececff" d="M140.0 1080.7h2v2h-2zM146.0 1080.7h2v2h-2zM152.0 1080.7h2v2h-2zM154.0 1080.7h2v2h-2zM172.0 1080.7h2v2h-2zM176.0 1080.7h2v2h-2zM182.0 1080.7h2v2h-2zM186.0 1080.7h2v2h-2zM192.0 1080.7h2v2h-2zM198.0 1080.7h2v2h-2zM200.0 1080.7h2v2h-2zM204.0 1080.7h2v2h-2zM218.0 1080.7h2v2h-2zM220.0 1080.7h2v2h-2zM224.0 1080.7h2v2h-2zM228.0 1080.7h2v2h-2zM140.0 1082.7h2v2h-2zM142.0 1082.7h2v2h-2zM152.0 1082.7h2v2h-2zM154.0 1082.7h2v2h-2zM156.0 1082.7h2v2h-2zM160.0 1082.7h2v2h-2zM162.0 1082.7h2v2h-2zM164.0 1082.7h2v2h-2zM166.0 1082.7h2v2h-2zM168.0 1082.7h2v2h-2zM176.0 1082.7h2v2h-2zM184.0 1082.7h2v2h-2zM186.0 1082.7h2v2h-2zM192.0 1082.7h2v2h-2zM196.0 1082.7h2v2h-2zM204.0 1082.7h2v2h-2zM206.0 1082.7h2v2h-2zM208.0 1082.7h2v2h-2zM210.0 1082.7h2v2h-2zM218.0 1082.7h2v2h-2zM220.0 1082.7h2v2h-2zM142.0 1084.7h2v2h-2zM144.0 1084.7h2v2h-2zM148.0 1084.7h2v2h-2zM156.0 1084.7h2v2h-2zM160.0 1084.7h2v2h-2zM180.0 1084.7h2v2h-2zM186.0 1084.7h2v2h-2zM188.0 1084.7h2v2h-2zM190.0 1084.7h2v2h-2zM200.0 1084.7h2v2h-2zM206.0 1084.7h2v2h-2zM208.0 1084.7h2v2h-2zM210.0 1084.7h2v2h-2zM212.0 1084.7h2v2h-2zM218.0 1084.7h2v2h-2zM224.0 1084.7h2v2h-2zM148.0 1086.7h2v2h-2zM152.0 1086.7h2v2h-2zM154.0 1086.7h2v2h-2zM156.0 1086.7h2v2h-2zM164.0 1086.7h2v2h-2zM166.0 1086.7h2v2h-2zM168.0 1086.7h2v2h-2zM176.0 1086.7h2v2h-2zM178.0 1086.7h2v2h-2zM182.0 1086.7h2v2h-2zM186.0 1086.7h2v2h-2zM190.0 1086.7h2v2h-2zM192.0 1086.7h2v2h-2zM194.0 1086.7h2v2h-2zM196.0 1086.7h2v2h-2zM202.0 1086.7h2v2h-2zM204.0 1086.7h2v2h-2zM212.0 1086.7h2v2h-2zM214.0 1086.7h2v2h-2zM218.0 1086.7h2v2h-2zM220.0 1086.7h2v2h-2zM222.0 1086.7h2v2h-2zM140.0 1088.7h2v2h-2zM148.0 1088.7h2v2h-2zM150.0 1088.7h2v2h-2zM158.0 1088.7h2v2h-2zM170.0 1088.7h2v2h-2zM176.0 1088.7h2v2h-2zM178.0 1088.7h2v2h-2zM180.0 1088.7h2v2h-2zM186.0 1088.7h2v2h-2zM188.0 1088.7h2v2h-2zM202.0 1088.7h2v2h-2zM214.0 1088.7h2v2h-2zM228.0 1088.7h2v2h-2zM230.0 1088.7h0.3v2h-0.3zM144.0 1090.7h2v2h-2zM152.0 1090.7h2v2h-2zM166.0 1090.7h2v2h-2zM168.0 1090.7h2v2h-2zM174.0 1090.7h2v2h-2zM184.0 1090.7h2v2h-2zM186.0 1090.7h2v2h-2zM188.0 1090.7h2v2h-2zM190.0 1090.7h2v2h-2zM196.0 1090.7h2v2h-2zM200.0 1090.7h2v2h-2zM202.0 1090.7h2v2h-2zM204.0 1090.7h2v2h-2zM206.0 1090.7h2v2h-2zM212.0 1090.7h2v2h-2zM214.0 1090.7h2v2h-2zM216.0 1090.7h2v2h-2zM220.0 1090.7h2v2h-2zM224.0 1090.7h2v2h-2zM138.0 1092.7h2v2h-2zM140.0 1092.7h2v2h-2zM142.0 1092.7h2v2h-2zM152.0 1092.7h2v2h-2zM158.0 1092.7h2v2h-2zM162.0 1092.7h2v2h-2zM174.0 1092.7h2v2h-2zM184.0 1092.7h2v2h-2zM192.0 1092.7h2v2h-2zM200.0 1092.7h2v2h-2zM202.0 1092.7h2v2h-2zM210.0 1092.7h2v2h-2zM216.0 1092.7h2v2h-2zM218.0 1092.7h2v2h-2zM224.0 1092.7h2v2h-2zM228.0 1092.7h2v2h-2zM230.0 1092.7h0.3v2h-0.3zM140.0 1094.7h2v2h-2zM142.0 1094.7h2v2h-2zM150.0 1094.7h2v2h-2zM164.0 1094.7h2v2h-2zM174.0 1094.7h2v2h-2zM190.0 1094.7h2v2h-2zM196.0 1094.7h2v2h-2zM200.0 1094.7h2v2h-2zM212.0 1094.7h2v2h-2zM214.0 1094.7h2v2h-2zM218.0 1094.7h2v2h-2z"/><path fill="#d8d8ff" d="M142.0 1080.7h2v2h-2zM162.0 1080.7h2v2h-2zM202.0 1080.7h2v2h-2zM214.0 1080.7h2v2h-2zM138.0 1082.7h2v2h-2zM150.0 1082.7h2v2h-2zM172.0 1082.7h2v2h-2zM178.0 1082.7h2v2h-2zM180.0 1082.7h2v2h-2zM198.0 1082.7h2v2h-2zM202.0 1082.7h2v2h-2zM224.0 1082.7h2v2h-2zM226.0 1082.7h2v2h-2zM146.0 1084.7h2v2h-2zM152.0 1084.7h2v2h-2zM166.0 1084.7h2v2h-2zM168.0 1084.7h2v2h-2zM170.0 1084.7h2v2h-2zM182.0 1084.7h2v2h-2zM184.0 1084.7h2v2h-2zM194.0 1084.7h2v2h-2zM198.0 1084.7h2v2h-2zM216.0 1084.7h2v2h-2zM220.0 1084.7h2v2h-2zM222.0 1084.7h2v2h-2zM138.0 1086.7h2v2h-2zM158.0 1086.7h2v2h-2zM162.0 1086.7h2v2h-2zM172.0 1086.7h2v2h-2zM184.0 1086.7h2v2h-2zM198.0 1086.7h2v2h-2zM210.0 1086.7h2v2h-2zM216.0 1086.7h2v2h-2zM138.0 1088.7h2v2h-2zM166.0 1088.7h2v2h-2zM172.0 1088.7h2v2h-2zM174.0 1088.7h2v2h-2zM182.0 1088.7h2v2h-2zM192.0 1088.7h2v2h-2zM194.0 1088.7h2v2h-2zM196.0 1088.7h2v2h-2zM216.0 1088.7h2v2h-2zM222.0 1088.7h2v2h-2zM140.0 1090.7h2v2h-2zM146.0 1090.7h2v2h-2zM148.0 1090.7h2v2h-2zM162.0 1090.7h2v2h-2zM170.0 1090.7h2v2h-2zM172.0 1090.7h2v2h-2zM176.0 1090.7h2v2h-2zM180.0 1090.7h2v2h-2zM192.0 1090.7h2v2h-2zM230.0 1090.7h0.3v2h-0.3zM148.0 1092.7h2v2h-2zM156.0 1092.7h2v2h-2zM172.0 1092.7h2v2h-2zM182.0 1092.7h2v2h-2zM190.0 1092.7h2v2h-2zM198.0 1092.7h2v2h-2zM212.0 1092.7h2v2h-2zM148.0 1094.7h2v2h-2zM154.0 1094.7h2v2h-2zM168.0 1094.7h2v2h-2zM176.0 1094.7h2v2h-2zM178.0 1094.7h2v2h-2zM206.0 1094.7h2v2h-2zM210.0 1094.7h2v2h-2zM224.0 1094.7h2v2h-2zM226.0 1094.7h2v2h-2z"/><rect x="121.3" y="1083.7" width="14" height="11" fill="#fff" fill-opacity="0.8"/><rect x="29.6" y="1003.0" width="200.7" height="173.1" fill="none" stroke="#555" stroke-width="0.9"/><text x="238.2" y="1004.5" font-family='"Liberation Serif", serif' font-size="8.2" stroke="#000" stroke-width="0.25" textLength="30.7" lengthAdjust="spacingAndGlyphs">Distance</text><linearGradient id="distg" x1="0" y1="0" x2="1" y2="0"><stop offset="0" stop-color="#0000ff"/><stop offset="1" stop-color="#ffffff"/></linearGradient><rect x="237.6" y="1007" width="56.2" height="9.2" fill="url(#distg)"/><path d="M237.8 1016.2V1018.8M265.4 1016.2V1018.8M293.4 1016.2V1018.8" stroke="#444" stroke-width="0.7"/><text x="239.1" y="1026.6" font-family='"Liberation Serif", serif' font-size="8.2" text-anchor="middle" stroke="#000" stroke-width="0.25">0.0</text><text x="265.4" y="1026.6" font-family='"Liberation Serif", serif' font-size="8.2" text-anchor="middle" stroke="#000" stroke-width="0.25">0.5</text><text x="293.4" y="1026.6" font-family='"Liberation Serif", serif' font-size="8.2" text-anchor="middle" stroke="#000" stroke-width="0.25">1.0</text><text x="240.8" y="1071.0" font-family='"Liberation Serif", serif' font-size="8.2" stroke="#000" stroke-width="0.25" textLength="27.7" lengthAdjust="spacingAndGlyphs">Cluster:</text><circle cx="244.3" cy="1084" r="3.3" fill="#e64b35"/><circle cx="244.3" cy="1091.3" r="3.3" fill="#4dbbd5"/><text x="249.2" y="1086.9" font-family='"Liberation Serif", serif' font-size="8.2" stroke="#000" stroke-width="0.25">C1</text><text x="249.2" y="1094.5" font-family='"Liberation Serif", serif' font-size="8.2" stroke="#000" stroke-width="0.25">C2</text><text transform="translate(307.94,495.50) scale(0.859,1)" font-family='"Liberation Sans", sans-serif' font-size="24" font-weight="bold" stroke="#000" stroke-width="0.7">G</text><path fill="#c0c0ff" d="M360.1 502h1v15h-1zM625.1 502h1v15h-1z"/><path fill="#6060ff" d="M361.1 502h1v15h-1zM365.1 502h3v15h-3zM377.1 502h3v15h-3zM408.1 502h2v15h-2zM423.1 502h2v15h-2zM427.1 502h8v15h-8zM445.1 502h1v15h-1zM450.1 502h2v15h-2zM453.1 502h3v15h-3zM461.1 502h1v15h-1zM467.1 502h1v15h-1zM489.1 502h1v15h-1zM511.1 502h2v15h-2zM519.1 502h1v15h-1zM523.1 502h3v15h-3zM529.1 502h1v15h-1zM532.1 502h2v15h-2zM535.1 502h2v15h-2zM547.1 502h1v15h-1zM551.1 502h3v15h-3zM572.1 502h3v15h-3zM598.1 502h1v15h-1zM600.1 502h1v15h-1zM622.1 502h2v15h-2z"/><path fill="#7070ff" d="M362.1 502h2v15h-2zM368.1 502h2v15h-2zM375.1 502h2v15h-2zM392.1 502h2v15h-2zM399.1 502h1v15h-1zM407.1 502h1v15h-1zM459.1 502h1v15h-1zM468.1 502h3v15h-3zM482.1 502h2v15h-2zM491.1 502h2v15h-2zM496.1 502h3v15h-3zM509.1 502h2v15h-2zM514.1 502h2v15h-2zM554.1 502h2v15h-2zM557.1 502h1v15h-1zM559.1 502h3v15h-3zM565.1 502h2v15h-2zM599.1 502h1v15h-1zM601.1 502h5v15h-5z"/><path fill="#5050ff" d="M364.1 502h1v15h-1zM370.1 502h2v15h-2zM380.1 502h1v15h-1zM382.1 502h2v15h-2zM386.1 502h1v15h-1zM400.1 502h3v15h-3zM406.1 502h1v15h-1zM415.1 502h1v15h-1zM418.1 502h1v15h-1zM421.1 502h2v15h-2zM425.1 502h2v15h-2zM435.1 502h4v15h-4zM448.1 502h1v15h-1zM460.1 502h1v15h-1zM462.1 502h2v15h-2zM475.1 502h2v15h-2zM486.1 502h1v15h-1zM488.1 502h1v15h-1zM490.1 502h1v15h-1zM495.1 502h1v15h-1zM499.1 502h4v15h-4zM504.1 502h2v15h-2zM518.1 502h1v15h-1zM548.1 502h3v15h-3zM562.1 502h1v15h-1zM567.1 502h1v15h-1zM580.1 502h1v15h-1zM582.1 502h2v15h-2zM596.1 502h2v15h-2zM606.1 502h3v15h-3zM614.1 502h3v15h-3zM619.1 502h1v15h-1zM624.1 502h1v15h-1z"/><path fill="#8080ff" d="M372.1 502h3v15h-3zM394.1 502h5v15h-5zM404.1 502h1v15h-1zM410.1 502h3v15h-3zM416.1 502h2v15h-2zM446.1 502h2v15h-2zM452.1 502h1v15h-1zM456.1 502h3v15h-3zM474.1 502h1v15h-1zM479.1 502h1v15h-1zM484.1 502h2v15h-2zM493.1 502h2v15h-2zM506.1 502h3v15h-3zM521.1 502h2v15h-2zM526.1 502h3v15h-3zM530.1 502h1v15h-1zM545.1 502h2v15h-2zM556.1 502h1v15h-1zM563.1 502h2v15h-2zM591.1 502h3v15h-3zM611.1 502h2v15h-2zM620.1 502h2v15h-2z"/><path fill="#4040ff" d="M381.1 502h1v15h-1zM384.1 502h2v15h-2zM413.1 502h2v15h-2zM442.1 502h3v15h-3zM464.1 502h3v15h-3zM471.1 502h1v15h-1zM477.1 502h2v15h-2zM513.1 502h1v15h-1zM516.1 502h2v15h-2zM570.1 502h1v15h-1zM577.1 502h3v15h-3zM587.1 502h1v15h-1zM617.1 502h2v15h-2zM626.1 502h2v15h-2z"/><path fill="#ffffff" d="M387.1 502h1v15h-1zM419.1 502h2v15h-2zM449.1 502h1v15h-1zM487.1 502h1v15h-1zM520.1 502h1v15h-1zM540.1 502h3v15h-3zM581.1 502h1v15h-1zM613.1 502h1v15h-1z"/><path fill="#9090ff" d="M388.1 502h2v15h-2zM403.1 502h1v15h-1zM439.1 502h3v15h-3zM480.1 502h1v15h-1zM503.1 502h1v15h-1zM531.1 502h1v15h-1zM543.1 502h2v15h-2z"/><path fill="#a0a0ff" d="M390.1 502h2v15h-2zM472.1 502h2v15h-2zM481.1 502h1v15h-1zM538.1 502h2v15h-2zM558.1 502h1v15h-1zM575.1 502h2v15h-2zM609.1 502h2v15h-2z"/><path fill="#b0b0ff" d="M405.1 502h1v15h-1zM534.1 502h1v15h-1zM584.1 502h3v15h-3zM588.1 502h3v15h-3z"/><path fill="#ffb0b0" d="M537.1 502h1v15h-1z"/><path fill="#fff0f0" d="M568.1 502h2v15h-2z"/><path fill="#e0e0ff" d="M571.1 502h1v15h-1zM594.1 502h2v15h-2z"/><path fill="#8fa4b0" d="M360.1 518.1h1v4.8h-1zM364.1 518.1h1v4.8h-1zM392.1 518.1h1v4.8h-1zM399.1 518.1h2v4.8h-2zM414.1 518.1h1v4.8h-1zM433.1 518.1h1v4.8h-1zM436.1 518.1h3v4.8h-3zM444.1 518.1h1v4.8h-1zM453.1 518.1h3v4.8h-3zM478.1 518.1h1v4.8h-1zM494.1 518.1h3v4.8h-3zM499.1 518.1h1v4.8h-1zM508.1 518.1h1v4.8h-1zM537.1 518.1h1v4.8h-1zM568.1 518.1h2v4.8h-2zM595.1 518.1h4v4.8h-4zM605.1 518.1h5v4.8h-5zM611.1 518.1h5v4.8h-5zM619.1 518.1h1v4.8h-1zM624.1 518.1h2v4.8h-2z"/><path fill="#a3988f" d="M361.1 518.1h2v4.8h-2zM415.1 518.1h3v4.8h-3zM423.1 518.1h2v4.8h-2zM426.1 518.1h2v4.8h-2zM447.1 518.1h3v4.8h-3zM452.1 518.1h1v4.8h-1zM458.1 518.1h2v4.8h-2zM480.1 518.1h1v4.8h-1zM489.1 518.1h3v4.8h-3zM503.1 518.1h4v4.8h-4zM519.1 518.1h3v4.8h-3zM536.1 518.1h1v4.8h-1zM558.1 518.1h1v4.8h-1zM570.1 518.1h2v4.8h-2zM581.1 518.1h3v4.8h-3zM603.1 518.1h2v4.8h-2zM616.1 518.1h3v4.8h-3zM622.1 518.1h2v4.8h-2z"/><path fill="#e64b35" d="M363.1 518.1h1v4.8h-1zM365.1 518.1h1v4.8h-1zM368.1 518.1h1v4.8h-1zM372.1 518.1h7v4.8h-7zM384.1 518.1h8v4.8h-8zM393.1 518.1h6v4.8h-6zM401.1 518.1h9v4.8h-9zM411.1 518.1h3v4.8h-3zM418.1 518.1h5v4.8h-5zM425.1 518.1h1v4.8h-1zM428.1 518.1h5v4.8h-5zM434.1 518.1h2v4.8h-2zM439.1 518.1h5v4.8h-5zM445.1 518.1h2v4.8h-2zM450.1 518.1h2v4.8h-2zM456.1 518.1h2v4.8h-2zM460.1 518.1h4v4.8h-4zM467.1 518.1h6v4.8h-6zM483.1 518.1h1v4.8h-1zM485.1 518.1h2v4.8h-2zM492.1 518.1h2v4.8h-2zM497.1 518.1h1v4.8h-1zM509.1 518.1h9v4.8h-9zM522.1 518.1h2v4.8h-2zM525.1 518.1h10v4.8h-10zM538.1 518.1h12v4.8h-12zM551.1 518.1h7v4.8h-7zM559.1 518.1h9v4.8h-9zM572.1 518.1h4v4.8h-4zM580.1 518.1h1v4.8h-1zM585.1 518.1h10v4.8h-10zM599.1 518.1h2v4.8h-2zM610.1 518.1h1v4.8h-1zM620.1 518.1h2v4.8h-2zM626.1 518.1h2v4.8h-2z"/><path fill="#4dbbd5" d="M366.1 518.1h2v4.8h-2zM369.1 518.1h3v4.8h-3zM379.1 518.1h5v4.8h-5zM410.1 518.1h1v4.8h-1zM464.1 518.1h3v4.8h-3zM473.1 518.1h5v4.8h-5zM479.1 518.1h1v4.8h-1zM481.1 518.1h2v4.8h-2zM484.1 518.1h1v4.8h-1zM487.1 518.1h2v4.8h-2zM498.1 518.1h1v4.8h-1zM500.1 518.1h3v4.8h-3zM507.1 518.1h1v4.8h-1zM518.1 518.1h1v4.8h-1zM524.1 518.1h1v4.8h-1zM535.1 518.1h1v4.8h-1zM550.1 518.1h1v4.8h-1zM576.1 518.1h4v4.8h-4zM584.1 518.1h1v4.8h-1zM601.1 518.1h2v4.8h-2z"/><path fill="#8fa4b0" d="M360.1 523.9h2v5.1h-2zM367.1 523.9h2v5.1h-2zM379.1 523.9h2v5.1h-2zM399.1 523.9h1v5.1h-1zM402.1 523.9h1v5.1h-1zM415.1 523.9h1v5.1h-1zM417.1 523.9h1v5.1h-1zM423.1 523.9h1v5.1h-1zM426.1 523.9h4v5.1h-4zM446.1 523.9h1v5.1h-1zM451.1 523.9h1v5.1h-1zM463.1 523.9h1v5.1h-1zM493.1 523.9h5v5.1h-5zM503.1 523.9h2v5.1h-2zM515.1 523.9h2v5.1h-2zM548.1 523.9h6v5.1h-6zM562.1 523.9h1v5.1h-1zM564.1 523.9h4v5.1h-4zM571.1 523.9h1v5.1h-1zM576.1 523.9h3v5.1h-3zM581.1 523.9h1v5.1h-1zM594.1 523.9h3v5.1h-3zM598.1 523.9h5v5.1h-5z"/><path fill="#e64b35" d="M362.1 523.9h1v5.1h-1zM377.1 523.9h2v5.1h-2zM382.1 523.9h5v5.1h-5zM400.1 523.9h1v5.1h-1zM403.1 523.9h8v5.1h-8zM414.1 523.9h1v5.1h-1zM416.1 523.9h1v5.1h-1zM421.1 523.9h2v5.1h-2zM424.1 523.9h2v5.1h-2zM432.1 523.9h5v5.1h-5zM443.1 523.9h3v5.1h-3zM449.1 523.9h1v5.1h-1zM452.1 523.9h2v5.1h-2zM462.1 523.9h1v5.1h-1zM470.1 523.9h1v5.1h-1zM474.1 523.9h1v5.1h-1zM479.1 523.9h2v5.1h-2zM482.1 523.9h1v5.1h-1zM487.1 523.9h5v5.1h-5zM498.1 523.9h2v5.1h-2zM505.1 523.9h3v5.1h-3zM513.1 523.9h2v5.1h-2zM517.1 523.9h2v5.1h-2zM520.1 523.9h2v5.1h-2zM539.1 523.9h5v5.1h-5zM545.1 523.9h1v5.1h-1zM568.1 523.9h3v5.1h-3zM587.1 523.9h6v5.1h-6zM597.1 523.9h1v5.1h-1zM605.1 523.9h3v5.1h-3zM610.1 523.9h1v5.1h-1zM613.1 523.9h3v5.1h-3zM617.1 523.9h4v5.1h-4zM622.1 523.9h5v5.1h-5z"/><path fill="#4dbbd5" d="M363.1 523.9h4v5.1h-4zM369.1 523.9h7v5.1h-7zM392.1 523.9h7v5.1h-7zM401.1 523.9h1v5.1h-1zM413.1 523.9h1v5.1h-1zM419.1 523.9h2v5.1h-2zM438.1 523.9h5v5.1h-5zM450.1 523.9h1v5.1h-1zM454.1 523.9h8v5.1h-8zM464.1 523.9h5v5.1h-5zM471.1 523.9h3v5.1h-3zM475.1 523.9h4v5.1h-4zM486.1 523.9h1v5.1h-1zM492.1 523.9h1v5.1h-1zM508.1 523.9h5v5.1h-5zM519.1 523.9h1v5.1h-1zM522.1 523.9h5v5.1h-5zM528.1 523.9h6v5.1h-6zM544.1 523.9h1v5.1h-1zM546.1 523.9h2v5.1h-2zM559.1 523.9h3v5.1h-3zM563.1 523.9h1v5.1h-1zM572.1 523.9h1v5.1h-1zM579.1 523.9h2v5.1h-2zM582.1 523.9h5v5.1h-5zM593.1 523.9h1v5.1h-1zM603.1 523.9h2v5.1h-2zM608.1 523.9h2v5.1h-2zM611.1 523.9h2v5.1h-2zM616.1 523.9h1v5.1h-1zM621.1 523.9h1v5.1h-1zM627.1 523.9h1v5.1h-1z"/><path fill="#a3988f" d="M376.1 523.9h1v5.1h-1zM381.1 523.9h1v5.1h-1zM387.1 523.9h5v5.1h-5zM411.1 523.9h2v5.1h-2zM418.1 523.9h1v5.1h-1zM430.1 523.9h2v5.1h-2zM437.1 523.9h1v5.1h-1zM447.1 523.9h2v5.1h-2zM469.1 523.9h1v5.1h-1zM481.1 523.9h1v5.1h-1zM483.1 523.9h3v5.1h-3zM500.1 523.9h3v5.1h-3zM527.1 523.9h1v5.1h-1zM534.1 523.9h5v5.1h-5zM554.1 523.9h5v5.1h-5zM573.1 523.9h3v5.1h-3z"/><path fill="#7f9fa8" d="M360.1 529.9h3v5h-3zM368.1 529.9h3v5h-3zM404.1 529.9h1v5h-1zM431.1 529.9h1v5h-1zM449.1 529.9h1v5h-1zM485.1 529.9h2v5h-2zM491.1 529.9h2v5h-2zM494.1 529.9h1v5h-1zM517.1 529.9h1v5h-1zM560.1 529.9h2v5h-2zM566.1 529.9h3v5h-3zM576.1 529.9h4v5h-4z"/><path fill="#3C5488" d="M363.1 529.9h4v5h-4zM375.1 529.9h2v5h-2zM380.1 529.9h1v5h-1zM384.1 529.9h1v5h-1zM408.1 529.9h1v5h-1zM442.1 529.9h7v5h-7zM456.1 529.9h1v5h-1zM500.1 529.9h2v5h-2zM509.1 529.9h1v5h-1zM523.1 529.9h6v5h-6zM534.1 529.9h2v5h-2zM537.1 529.9h3v5h-3zM547.1 529.9h1v5h-1zM551.1 529.9h2v5h-2zM612.1 529.9h2v5h-2zM619.1 529.9h1v5h-1z"/><path fill="#F39B7F" d="M367.1 529.9h1v5h-1zM403.1 529.9h1v5h-1zM410.1 529.9h1v5h-1zM424.1 529.9h1v5h-1zM479.1 529.9h2v5h-2zM515.1 529.9h1v5h-1zM518.1 529.9h1v5h-1zM533.1 529.9h1v5h-1zM555.1 529.9h5v5h-5zM575.1 529.9h1v5h-1zM614.1 529.9h1v5h-1zM620.1 529.9h1v5h-1z"/><path fill="#E64B35" d="M371.1 529.9h3v5h-3zM437.1 529.9h3v5h-3zM461.1 529.9h1v5h-1zM475.1 529.9h1v5h-1zM542.1 529.9h5v5h-5zM583.1 529.9h1v5h-1z"/><path fill="#00A087" d="M374.1 529.9h1v5h-1zM378.1 529.9h2v5h-2zM425.1 529.9h3v5h-3zM462.1 529.9h1v5h-1zM510.1 529.9h5v5h-5zM519.1 529.9h3v5h-3zM536.1 529.9h1v5h-1zM540.1 529.9h1v5h-1zM553.1 529.9h2v5h-2zM606.1 529.9h1v5h-1zM624.1 529.9h1v5h-1z"/><path fill="#4DBBD5" d="M377.1 529.9h1v5h-1zM387.1 529.9h3v5h-3zM397.1 529.9h5v5h-5zM405.1 529.9h3v5h-3zM409.1 529.9h1v5h-1zM414.1 529.9h1v5h-1zM419.1 529.9h1v5h-1zM428.1 529.9h3v5h-3zM453.1 529.9h1v5h-1zM457.1 529.9h1v5h-1zM463.1 529.9h2v5h-2zM473.1 529.9h2v5h-2zM481.1 529.9h2v5h-2zM490.1 529.9h1v5h-1zM493.1 529.9h1v5h-1zM495.1 529.9h3v5h-3zM502.1 529.9h1v5h-1zM507.1 529.9h2v5h-2zM516.1 529.9h1v5h-1zM529.1 529.9h1v5h-1zM548.1 529.9h3v5h-3zM562.1 529.9h1v5h-1zM573.1 529.9h2v5h-2zM580.1 529.9h3v5h-3zM589.1 529.9h17v5h-17zM609.1 529.9h1v5h-1zM611.1 529.9h1v5h-1zM615.1 529.9h1v5h-1zM617.1 529.9h1v5h-1zM622.1 529.9h2v5h-2zM625.1 529.9h3v5h-3z"/><path fill="#8491B4" d="M381.1 529.9h3v5h-3zM386.1 529.9h1v5h-1zM503.1 529.9h4v5h-4zM563.1 529.9h3v5h-3zM570.1 529.9h3v5h-3zM618.1 529.9h1v5h-1z"/><path fill="#B09C85" d="M385.1 529.9h1v5h-1zM417.1 529.9h1v5h-1zM420.1 529.9h4v5h-4zM458.1 529.9h3v5h-3zM466.1 529.9h2v5h-2zM488.1 529.9h1v5h-1zM522.1 529.9h1v5h-1zM530.1 529.9h2v5h-2zM607.1 529.9h2v5h-2zM616.1 529.9h1v5h-1zM621.1 529.9h1v5h-1z"/><path fill="#91D1C2" d="M390.1 529.9h1v5h-1zM396.1 529.9h1v5h-1zM411.1 529.9h3v5h-3zM432.1 529.9h5v5h-5zM450.1 529.9h3v5h-3zM476.1 529.9h3v5h-3zM487.1 529.9h1v5h-1zM498.1 529.9h2v5h-2zM610.1 529.9h1v5h-1z"/><path fill="#7E6148" d="M391.1 529.9h5v5h-5zM402.1 529.9h1v5h-1zM415.1 529.9h2v5h-2zM440.1 529.9h2v5h-2zM454.1 529.9h2v5h-2zM465.1 529.9h1v5h-1zM468.1 529.9h5v5h-5zM483.1 529.9h2v5h-2zM569.1 529.9h1v5h-1z"/><path fill="#DC0000" d="M418.1 529.9h1v5h-1zM489.1 529.9h1v5h-1zM532.1 529.9h1v5h-1zM541.1 529.9h1v5h-1zM584.1 529.9h5v5h-5z"/><rect x="360.1" y="536.1" width="119.2" height="5.1" fill="#e64b35"/><rect x="479.3" y="536.1" width="148.3" height="5.1" fill="#4dbbd5"/><text x="356.9" y="514.0" font-family='"Liberation Serif", serif' font-size="10" text-anchor="end" stroke="#000" stroke-width="0.25">OS</text><text x="356.6" y="530.3" font-family='"Liberation Serif", serif' font-size="10.5" text-anchor="end" stroke="#000" stroke-width="0.25">Sex</text><text x="356.9" y="542.3" font-family='"Liberation Serif", serif' font-size="11" text-anchor="end" stroke="#000" stroke-width="0.25" textLength="26.6" lengthAdjust="spacingAndGlyphs">Cluster</text><text x="630.1" y="524.5" font-family='"Liberation Serif", serif' font-size="10.5" stroke="#000" stroke-width="0.25" textLength="22.5" lengthAdjust="spacingAndGlyphs">Event</text><text x="630.1" y="536.3" font-family='"Liberation Serif", serif' font-size="10.5" stroke="#000" stroke-width="0.25" textLength="22.5" lengthAdjust="spacingAndGlyphs">Stage</text><path fill="#3c1428" d="M360.1 542h2v36.35h-2zM371.1 542h1v36.35h-1zM392.1 542h2v36.35h-2zM400.1 542h1v36.35h-1zM414.1 542h1v36.35h-1zM422.1 542h1v36.35h-1zM431.1 542h1v36.35h-1zM447.1 542h1v36.35h-1zM451.1 542h1v36.35h-1zM467.1 542h1v36.35h-1zM469.1 542h1v36.35h-1zM489.1 542h1v36.35h-1zM513.1 542h1v36.35h-1zM520.1 542h1v36.35h-1zM531.1 542h1v36.35h-1zM554.1 542h2v36.35h-2zM558.1 542h1v36.35h-1zM592.1 542h1v36.35h-1zM595.1 542h1v36.35h-1zM609.1 542h1v36.35h-1zM625.1 542h2v36.35h-2z"/><path fill="#141464" d="M362.1 542h1v36.35h-1zM367.1 542h1v36.35h-1zM387.1 542h2v36.35h-2zM390.1 542h1v36.35h-1zM428.1 542h1v36.35h-1zM430.1 542h1v36.35h-1zM454.1 542h1v36.35h-1zM559.1 542h2v36.35h-2zM580.1 542h2v36.35h-2zM606.1 542h2v36.35h-2zM610.1 542h1v36.35h-1zM619.1 542h1v36.35h-1zM627.1 542h1v36.35h-1z"/><path fill="#781428" d="M363.1 542h2v36.35h-2zM404.1 542h1v36.35h-1zM432.1 542h1v36.35h-1zM438.1 542h1v36.35h-1zM442.1 542h1v36.35h-1zM448.1 542h2v36.35h-2zM517.1 542h1v36.35h-1zM537.1 542h1v36.35h-1zM564.1 542h2v36.35h-2zM582.1 542h1v36.35h-1zM605.1 542h1v36.35h-1z"/><path fill="#14143c" d="M365.1 542h1v36.35h-1zM368.1 542h1v36.35h-1zM381.1 542h2v36.35h-2zM391.1 542h1v36.35h-1zM418.1 542h1v36.35h-1zM421.1 542h1v36.35h-1zM518.1 542h2v36.35h-2zM543.1 542h1v36.35h-1zM551.1 542h1v36.35h-1zM563.1 542h1v36.35h-1zM566.1 542h2v36.35h-2zM579.1 542h1v36.35h-1zM618.1 542h1v36.35h-1zM624.1 542h1v36.35h-1z"/><path fill="#641428" d="M366.1 542h1v36.35h-1zM374.1 542h2v36.35h-2zM394.1 542h2v36.35h-2zM402.1 542h1v36.35h-1zM437.1 542h1v36.35h-1zM466.1 542h1v36.35h-1zM480.1 542h1v36.35h-1zM498.1 542h2v36.35h-2zM504.1 542h2v36.35h-2zM516.1 542h1v36.35h-1zM526.1 542h3v36.35h-3zM541.1 542h1v36.35h-1zM546.1 542h1v36.35h-1zM584.1 542h1v36.35h-1zM608.1 542h1v36.35h-1zM617.1 542h1v36.35h-1z"/><path fill="#641450" d="M369.1 542h2v36.35h-2zM376.1 542h1v36.35h-1zM452.1 542h1v36.35h-1zM483.1 542h2v36.35h-2z"/><path fill="#501428" d="M372.1 542h2v36.35h-2zM383.1 542h1v36.35h-1zM386.1 542h1v36.35h-1zM439.1 542h2v36.35h-2zM450.1 542h1v36.35h-1zM458.1 542h1v36.35h-1zM461.1 542h1v36.35h-1zM476.1 542h2v36.35h-2zM481.1 542h2v36.35h-2zM495.1 542h3v36.35h-3zM552.1 542h2v36.35h-2zM570.1 542h1v36.35h-1zM575.1 542h3v36.35h-3zM593.1 542h1v36.35h-1zM620.1 542h1v36.35h-1z"/><path fill="#14148c" d="M377.1 542h1v36.35h-1zM405.1 542h3v36.35h-3zM410.1 542h1v36.35h-1zM425.1 542h1v36.35h-1zM441.1 542h1v36.35h-1zM455.1 542h1v36.35h-1zM464.1 542h1v36.35h-1zM514.1 542h1v36.35h-1zM532.1 542h2v36.35h-2zM591.1 542h1v36.35h-1zM613.1 542h2v36.35h-2z"/><path fill="#141478" d="M378.1 542h3v36.35h-3zM389.1 542h1v36.35h-1zM470.1 542h2v36.35h-2zM502.1 542h2v36.35h-2zM508.1 542h2v36.35h-2zM523.1 542h2v36.35h-2zM550.1 542h1v36.35h-1zM568.1 542h1v36.35h-1zM574.1 542h1v36.35h-1zM586.1 542h1v36.35h-1zM602.1 542h1v36.35h-1z"/><path fill="#281428" d="M384.1 542h2v36.35h-2zM443.1 542h1v36.35h-1zM472.1 542h4v36.35h-4zM490.1 542h2v36.35h-2zM529.1 542h1v36.35h-1zM578.1 542h1v36.35h-1zM587.1 542h1v36.35h-1zM603.1 542h2v36.35h-2zM615.1 542h2v36.35h-2z"/><path fill="#141450" d="M396.1 542h4v36.35h-4zM426.1 542h2v36.35h-2zM446.1 542h1v36.35h-1zM453.1 542h1v36.35h-1zM485.1 542h1v36.35h-1zM501.1 542h1v36.35h-1zM506.1 542h1v36.35h-1zM510.1 542h1v36.35h-1zM538.1 542h3v36.35h-3zM557.1 542h1v36.35h-1zM572.1 542h2v36.35h-2zM596.1 542h1v36.35h-1z"/><path fill="#501450" d="M401.1 542h1v36.35h-1zM522.1 542h1v36.35h-1zM547.1 542h2v36.35h-2z"/><path fill="#c81428" d="M403.1 542h1v36.35h-1zM462.1 542h2v36.35h-2zM478.1 542h2v36.35h-2zM511.1 542h1v36.35h-1zM589.1 542h2v36.35h-2zM597.1 542h1v36.35h-1z"/><path fill="#3c143c" d="M408.1 542h2v36.35h-2zM435.1 542h1v36.35h-1zM493.1 542h1v36.35h-1zM561.1 542h2v36.35h-2zM594.1 542h1v36.35h-1z"/><path fill="#141428" d="M411.1 542h2v36.35h-2zM415.1 542h2v36.35h-2zM419.1 542h2v36.35h-2zM423.1 542h2v36.35h-2zM436.1 542h1v36.35h-1zM488.1 542h1v36.35h-1zM600.1 542h1v36.35h-1z"/><path fill="#64143c" d="M413.1 542h1v36.35h-1zM542.1 542h1v36.35h-1zM583.1 542h1v36.35h-1z"/><path fill="#a01428" d="M417.1 542h1v36.35h-1zM515.1 542h1v36.35h-1zM535.1 542h2v36.35h-2zM598.1 542h1v36.35h-1zM622.1 542h2v36.35h-2z"/><path fill="#50143c" d="M429.1 542h1v36.35h-1zM445.1 542h1v36.35h-1zM585.1 542h1v36.35h-1zM601.1 542h1v36.35h-1z"/><path fill="#3c1450" d="M433.1 542h1v36.35h-1z"/><path fill="#1414b4" d="M434.1 542h1v36.35h-1zM556.1 542h1v36.35h-1z"/><path fill="#1414a0" d="M444.1 542h1v36.35h-1z"/><path fill="#1414c8" d="M456.1 542h1v36.35h-1zM492.1 542h1v36.35h-1zM500.1 542h1v36.35h-1zM549.1 542h1v36.35h-1z"/><path fill="#8c1428" d="M457.1 542h1v36.35h-1zM494.1 542h1v36.35h-1zM507.1 542h1v36.35h-1zM521.1 542h1v36.35h-1zM525.1 542h1v36.35h-1zM569.1 542h1v36.35h-1z"/><path fill="#501464" d="M459.1 542h2v36.35h-2z"/><path fill="#281450" d="M465.1 542h1v36.35h-1z"/><path fill="#78143c" d="M468.1 542h1v36.35h-1zM534.1 542h1v36.35h-1z"/><path fill="#781450" d="M486.1 542h1v36.35h-1z"/><path fill="#28143c" d="M487.1 542h1v36.35h-1zM530.1 542h1v36.35h-1zM544.1 542h2v36.35h-2zM599.1 542h1v36.35h-1z"/><path fill="#b41428" d="M512.1 542h1v36.35h-1z"/><path fill="#281464" d="M571.1 542h1v36.35h-1z"/><path fill="#281478" d="M588.1 542h1v36.35h-1z"/><path fill="#3c1464" d="M611.1 542h2v36.35h-2z"/><path fill="#781464" d="M621.1 542h1v36.35h-1z"/><text x="629.6" y="567.1" font-family='"Liberation Serif", serif' font-size="11.5" stroke="#000" stroke-width="0.25" textLength="40.5" lengthAdjust="spacingAndGlyphs">SLC11A2</text><path fill="#781428" d="M360.1 577.8h2v36.35h-2zM365.1 577.8h1v36.35h-1zM370.1 577.8h1v36.35h-1zM378.1 577.8h1v36.35h-1zM388.1 577.8h1v36.35h-1zM393.1 577.8h2v36.35h-2zM400.1 577.8h1v36.35h-1zM414.1 577.8h1v36.35h-1zM460.1 577.8h1v36.35h-1z"/><path fill="#a01428" d="M362.1 577.8h1v36.35h-1zM392.1 577.8h1v36.35h-1zM416.1 577.8h3v36.35h-3zM427.1 577.8h2v36.35h-2zM430.1 577.8h1v36.35h-1zM449.1 577.8h1v36.35h-1zM456.1 577.8h1v36.35h-1zM465.1 577.8h2v36.35h-2zM470.1 577.8h2v36.35h-2z"/><path fill="#14143c" d="M363.1 577.8h1v36.35h-1zM367.1 577.8h1v36.35h-1zM434.1 577.8h1v36.35h-1zM453.1 577.8h2v36.35h-2zM495.1 577.8h2v36.35h-2zM510.1 577.8h3v36.35h-3zM552.1 577.8h1v36.35h-1zM609.1 577.8h1v36.35h-1z"/><path fill="#8c1428" d="M364.1 577.8h1v36.35h-1zM368.1 577.8h2v36.35h-2zM374.1 577.8h1v36.35h-1zM386.1 577.8h2v36.35h-2zM397.1 577.8h1v36.35h-1zM419.1 577.8h1v36.35h-1zM423.1 577.8h1v36.35h-1zM426.1 577.8h1v36.35h-1zM431.1 577.8h1v36.35h-1zM477.1 577.8h1v36.35h-1z"/><path fill="#b41428" d="M366.1 577.8h1v36.35h-1zM395.1 577.8h1v36.35h-1zM442.1 577.8h2v36.35h-2zM467.1 577.8h1v36.35h-1z"/><path fill="#c81428" d="M371.1 577.8h3v36.35h-3zM375.1 577.8h3v36.35h-3zM382.1 577.8h3v36.35h-3zM390.1 577.8h1v36.35h-1zM398.1 577.8h1v36.35h-1zM409.1 577.8h2v36.35h-2zM435.1 577.8h7v36.35h-7zM447.1 577.8h1v36.35h-1zM476.1 577.8h1v36.35h-1z"/><path fill="#3c1428" d="M379.1 577.8h1v36.35h-1zM381.1 577.8h1v36.35h-1zM407.1 577.8h2v36.35h-2zM448.1 577.8h1v36.35h-1zM461.1 577.8h1v36.35h-1zM472.1 577.8h1v36.35h-1zM482.1 577.8h1v36.35h-1zM576.1 577.8h2v36.35h-2zM596.1 577.8h1v36.35h-1zM608.1 577.8h1v36.35h-1z"/><path fill="#501428" d="M380.1 577.8h1v36.35h-1zM389.1 577.8h1v36.35h-1zM399.1 577.8h1v36.35h-1zM401.1 577.8h4v36.35h-4zM424.1 577.8h1v36.35h-1zM429.1 577.8h1v36.35h-1zM432.1 577.8h2v36.35h-2zM446.1 577.8h1v36.35h-1zM451.1 577.8h2v36.35h-2zM458.1 577.8h2v36.35h-2zM473.1 577.8h1v36.35h-1z"/><path fill="#281428" d="M385.1 577.8h1v36.35h-1zM463.1 577.8h2v36.35h-2zM480.1 577.8h1v36.35h-1zM518.1 577.8h1v36.35h-1zM582.1 577.8h2v36.35h-2zM586.1 577.8h1v36.35h-1zM611.1 577.8h1v36.35h-1z"/><path fill="#641428" d="M391.1 577.8h1v36.35h-1zM396.1 577.8h1v36.35h-1zM405.1 577.8h2v36.35h-2zM411.1 577.8h1v36.35h-1zM415.1 577.8h1v36.35h-1zM425.1 577.8h1v36.35h-1zM462.1 577.8h1v36.35h-1zM474.1 577.8h2v36.35h-2zM478.1 577.8h1v36.35h-1zM504.1 577.8h2v36.35h-2z"/><path fill="#141428" d="M412.1 577.8h2v36.35h-2zM455.1 577.8h1v36.35h-1zM612.1 577.8h1v36.35h-1z"/><path fill="#141450" d="M420.1 577.8h1v36.35h-1zM493.1 577.8h2v36.35h-2zM501.1 577.8h2v36.35h-2zM519.1 577.8h2v36.35h-2zM545.1 577.8h1v36.35h-1zM578.1 577.8h1v36.35h-1zM587.1 577.8h1v36.35h-1zM605.1 577.8h2v36.35h-2z"/><path fill="#28143c" d="M421.1 577.8h2v36.35h-2z"/><path fill="#141464" d="M444.1 577.8h2v36.35h-2zM457.1 577.8h1v36.35h-1zM486.1 577.8h2v36.35h-2zM499.1 577.8h2v36.35h-2zM503.1 577.8h1v36.35h-1zM540.1 577.8h2v36.35h-2zM565.1 577.8h1v36.35h-1zM568.1 577.8h1v36.35h-1zM571.1 577.8h2v36.35h-2zM575.1 577.8h1v36.35h-1zM592.1 577.8h2v36.35h-2zM601.1 577.8h1v36.35h-1zM613.1 577.8h2v36.35h-2zM616.1 577.8h2v36.35h-2z"/><path fill="#3c143c" d="M450.1 577.8h1v36.35h-1zM468.1 577.8h2v36.35h-2zM549.1 577.8h1v36.35h-1z"/><path fill="#1414b4" d="M479.1 577.8h1v36.35h-1zM490.1 577.8h1v36.35h-1zM521.1 577.8h1v36.35h-1zM524.1 577.8h2v36.35h-2zM539.1 577.8h1v36.35h-1zM548.1 577.8h1v36.35h-1zM559.1 577.8h2v36.35h-2zM590.1 577.8h2v36.35h-2zM619.1 577.8h2v36.35h-2z"/><path fill="#1414c8" d="M481.1 577.8h1v36.35h-1zM492.1 577.8h1v36.35h-1zM497.1 577.8h1v36.35h-1zM506.1 577.8h3v36.35h-3zM528.1 577.8h1v36.35h-1zM532.1 577.8h1v36.35h-1zM537.1 577.8h2v36.35h-2zM544.1 577.8h1v36.35h-1zM546.1 577.8h1v36.35h-1zM550.1 577.8h2v36.35h-2zM562.1 577.8h3v36.35h-3zM567.1 577.8h1v36.35h-1zM573.1 577.8h2v36.35h-2zM584.1 577.8h1v36.35h-1zM588.1 577.8h2v36.35h-2zM599.1 577.8h2v36.35h-2zM607.1 577.8h1v36.35h-1zM610.1 577.8h1v36.35h-1zM622.1 577.8h3v36.35h-3zM626.1 577.8h1v36.35h-1z"/><path fill="#14148c" d="M483.1 577.8h3v36.35h-3zM489.1 577.8h1v36.35h-1zM509.1 577.8h1v36.35h-1zM513.1 577.8h4v36.35h-4zM526.1 577.8h2v36.35h-2zM529.1 577.8h3v36.35h-3zM534.1 577.8h3v36.35h-3zM542.1 577.8h2v36.35h-2zM547.1 577.8h1v36.35h-1zM553.1 577.8h1v36.35h-1zM581.1 577.8h1v36.35h-1zM585.1 577.8h1v36.35h-1zM598.1 577.8h1v36.35h-1z"/><path fill="#1414a0" d="M488.1 577.8h1v36.35h-1zM491.1 577.8h1v36.35h-1zM522.1 577.8h1v36.35h-1zM554.1 577.8h4v36.35h-4zM561.1 577.8h1v36.35h-1zM566.1 577.8h1v36.35h-1zM570.1 577.8h1v36.35h-1zM594.1 577.8h2v36.35h-2zM597.1 577.8h1v36.35h-1zM604.1 577.8h1v36.35h-1zM618.1 577.8h1v36.35h-1z"/><path fill="#141478" d="M498.1 577.8h1v36.35h-1zM533.1 577.8h1v36.35h-1zM569.1 577.8h1v36.35h-1zM579.1 577.8h2v36.35h-2zM602.1 577.8h2v36.35h-2zM615.1 577.8h1v36.35h-1zM627.1 577.8h1v36.35h-1z"/><path fill="#281450" d="M517.1 577.8h1v36.35h-1zM621.1 577.8h1v36.35h-1z"/><path fill="#3c1464" d="M523.1 577.8h1v36.35h-1z"/><path fill="#64143c" d="M558.1 577.8h1v36.35h-1z"/><path fill="#281478" d="M625.1 577.8h1v36.35h-1z"/><text x="629.6" y="602.8" font-family='"Liberation Serif", serif' font-size="11.5" stroke="#000" stroke-width="0.25" textLength="40.5" lengthAdjust="spacingAndGlyphs">SLC40A1</text><path fill="#141464" d="M360.1 613.5h1v36.35h-1zM374.1 613.5h2v36.35h-2zM398.1 613.5h3v36.35h-3zM407.1 613.5h2v36.35h-2zM416.1 613.5h1v36.35h-1zM425.1 613.5h2v36.35h-2zM431.1 613.5h1v36.35h-1zM437.1 613.5h3v36.35h-3zM458.1 613.5h1v36.35h-1zM477.1 613.5h1v36.35h-1zM546.1 613.5h1v36.35h-1z"/><path fill="#1414c8" d="M361.1 613.5h1v36.35h-1zM365.1 613.5h1v36.35h-1zM378.1 613.5h5v36.35h-5zM385.1 613.5h1v36.35h-1zM388.1 613.5h1v36.35h-1zM390.1 613.5h2v36.35h-2zM393.1 613.5h2v36.35h-2zM402.1 613.5h1v36.35h-1zM412.1 613.5h2v36.35h-2zM421.1 613.5h1v36.35h-1zM432.1 613.5h2v36.35h-2zM435.1 613.5h2v36.35h-2zM466.1 613.5h2v36.35h-2zM474.1 613.5h1v36.35h-1z"/><path fill="#1414b4" d="M362.1 613.5h1v36.35h-1zM406.1 613.5h1v36.35h-1zM417.1 613.5h1v36.35h-1zM419.1 613.5h1v36.35h-1zM440.1 613.5h2v36.35h-2zM448.1 613.5h1v36.35h-1zM453.1 613.5h5v36.35h-5zM461.1 613.5h2v36.35h-2zM468.1 613.5h2v36.35h-2z"/><path fill="#14148c" d="M363.1 613.5h1v36.35h-1zM366.1 613.5h2v36.35h-2zM369.1 613.5h4v36.35h-4zM389.1 613.5h1v36.35h-1zM396.1 613.5h1v36.35h-1zM403.1 613.5h2v36.35h-2zM409.1 613.5h2v36.35h-2zM420.1 613.5h1v36.35h-1zM422.1 613.5h1v36.35h-1zM424.1 613.5h1v36.35h-1zM442.1 613.5h2v36.35h-2zM476.1 613.5h1v36.35h-1z"/><path fill="#141478" d="M364.1 613.5h1v36.35h-1zM383.1 613.5h2v36.35h-2zM392.1 613.5h1v36.35h-1zM415.1 613.5h1v36.35h-1zM459.1 613.5h2v36.35h-2zM463.1 613.5h1v36.35h-1zM499.1 613.5h2v36.35h-2z"/><path fill="#141450" d="M368.1 613.5h1v36.35h-1zM386.1 613.5h2v36.35h-2zM414.1 613.5h1v36.35h-1zM429.1 613.5h2v36.35h-2zM447.1 613.5h1v36.35h-1zM450.1 613.5h1v36.35h-1zM610.1 613.5h1v36.35h-1z"/><path fill="#281478" d="M373.1 613.5h1v36.35h-1z"/><path fill="#14143c" d="M376.1 613.5h2v36.35h-2zM464.1 613.5h2v36.35h-2zM487.1 613.5h1v36.35h-1zM512.1 613.5h2v36.35h-2zM525.1 613.5h2v36.35h-2zM581.1 613.5h2v36.35h-2zM620.1 613.5h1v36.35h-1z"/><path fill="#1414a0" d="M395.1 613.5h1v36.35h-1zM397.1 613.5h1v36.35h-1zM401.1 613.5h1v36.35h-1zM405.1 613.5h1v36.35h-1zM411.1 613.5h1v36.35h-1zM418.1 613.5h1v36.35h-1zM423.1 613.5h1v36.35h-1zM427.1 613.5h2v36.35h-2zM434.1 613.5h1v36.35h-1zM444.1 613.5h3v36.35h-3zM449.1 613.5h1v36.35h-1zM451.1 613.5h2v36.35h-2zM470.1 613.5h4v36.35h-4zM475.1 613.5h1v36.35h-1zM603.1 613.5h1v36.35h-1z"/><path fill="#141428" d="M478.1 613.5h1v36.35h-1zM535.1 613.5h1v36.35h-1zM549.1 613.5h1v36.35h-1zM627.1 613.5h1v36.35h-1z"/><path fill="#3c1428" d="M479.1 613.5h1v36.35h-1zM483.1 613.5h2v36.35h-2zM498.1 613.5h1v36.35h-1zM532.1 613.5h1v36.35h-1zM542.1 613.5h2v36.35h-2zM556.1 613.5h1v36.35h-1zM576.1 613.5h2v36.35h-2zM611.1 613.5h1v36.35h-1zM614.1 613.5h2v36.35h-2zM625.1 613.5h1v36.35h-1z"/><path fill="#641428" d="M480.1 613.5h1v36.35h-1zM490.1 613.5h2v36.35h-2zM493.1 613.5h1v36.35h-1zM497.1 613.5h1v36.35h-1zM514.1 613.5h1v36.35h-1zM531.1 613.5h1v36.35h-1zM573.1 613.5h2v36.35h-2zM602.1 613.5h1v36.35h-1zM612.1 613.5h1v36.35h-1z"/><path fill="#501428" d="M481.1 613.5h2v36.35h-2zM501.1 613.5h1v36.35h-1zM505.1 613.5h1v36.35h-1zM509.1 613.5h1v36.35h-1zM511.1 613.5h1v36.35h-1zM522.1 613.5h1v36.35h-1zM538.1 613.5h1v36.35h-1zM541.1 613.5h1v36.35h-1zM580.1 613.5h1v36.35h-1zM583.1 613.5h4v36.35h-4zM589.1 613.5h2v36.35h-2zM600.1 613.5h2v36.35h-2zM624.1 613.5h1v36.35h-1z"/><path fill="#781428" d="M485.1 613.5h2v36.35h-2zM502.1 613.5h1v36.35h-1zM504.1 613.5h1v36.35h-1zM518.1 613.5h2v36.35h-2zM547.1 613.5h1v36.35h-1zM551.1 613.5h2v36.35h-2zM558.1 613.5h1v36.35h-1zM564.1 613.5h1v36.35h-1zM569.1 613.5h2v36.35h-2zM594.1 613.5h2v36.35h-2zM606.1 613.5h3v36.35h-3zM613.1 613.5h1v36.35h-1z"/><path fill="#b41428" d="M488.1 613.5h2v36.35h-2zM506.1 613.5h1v36.35h-1zM520.1 613.5h1v36.35h-1zM528.1 613.5h1v36.35h-1zM530.1 613.5h1v36.35h-1zM533.1 613.5h1v36.35h-1zM553.1 613.5h1v36.35h-1zM588.1 613.5h1v36.35h-1zM609.1 613.5h1v36.35h-1zM617.1 613.5h1v36.35h-1zM626.1 613.5h1v36.35h-1z"/><path fill="#8c1428" d="M492.1 613.5h1v36.35h-1zM510.1 613.5h1v36.35h-1zM515.1 613.5h3v36.35h-3zM527.1 613.5h1v36.35h-1zM554.1 613.5h2v36.35h-2zM568.1 613.5h1v36.35h-1zM572.1 613.5h1v36.35h-1zM578.1 613.5h2v36.35h-2zM618.1 613.5h2v36.35h-2zM622.1 613.5h2v36.35h-2z"/><path fill="#c81428" d="M494.1 613.5h3v36.35h-3zM503.1 613.5h1v36.35h-1zM523.1 613.5h2v36.35h-2zM534.1 613.5h1v36.35h-1zM539.1 613.5h2v36.35h-2zM557.1 613.5h1v36.35h-1zM561.1 613.5h2v36.35h-2zM565.1 613.5h1v36.35h-1zM575.1 613.5h1v36.35h-1zM591.1 613.5h3v36.35h-3zM616.1 613.5h1v36.35h-1z"/><path fill="#281428" d="M507.1 613.5h1v36.35h-1zM597.1 613.5h1v36.35h-1zM621.1 613.5h1v36.35h-1z"/><path fill="#a01428" d="M508.1 613.5h1v36.35h-1zM521.1 613.5h1v36.35h-1zM529.1 613.5h1v36.35h-1zM536.1 613.5h2v36.35h-2zM548.1 613.5h1v36.35h-1zM550.1 613.5h1v36.35h-1zM559.1 613.5h2v36.35h-2zM563.1 613.5h1v36.35h-1zM566.1 613.5h2v36.35h-2zM571.1 613.5h1v36.35h-1zM587.1 613.5h1v36.35h-1zM599.1 613.5h1v36.35h-1zM604.1 613.5h2v36.35h-2z"/><path fill="#64143c" d="M544.1 613.5h2v36.35h-2zM598.1 613.5h1v36.35h-1z"/><path fill="#3c143c" d="M596.1 613.5h1v36.35h-1z"/><text x="629.6" y="638.6" font-family='"Liberation Serif", serif' font-size="11.5" stroke="#000" stroke-width="0.25" textLength="40.5" lengthAdjust="spacingAndGlyphs">SLC7A11</text><path fill="#1414a0" d="M360.1 649.2h1v36.35h-1zM368.1 649.2h1v36.35h-1zM378.1 649.2h1v36.35h-1zM397.1 649.2h1v36.35h-1zM406.1 649.2h1v36.35h-1zM412.1 649.2h2v36.35h-2zM425.1 649.2h1v36.35h-1zM464.1 649.2h1v36.35h-1zM467.1 649.2h1v36.35h-1zM497.1 649.2h1v36.35h-1z"/><path fill="#14143c" d="M361.1 649.2h1v36.35h-1zM392.1 649.2h2v36.35h-2zM398.1 649.2h2v36.35h-2zM449.1 649.2h1v36.35h-1zM453.1 649.2h1v36.35h-1zM469.1 649.2h1v36.35h-1zM488.1 649.2h1v36.35h-1zM499.1 649.2h2v36.35h-2zM526.1 649.2h1v36.35h-1zM580.1 649.2h1v36.35h-1zM610.1 649.2h1v36.35h-1zM613.1 649.2h2v36.35h-2zM621.1 649.2h1v36.35h-1z"/><path fill="#14148c" d="M362.1 649.2h1v36.35h-1zM366.1 649.2h1v36.35h-1zM372.1 649.2h2v36.35h-2zM377.1 649.2h1v36.35h-1zM379.1 649.2h1v36.35h-1zM385.1 649.2h1v36.35h-1zM387.1 649.2h1v36.35h-1zM394.1 649.2h1v36.35h-1zM415.1 649.2h2v36.35h-2zM444.1 649.2h2v36.35h-2zM447.1 649.2h1v36.35h-1zM466.1 649.2h1v36.35h-1zM474.1 649.2h1v36.35h-1zM532.1 649.2h1v36.35h-1zM536.1 649.2h1v36.35h-1z"/><path fill="#141478" d="M363.1 649.2h1v36.35h-1zM388.1 649.2h2v36.35h-2zM414.1 649.2h1v36.35h-1zM418.1 649.2h1v36.35h-1zM436.1 649.2h2v36.35h-2zM454.1 649.2h1v36.35h-1zM465.1 649.2h1v36.35h-1zM471.1 649.2h2v36.35h-2zM529.1 649.2h1v36.35h-1zM550.1 649.2h2v36.35h-2zM554.1 649.2h1v36.35h-1zM577.1 649.2h2v36.35h-2z"/><path fill="#281428" d="M364.1 649.2h2v36.35h-2zM369.1 649.2h1v36.35h-1zM480.1 649.2h1v36.35h-1zM495.1 649.2h1v36.35h-1zM502.1 649.2h1v36.35h-1zM523.1 649.2h1v36.35h-1zM534.1 649.2h2v36.35h-2zM600.1 649.2h1v36.35h-1zM615.1 649.2h1v36.35h-1zM627.1 649.2h1v36.35h-1z"/><path fill="#501428" d="M367.1 649.2h1v36.35h-1zM411.1 649.2h1v36.35h-1zM452.1 649.2h1v36.35h-1zM455.1 649.2h1v36.35h-1zM508.1 649.2h2v36.35h-2zM524.1 649.2h2v36.35h-2zM541.1 649.2h1v36.35h-1zM555.1 649.2h2v36.35h-2zM560.1 649.2h1v36.35h-1zM589.1 649.2h1v36.35h-1z"/><path fill="#141450" d="M370.1 649.2h1v36.35h-1zM374.1 649.2h2v36.35h-2zM381.1 649.2h1v36.35h-1zM390.1 649.2h2v36.35h-2zM400.1 649.2h1v36.35h-1zM405.1 649.2h1v36.35h-1zM428.1 649.2h1v36.35h-1zM450.1 649.2h1v36.35h-1zM494.1 649.2h1v36.35h-1zM510.1 649.2h1v36.35h-1zM528.1 649.2h1v36.35h-1zM552.1 649.2h1v36.35h-1zM559.1 649.2h1v36.35h-1zM571.1 649.2h2v36.35h-2zM581.1 649.2h1v36.35h-1zM607.1 649.2h1v36.35h-1zM611.1 649.2h1v36.35h-1zM618.1 649.2h1v36.35h-1z"/><path fill="#28143c" d="M371.1 649.2h1v36.35h-1zM463.1 649.2h1v36.35h-1z"/><path fill="#141464" d="M376.1 649.2h1v36.35h-1zM382.1 649.2h1v36.35h-1zM446.1 649.2h1v36.35h-1zM456.1 649.2h1v36.35h-1zM498.1 649.2h1v36.35h-1zM512.1 649.2h1v36.35h-1zM543.1 649.2h1v36.35h-1zM566.1 649.2h1v36.35h-1zM590.1 649.2h2v36.35h-2zM608.1 649.2h1v36.35h-1zM619.1 649.2h1v36.35h-1z"/><path fill="#141428" d="M380.1 649.2h1v36.35h-1zM396.1 649.2h1v36.35h-1zM434.1 649.2h2v36.35h-2zM477.1 649.2h1v36.35h-1zM514.1 649.2h1v36.35h-1zM516.1 649.2h2v36.35h-2zM569.1 649.2h1v36.35h-1zM575.1 649.2h1v36.35h-1zM592.1 649.2h1v36.35h-1zM596.1 649.2h1v36.35h-1zM623.1 649.2h2v36.35h-2z"/><path fill="#3c1478" d="M383.1 649.2h1v36.35h-1zM432.1 649.2h1v36.35h-1z"/><path fill="#1414c8" d="M384.1 649.2h1v36.35h-1zM403.1 649.2h2v36.35h-2zM407.1 649.2h4v36.35h-4zM419.1 649.2h5v36.35h-5zM429.1 649.2h2v36.35h-2zM433.1 649.2h1v36.35h-1zM439.1 649.2h5v36.35h-5zM461.1 649.2h2v36.35h-2zM468.1 649.2h1v36.35h-1zM475.1 649.2h2v36.35h-2zM478.1 649.2h1v36.35h-1zM533.1 649.2h1v36.35h-1z"/><path fill="#3c1464" d="M386.1 649.2h1v36.35h-1zM515.1 649.2h1v36.35h-1zM549.1 649.2h1v36.35h-1z"/><path fill="#281478" d="M395.1 649.2h1v36.35h-1zM438.1 649.2h1v36.35h-1z"/><path fill="#281464" d="M401.1 649.2h2v36.35h-2zM424.1 649.2h1v36.35h-1z"/><path fill="#1414b4" d="M417.1 649.2h1v36.35h-1zM431.1 649.2h1v36.35h-1zM448.1 649.2h1v36.35h-1zM451.1 649.2h1v36.35h-1zM457.1 649.2h1v36.35h-1zM460.1 649.2h1v36.35h-1zM470.1 649.2h1v36.35h-1zM473.1 649.2h1v36.35h-1zM601.1 649.2h2v36.35h-2z"/><path fill="#781428" d="M426.1 649.2h2v36.35h-2zM490.1 649.2h1v36.35h-1zM503.1 649.2h1v36.35h-1zM507.1 649.2h1v36.35h-1zM545.1 649.2h1v36.35h-1zM587.1 649.2h2v36.35h-2zM598.1 649.2h1v36.35h-1zM604.1 649.2h1v36.35h-1z"/><path fill="#281450" d="M458.1 649.2h1v36.35h-1zM481.1 649.2h1v36.35h-1zM511.1 649.2h1v36.35h-1z"/><path fill="#641428" d="M459.1 649.2h1v36.35h-1zM491.1 649.2h2v36.35h-2zM501.1 649.2h1v36.35h-1zM504.1 649.2h3v36.35h-3zM520.1 649.2h2v36.35h-2zM530.1 649.2h2v36.35h-2zM563.1 649.2h2v36.35h-2zM583.1 649.2h1v36.35h-1zM597.1 649.2h1v36.35h-1zM612.1 649.2h1v36.35h-1zM626.1 649.2h1v36.35h-1z"/><path fill="#a01428" d="M479.1 649.2h1v36.35h-1zM537.1 649.2h1v36.35h-1zM542.1 649.2h1v36.35h-1zM576.1 649.2h1v36.35h-1zM582.1 649.2h1v36.35h-1z"/><path fill="#c81428" d="M482.1 649.2h1v36.35h-1zM489.1 649.2h1v36.35h-1zM573.1 649.2h2v36.35h-2zM599.1 649.2h1v36.35h-1zM616.1 649.2h1v36.35h-1zM622.1 649.2h1v36.35h-1z"/><path fill="#3c1428" d="M483.1 649.2h2v36.35h-2zM546.1 649.2h1v36.35h-1zM548.1 649.2h1v36.35h-1zM553.1 649.2h1v36.35h-1zM593.1 649.2h1v36.35h-1zM617.1 649.2h1v36.35h-1zM625.1 649.2h1v36.35h-1z"/><path fill="#8c1428" d="M485.1 649.2h1v36.35h-1zM584.1 649.2h1v36.35h-1zM594.1 649.2h2v36.35h-2zM603.1 649.2h1v36.35h-1z"/><path fill="#b41428" d="M486.1 649.2h2v36.35h-2zM496.1 649.2h1v36.35h-1zM518.1 649.2h2v36.35h-2zM570.1 649.2h1v36.35h-1z"/><path fill="#3c143c" d="M493.1 649.2h1v36.35h-1zM538.1 649.2h3v36.35h-3zM565.1 649.2h1v36.35h-1z"/><path fill="#501450" d="M513.1 649.2h1v36.35h-1zM585.1 649.2h2v36.35h-2z"/><path fill="#78143c" d="M522.1 649.2h1v36.35h-1zM544.1 649.2h1v36.35h-1zM547.1 649.2h1v36.35h-1zM579.1 649.2h1v36.35h-1z"/><path fill="#781478" d="M527.1 649.2h1v36.35h-1z"/><path fill="#50143c" d="M557.1 649.2h2v36.35h-2zM605.1 649.2h1v36.35h-1zM609.1 649.2h1v36.35h-1z"/><path fill="#64143c" d="M561.1 649.2h2v36.35h-2zM606.1 649.2h1v36.35h-1z"/><path fill="#781464" d="M567.1 649.2h2v36.35h-2z"/><path fill="#781450" d="M620.1 649.2h1v36.35h-1z"/><text x="629.6" y="674.3" font-family='"Liberation Serif", serif' font-size="11.5" stroke="#000" stroke-width="0.25" textLength="34.7" lengthAdjust="spacingAndGlyphs">SLC3A2</text><path fill="#3c1428" d="M360.1 685h1v36.35h-1zM367.1 685h1v36.35h-1zM413.1 685h1v36.35h-1zM417.1 685h1v36.35h-1zM422.1 685h1v36.35h-1zM427.1 685h1v36.35h-1zM446.1 685h1v36.35h-1zM503.1 685h1v36.35h-1zM513.1 685h2v36.35h-2zM520.1 685h2v36.35h-2zM524.1 685h1v36.35h-1zM533.1 685h1v36.35h-1zM547.1 685h1v36.35h-1zM562.1 685h1v36.35h-1zM575.1 685h2v36.35h-2zM586.1 685h1v36.35h-1zM588.1 685h2v36.35h-2zM591.1 685h2v36.35h-2zM619.1 685h2v36.35h-2zM623.1 685h1v36.35h-1z"/><path fill="#281428" d="M361.1 685h2v36.35h-2zM430.1 685h1v36.35h-1zM444.1 685h1v36.35h-1zM474.1 685h1v36.35h-1zM510.1 685h1v36.35h-1zM553.1 685h1v36.35h-1zM560.1 685h1v36.35h-1zM564.1 685h1v36.35h-1zM584.1 685h1v36.35h-1zM626.1 685h1v36.35h-1z"/><path fill="#141464" d="M363.1 685h1v36.35h-1zM398.1 685h1v36.35h-1zM421.1 685h1v36.35h-1zM452.1 685h4v36.35h-4zM464.1 685h1v36.35h-1zM506.1 685h1v36.35h-1zM529.1 685h1v36.35h-1zM546.1 685h1v36.35h-1zM580.1 685h1v36.35h-1z"/><path fill="#141450" d="M364.1 685h2v36.35h-2zM405.1 685h1v36.35h-1zM408.1 685h2v36.35h-2zM425.1 685h1v36.35h-1zM450.1 685h1v36.35h-1zM457.1 685h1v36.35h-1zM485.1 685h1v36.35h-1zM493.1 685h4v36.35h-4zM530.1 685h1v36.35h-1zM532.1 685h1v36.35h-1zM534.1 685h1v36.35h-1zM544.1 685h1v36.35h-1zM558.1 685h1v36.35h-1zM601.1 685h1v36.35h-1zM604.1 685h1v36.35h-1zM621.1 685h1v36.35h-1z"/><path fill="#8c1428" d="M366.1 685h1v36.35h-1zM384.1 685h1v36.35h-1zM523.1 685h1v36.35h-1zM570.1 685h1v36.35h-1zM574.1 685h1v36.35h-1z"/><path fill="#14143c" d="M368.1 685h2v36.35h-2zM377.1 685h3v36.35h-3zM396.1 685h1v36.35h-1zM412.1 685h1v36.35h-1zM414.1 685h1v36.35h-1zM418.1 685h3v36.35h-3zM437.1 685h1v36.35h-1zM440.1 685h1v36.35h-1zM445.1 685h1v36.35h-1zM449.1 685h1v36.35h-1zM451.1 685h1v36.35h-1zM460.1 685h3v36.35h-3zM476.1 685h1v36.35h-1zM491.1 685h2v36.35h-2zM552.1 685h1v36.35h-1zM606.1 685h3v36.35h-3zM616.1 685h1v36.35h-1z"/><path fill="#641428" d="M370.1 685h2v36.35h-2zM373.1 685h1v36.35h-1zM385.1 685h1v36.35h-1zM423.1 685h1v36.35h-1zM458.1 685h2v36.35h-2zM483.1 685h1v36.35h-1zM504.1 685h1v36.35h-1zM522.1 685h1v36.35h-1zM548.1 685h2v36.35h-2zM551.1 685h1v36.35h-1zM583.1 685h1v36.35h-1zM593.1 685h1v36.35h-1zM602.1 685h1v36.35h-1z"/><path fill="#501428" d="M372.1 685h1v36.35h-1zM406.1 685h2v36.35h-2zM443.1 685h1v36.35h-1zM486.1 685h1v36.35h-1zM500.1 685h3v36.35h-3zM507.1 685h1v36.35h-1zM518.1 685h2v36.35h-2zM543.1 685h1v36.35h-1zM567.1 685h1v36.35h-1zM579.1 685h1v36.35h-1zM587.1 685h1v36.35h-1zM597.1 685h1v36.35h-1zM600.1 685h1v36.35h-1zM603.1 685h1v36.35h-1zM617.1 685h2v36.35h-2z"/><path fill="#14148c" d="M374.1 685h1v36.35h-1zM394.1 685h1v36.35h-1zM399.1 685h2v36.35h-2zM438.1 685h1v36.35h-1zM447.1 685h1v36.35h-1zM556.1 685h1v36.35h-1zM569.1 685h1v36.35h-1z"/><path fill="#1414b4" d="M375.1 685h1v36.35h-1zM389.1 685h1v36.35h-1zM410.1 685h1v36.35h-1zM435.1 685h1v36.35h-1zM470.1 685h1v36.35h-1z"/><path fill="#781428" d="M376.1 685h1v36.35h-1zM388.1 685h1v36.35h-1zM433.1 685h1v36.35h-1zM448.1 685h1v36.35h-1zM509.1 685h1v36.35h-1zM515.1 685h1v36.35h-1zM527.1 685h2v36.35h-2zM540.1 685h1v36.35h-1zM550.1 685h1v36.35h-1zM557.1 685h1v36.35h-1zM568.1 685h1v36.35h-1zM595.1 685h2v36.35h-2zM605.1 685h1v36.35h-1z"/><path fill="#b41428" d="M380.1 685h1v36.35h-1zM415.1 685h1v36.35h-1zM505.1 685h1v36.35h-1zM537.1 685h1v36.35h-1zM561.1 685h1v36.35h-1z"/><path fill="#501464" d="M381.1 685h1v36.35h-1zM416.1 685h1v36.35h-1zM508.1 685h1v36.35h-1zM541.1 685h2v36.35h-2z"/><path fill="#141428" d="M382.1 685h2v36.35h-2zM390.1 685h2v36.35h-2zM397.1 685h1v36.35h-1zM431.1 685h2v36.35h-2zM456.1 685h1v36.35h-1zM577.1 685h2v36.35h-2zM598.1 685h2v36.35h-2zM614.1 685h2v36.35h-2z"/><path fill="#141478" d="M386.1 685h2v36.35h-2zM395.1 685h1v36.35h-1zM411.1 685h1v36.35h-1zM428.1 685h1v36.35h-1zM436.1 685h1v36.35h-1zM439.1 685h1v36.35h-1zM441.1 685h2v36.35h-2zM465.1 685h2v36.35h-2zM471.1 685h3v36.35h-3zM479.1 685h2v36.35h-2zM487.1 685h2v36.35h-2zM516.1 685h2v36.35h-2zM590.1 685h1v36.35h-1z"/><path fill="#3c1478" d="M392.1 685h2v36.35h-2zM434.1 685h1v36.35h-1z"/><path fill="#64143c" d="M401.1 685h1v36.35h-1zM403.1 685h2v36.35h-2z"/><path fill="#1414c8" d="M402.1 685h1v36.35h-1zM467.1 685h1v36.35h-1zM475.1 685h1v36.35h-1zM531.1 685h1v36.35h-1z"/><path fill="#28143c" d="M424.1 685h1v36.35h-1zM563.1 685h1v36.35h-1z"/><path fill="#281464" d="M426.1 685h1v36.35h-1zM468.1 685h1v36.35h-1z"/><path fill="#3c1450" d="M429.1 685h1v36.35h-1z"/><path fill="#1414a0" d="M463.1 685h1v36.35h-1zM469.1 685h1v36.35h-1zM478.1 685h1v36.35h-1zM571.1 685h1v36.35h-1zM609.1 685h1v36.35h-1z"/><path fill="#281450" d="M477.1 685h1v36.35h-1zM627.1 685h1v36.35h-1z"/><path fill="#c81428" d="M481.1 685h1v36.35h-1zM499.1 685h1v36.35h-1zM511.1 685h2v36.35h-2zM535.1 685h2v36.35h-2zM594.1 685h1v36.35h-1zM611.1 685h1v36.35h-1z"/><path fill="#a01428" d="M482.1 685h1v36.35h-1zM497.1 685h2v36.35h-2zM525.1 685h2v36.35h-2zM554.1 685h2v36.35h-2zM559.1 685h1v36.35h-1zM610.1 685h1v36.35h-1zM612.1 685h2v36.35h-2z"/><path fill="#3c1464" d="M484.1 685h1v36.35h-1z"/><path fill="#3c143c" d="M489.1 685h2v36.35h-2zM538.1 685h2v36.35h-2zM585.1 685h1v36.35h-1zM622.1 685h1v36.35h-1z"/><path fill="#641450" d="M545.1 685h1v36.35h-1zM572.1 685h2v36.35h-2z"/><path fill="#781464" d="M565.1 685h2v36.35h-2z"/><path fill="#50143c" d="M581.1 685h2v36.35h-2z"/><path fill="#781450" d="M624.1 685h2v36.35h-2z"/><text x="629.6" y="710.1" font-family='"Liberation Serif", serif' font-size="11.5" stroke="#000" stroke-width="0.25" textLength="40.5" lengthAdjust="spacingAndGlyphs">SLC38A1</text><path fill="#1414a0" d="M360.1 720.8h1v36.35h-1zM379.1 720.8h1v36.35h-1zM385.1 720.8h1v36.35h-1zM421.1 720.8h1v36.35h-1zM423.1 720.8h1v36.35h-1zM431.1 720.8h1v36.35h-1zM452.1 720.8h1v36.35h-1zM466.1 720.8h1v36.35h-1zM470.1 720.8h1v36.35h-1zM488.1 720.8h1v36.35h-1zM533.1 720.8h1v36.35h-1zM575.1 720.8h1v36.35h-1zM600.1 720.8h1v36.35h-1z"/><path fill="#141450" d="M361.1 720.8h2v36.35h-2zM374.1 720.8h1v36.35h-1zM415.1 720.8h1v36.35h-1zM429.1 720.8h1v36.35h-1zM438.1 720.8h1v36.35h-1zM453.1 720.8h1v36.35h-1zM486.1 720.8h2v36.35h-2zM502.1 720.8h1v36.35h-1zM514.1 720.8h2v36.35h-2zM525.1 720.8h1v36.35h-1zM528.1 720.8h1v36.35h-1zM572.1 720.8h1v36.35h-1zM581.1 720.8h2v36.35h-2zM587.1 720.8h2v36.35h-2z"/><path fill="#3c1428" d="M363.1 720.8h1v36.35h-1zM382.1 720.8h1v36.35h-1zM422.1 720.8h1v36.35h-1zM458.1 720.8h2v36.35h-2zM462.1 720.8h2v36.35h-2zM472.1 720.8h1v36.35h-1zM479.1 720.8h2v36.35h-2zM493.1 720.8h1v36.35h-1zM495.1 720.8h2v36.35h-2zM504.1 720.8h4v36.35h-4zM579.1 720.8h1v36.35h-1zM594.1 720.8h2v36.35h-2zM602.1 720.8h1v36.35h-1zM622.1 720.8h1v36.35h-1z"/><path fill="#8c1428" d="M364.1 720.8h1v36.35h-1zM367.1 720.8h1v36.35h-1zM449.1 720.8h1v36.35h-1zM509.1 720.8h2v36.35h-2zM547.1 720.8h1v36.35h-1zM571.1 720.8h1v36.35h-1zM573.1 720.8h2v36.35h-2zM606.1 720.8h1v36.35h-1z"/><path fill="#781464" d="M365.1 720.8h2v36.35h-2z"/><path fill="#14148c" d="M368.1 720.8h2v36.35h-2zM384.1 720.8h1v36.35h-1zM398.1 720.8h1v36.35h-1zM407.1 720.8h1v36.35h-1zM416.1 720.8h1v36.35h-1zM428.1 720.8h1v36.35h-1zM450.1 720.8h1v36.35h-1zM467.1 720.8h1v36.35h-1zM593.1 720.8h1v36.35h-1z"/><path fill="#a01428" d="M370.1 720.8h1v36.35h-1zM524.1 720.8h1v36.35h-1zM531.1 720.8h1v36.35h-1zM542.1 720.8h2v36.35h-2zM605.1 720.8h1v36.35h-1zM611.1 720.8h2v36.35h-2zM620.1 720.8h1v36.35h-1z"/><path fill="#1414c8" d="M371.1 720.8h1v36.35h-1zM375.1 720.8h1v36.35h-1zM388.1 720.8h2v36.35h-2zM396.1 720.8h2v36.35h-2zM404.1 720.8h2v36.35h-2zM408.1 720.8h1v36.35h-1zM435.1 720.8h2v36.35h-2zM441.1 720.8h2v36.35h-2zM456.1 720.8h1v36.35h-1zM473.1 720.8h1v36.35h-1zM541.1 720.8h1v36.35h-1zM624.1 720.8h2v36.35h-2z"/><path fill="#141478" d="M372.1 720.8h2v36.35h-2zM377.1 720.8h2v36.35h-2zM380.1 720.8h2v36.35h-2zM392.1 720.8h2v36.35h-2zM400.1 720.8h1v36.35h-1zM409.1 720.8h2v36.35h-2zM425.1 720.8h1v36.35h-1zM430.1 720.8h1v36.35h-1zM437.1 720.8h1v36.35h-1zM499.1 720.8h2v36.35h-2zM552.1 720.8h2v36.35h-2zM558.1 720.8h1v36.35h-1zM604.1 720.8h1v36.35h-1z"/><path fill="#641464" d="M376.1 720.8h1v36.35h-1z"/><path fill="#141428" d="M383.1 720.8h1v36.35h-1zM386.1 720.8h1v36.35h-1zM417.1 720.8h1v36.35h-1zM420.1 720.8h1v36.35h-1zM440.1 720.8h1v36.35h-1zM527.1 720.8h1v36.35h-1zM548.1 720.8h2v36.35h-2zM565.1 720.8h2v36.35h-2zM592.1 720.8h1v36.35h-1zM601.1 720.8h1v36.35h-1z"/><path fill="#1414b4" d="M387.1 720.8h1v36.35h-1zM399.1 720.8h1v36.35h-1z"/><path fill="#c81428" d="M390.1 720.8h1v36.35h-1zM445.1 720.8h1v36.35h-1zM481.1 720.8h1v36.35h-1zM483.1 720.8h2v36.35h-2zM523.1 720.8h1v36.35h-1zM540.1 720.8h1v36.35h-1zM544.1 720.8h3v36.35h-3zM551.1 720.8h1v36.35h-1zM589.1 720.8h1v36.35h-1zM596.1 720.8h2v36.35h-2z"/><path fill="#3c1450" d="M391.1 720.8h1v36.35h-1zM394.1 720.8h1v36.35h-1zM532.1 720.8h1v36.35h-1z"/><path fill="#141464" d="M395.1 720.8h1v36.35h-1zM401.1 720.8h2v36.35h-2zM406.1 720.8h1v36.35h-1zM424.1 720.8h1v36.35h-1zM465.1 720.8h1v36.35h-1zM475.1 720.8h1v36.35h-1zM478.1 720.8h1v36.35h-1zM492.1 720.8h1v36.35h-1zM516.1 720.8h1v36.35h-1zM537.1 720.8h1v36.35h-1zM583.1 720.8h2v36.35h-2zM616.1 720.8h1v36.35h-1zM626.1 720.8h1v36.35h-1z"/><path fill="#281428" d="M403.1 720.8h1v36.35h-1zM413.1 720.8h2v36.35h-2zM419.1 720.8h1v36.35h-1zM427.1 720.8h1v36.35h-1zM443.1 720.8h2v36.35h-2zM447.1 720.8h2v36.35h-2zM490.1 720.8h2v36.35h-2zM526.1 720.8h1v36.35h-1zM567.1 720.8h1v36.35h-1zM598.1 720.8h1v36.35h-1zM603.1 720.8h1v36.35h-1zM617.1 720.8h1v36.35h-1z"/><path fill="#281478" d="M411.1 720.8h2v36.35h-2zM457.1 720.8h1v36.35h-1z"/><path fill="#281450" d="M418.1 720.8h1v36.35h-1zM615.1 720.8h1v36.35h-1z"/><path fill="#281464" d="M426.1 720.8h1v36.35h-1zM439.1 720.8h1v36.35h-1zM451.1 720.8h1v36.35h-1z"/><path fill="#3c1464" d="M432.1 720.8h1v36.35h-1z"/><path fill="#501478" d="M433.1 720.8h2v36.35h-2zM454.1 720.8h2v36.35h-2z"/><path fill="#14143c" d="M446.1 720.8h1v36.35h-1zM464.1 720.8h1v36.35h-1zM482.1 720.8h1v36.35h-1zM511.1 720.8h1v36.35h-1zM517.1 720.8h1v36.35h-1zM557.1 720.8h1v36.35h-1zM577.1 720.8h2v36.35h-2zM590.1 720.8h2v36.35h-2zM609.1 720.8h1v36.35h-1zM621.1 720.8h1v36.35h-1zM623.1 720.8h1v36.35h-1z"/><path fill="#3c1478" d="M460.1 720.8h1v36.35h-1z"/><path fill="#28143c" d="M461.1 720.8h1v36.35h-1zM503.1 720.8h1v36.35h-1zM521.1 720.8h2v36.35h-2zM586.1 720.8h1v36.35h-1z"/><path fill="#501428" d="M468.1 720.8h2v36.35h-2zM498.1 720.8h1v36.35h-1zM501.1 720.8h1v36.35h-1zM508.1 720.8h1v36.35h-1zM513.1 720.8h1v36.35h-1zM538.1 720.8h2v36.35h-2zM564.1 720.8h1v36.35h-1zM568.1 720.8h1v36.35h-1zM570.1 720.8h1v36.35h-1zM585.1 720.8h1v36.35h-1zM607.1 720.8h1v36.35h-1zM613.1 720.8h2v36.35h-2zM627.1 720.8h1v36.35h-1z"/><path fill="#b41428" d="M471.1 720.8h1v36.35h-1zM520.1 720.8h1v36.35h-1z"/><path fill="#641428" d="M474.1 720.8h1v36.35h-1zM489.1 720.8h1v36.35h-1zM512.1 720.8h1v36.35h-1zM535.1 720.8h2v36.35h-2zM550.1 720.8h1v36.35h-1zM562.1 720.8h2v36.35h-2zM569.1 720.8h1v36.35h-1zM576.1 720.8h1v36.35h-1zM608.1 720.8h1v36.35h-1zM610.1 720.8h1v36.35h-1zM618.1 720.8h2v36.35h-2z"/><path fill="#50143c" d="M476.1 720.8h1v36.35h-1zM497.1 720.8h1v36.35h-1zM560.1 720.8h2v36.35h-2z"/><path fill="#3c143c" d="M477.1 720.8h1v36.35h-1z"/><path fill="#501464" d="M485.1 720.8h1v36.35h-1z"/><path fill="#781428" d="M494.1 720.8h1v36.35h-1zM518.1 720.8h2v36.35h-2zM529.1 720.8h2v36.35h-2zM556.1 720.8h1v36.35h-1zM580.1 720.8h1v36.35h-1zM599.1 720.8h1v36.35h-1z"/><path fill="#501450" d="M534.1 720.8h1v36.35h-1z"/><path fill="#78143c" d="M554.1 720.8h2v36.35h-2z"/><path fill="#64143c" d="M559.1 720.8h1v36.35h-1z"/><text x="629.6" y="745.8" font-family='"Liberation Serif", serif' font-size="11.5" stroke="#000" stroke-width="0.25" textLength="46.2" lengthAdjust="spacingAndGlyphs">SLC39A14</text><path fill="#141478" d="M360.1 756.5h2v36.35h-2zM389.1 756.5h1v36.35h-1zM398.1 756.5h1v36.35h-1zM403.1 756.5h1v36.35h-1zM416.1 756.5h1v36.35h-1zM419.1 756.5h1v36.35h-1zM424.1 756.5h2v36.35h-2zM444.1 756.5h1v36.35h-1zM469.1 756.5h1v36.35h-1zM472.1 756.5h2v36.35h-2zM494.1 756.5h1v36.35h-1zM501.1 756.5h1v36.35h-1zM507.1 756.5h2v36.35h-2zM533.1 756.5h1v36.35h-1zM538.1 756.5h1v36.35h-1zM558.1 756.5h1v36.35h-1zM607.1 756.5h1v36.35h-1zM625.1 756.5h1v36.35h-1z"/><path fill="#1414a0" d="M362.1 756.5h1v36.35h-1zM391.1 756.5h1v36.35h-1zM426.1 756.5h1v36.35h-1zM434.1 756.5h1v36.35h-1zM460.1 756.5h2v36.35h-2zM464.1 756.5h1v36.35h-1zM510.1 756.5h1v36.35h-1zM519.1 756.5h1v36.35h-1zM523.1 756.5h1v36.35h-1zM544.1 756.5h2v36.35h-2zM599.1 756.5h1v36.35h-1z"/><path fill="#1414b4" d="M363.1 756.5h1v36.35h-1zM368.1 756.5h1v36.35h-1zM423.1 756.5h1v36.35h-1zM475.1 756.5h1v36.35h-1zM546.1 756.5h1v36.35h-1zM589.1 756.5h1v36.35h-1z"/><path fill="#141428" d="M364.1 756.5h1v36.35h-1zM404.1 756.5h1v36.35h-1zM414.1 756.5h2v36.35h-2zM435.1 756.5h1v36.35h-1zM441.1 756.5h1v36.35h-1zM483.1 756.5h1v36.35h-1zM509.1 756.5h1v36.35h-1zM524.1 756.5h1v36.35h-1zM561.1 756.5h1v36.35h-1zM577.1 756.5h1v36.35h-1zM581.1 756.5h1v36.35h-1zM596.1 756.5h1v36.35h-1zM606.1 756.5h1v36.35h-1zM613.1 756.5h2v36.35h-2z"/><path fill="#781464" d="M365.1 756.5h1v36.35h-1z"/><path fill="#1414c8" d="M366.1 756.5h1v36.35h-1zM409.1 756.5h2v36.35h-2zM462.1 756.5h2v36.35h-2zM479.1 756.5h1v36.35h-1zM553.1 756.5h1v36.35h-1zM563.1 756.5h2v36.35h-2zM615.1 756.5h2v36.35h-2z"/><path fill="#641428" d="M367.1 756.5h1v36.35h-1zM383.1 756.5h1v36.35h-1zM420.1 756.5h1v36.35h-1zM429.1 756.5h1v36.35h-1zM448.1 756.5h2v36.35h-2zM471.1 756.5h1v36.35h-1zM497.1 756.5h1v36.35h-1zM550.1 756.5h1v36.35h-1zM554.1 756.5h1v36.35h-1zM608.1 756.5h1v36.35h-1z"/><path fill="#14148c" d="M369.1 756.5h2v36.35h-2zM373.1 756.5h1v36.35h-1zM380.1 756.5h1v36.35h-1zM401.1 756.5h1v36.35h-1zM405.1 756.5h1v36.35h-1zM432.1 756.5h2v36.35h-2zM480.1 756.5h1v36.35h-1zM485.1 756.5h1v36.35h-1zM521.1 756.5h2v36.35h-2zM525.1 756.5h2v36.35h-2zM536.1 756.5h2v36.35h-2zM575.1 756.5h1v36.35h-1zM583.1 756.5h1v36.35h-1z"/><path fill="#8c1428" d="M371.1 756.5h2v36.35h-2zM384.1 756.5h1v36.35h-1zM402.1 756.5h1v36.35h-1zM439.1 756.5h1v36.35h-1zM505.1 756.5h2v36.35h-2zM602.1 756.5h1v36.35h-1z"/><path fill="#281478" d="M374.1 756.5h1v36.35h-1z"/><path fill="#3c1428" d="M375.1 756.5h1v36.35h-1zM385.1 756.5h1v36.35h-1zM417.1 756.5h2v36.35h-2zM443.1 756.5h1v36.35h-1zM465.1 756.5h2v36.35h-2zM562.1 756.5h1v36.35h-1zM573.1 756.5h1v36.35h-1zM587.1 756.5h1v36.35h-1zM603.1 756.5h2v36.35h-2zM609.1 756.5h2v36.35h-2zM626.1 756.5h1v36.35h-1z"/><path fill="#14143c" d="M376.1 756.5h1v36.35h-1zM393.1 756.5h1v36.35h-1zM395.1 756.5h1v36.35h-1zM451.1 756.5h1v36.35h-1zM457.1 756.5h2v36.35h-2zM467.1 756.5h2v36.35h-2zM492.1 756.5h1v36.35h-1zM518.1 756.5h1v36.35h-1zM531.1 756.5h1v36.35h-1zM539.1 756.5h2v36.35h-2zM552.1 756.5h1v36.35h-1zM572.1 756.5h1v36.35h-1zM600.1 756.5h1v36.35h-1zM621.1 756.5h1v36.35h-1zM624.1 756.5h1v36.35h-1z"/><path fill="#141464" d="M377.1 756.5h1v36.35h-1zM394.1 756.5h1v36.35h-1zM411.1 756.5h3v36.35h-3zM428.1 756.5h1v36.35h-1zM430.1 756.5h2v36.35h-2zM436.1 756.5h1v36.35h-1zM440.1 756.5h1v36.35h-1zM446.1 756.5h1v36.35h-1zM450.1 756.5h1v36.35h-1zM459.1 756.5h1v36.35h-1zM486.1 756.5h5v36.35h-5zM495.1 756.5h1v36.35h-1zM511.1 756.5h3v36.35h-3zM527.1 756.5h1v36.35h-1zM565.1 756.5h2v36.35h-2zM569.1 756.5h2v36.35h-2zM588.1 756.5h1v36.35h-1zM597.1 756.5h2v36.35h-2z"/><path fill="#50143c" d="M378.1 756.5h2v36.35h-2zM529.1 756.5h1v36.35h-1z"/><path fill="#141450" d="M381.1 756.5h1v36.35h-1zM399.1 756.5h2v36.35h-2zM406.1 756.5h3v36.35h-3zM421.1 756.5h2v36.35h-2zM442.1 756.5h1v36.35h-1zM445.1 756.5h1v36.35h-1zM452.1 756.5h1v36.35h-1zM482.1 756.5h1v36.35h-1zM491.1 756.5h1v36.35h-1zM516.1 756.5h2v36.35h-2zM530.1 756.5h1v36.35h-1zM534.1 756.5h1v36.35h-1zM555.1 756.5h1v36.35h-1zM574.1 756.5h1v36.35h-1zM576.1 756.5h1v36.35h-1zM578.1 756.5h1v36.35h-1zM584.1 756.5h2v36.35h-2z"/><path fill="#281428" d="M382.1 756.5h1v36.35h-1zM386.1 756.5h2v36.35h-2zM392.1 756.5h1v36.35h-1zM476.1 756.5h2v36.35h-2zM484.1 756.5h1v36.35h-1zM504.1 756.5h1v36.35h-1zM548.1 756.5h2v36.35h-2zM551.1 756.5h1v36.35h-1zM560.1 756.5h1v36.35h-1zM591.1 756.5h2v36.35h-2z"/><path fill="#781428" d="M388.1 756.5h1v36.35h-1zM474.1 756.5h1v36.35h-1zM478.1 756.5h1v36.35h-1zM498.1 756.5h1v36.35h-1zM556.1 756.5h2v36.35h-2zM619.1 756.5h2v36.35h-2zM627.1 756.5h1v36.35h-1z"/><path fill="#78143c" d="M390.1 756.5h1v36.35h-1z"/><path fill="#3c1464" d="M396.1 756.5h1v36.35h-1zM532.1 756.5h1v36.35h-1z"/><path fill="#501428" d="M397.1 756.5h1v36.35h-1zM447.1 756.5h1v36.35h-1zM470.1 756.5h1v36.35h-1zM515.1 756.5h1v36.35h-1zM520.1 756.5h1v36.35h-1zM543.1 756.5h1v36.35h-1zM567.1 756.5h2v36.35h-2zM580.1 756.5h1v36.35h-1zM595.1 756.5h1v36.35h-1zM605.1 756.5h1v36.35h-1zM611.1 756.5h2v36.35h-2z"/><path fill="#28143c" d="M427.1 756.5h1v36.35h-1zM496.1 756.5h1v36.35h-1zM618.1 756.5h1v36.35h-1z"/><path fill="#281450" d="M437.1 756.5h2v36.35h-2z"/><path fill="#3c143c" d="M453.1 756.5h2v36.35h-2zM493.1 756.5h1v36.35h-1zM528.1 756.5h1v36.35h-1zM579.1 756.5h1v36.35h-1zM601.1 756.5h1v36.35h-1z"/><path fill="#641478" d="M455.1 756.5h2v36.35h-2z"/><path fill="#501450" d="M481.1 756.5h1v36.35h-1zM502.1 756.5h2v36.35h-2z"/><path fill="#a01428" d="M499.1 756.5h2v36.35h-2zM514.1 756.5h1v36.35h-1zM593.1 756.5h2v36.35h-2z"/><path fill="#3c1478" d="M535.1 756.5h1v36.35h-1z"/><path fill="#3c1450" d="M541.1 756.5h2v36.35h-2z"/><path fill="#281464" d="M547.1 756.5h1v36.35h-1zM571.1 756.5h1v36.35h-1z"/><path fill="#c81428" d="M559.1 756.5h1v36.35h-1zM590.1 756.5h1v36.35h-1zM617.1 756.5h1v36.35h-1z"/><path fill="#501478" d="M582.1 756.5h1v36.35h-1z"/><path fill="#781478" d="M586.1 756.5h1v36.35h-1z"/><path fill="#b41428" d="M622.1 756.5h2v36.35h-2z"/><text x="629.6" y="781.6" font-family='"Liberation Serif", serif' font-size="11.5" stroke="#000" stroke-width="0.25" textLength="40.5" lengthAdjust="spacingAndGlyphs">SLC16A1</text><path fill="#641428" d="M360.1 792.2h1v36.35h-1zM370.1 792.2h1v36.35h-1zM402.1 792.2h2v36.35h-2zM412.1 792.2h1v36.35h-1zM533.1 792.2h2v36.35h-2zM589.1 792.2h1v36.35h-1zM618.1 792.2h1v36.35h-1zM627.1 792.2h1v36.35h-1z"/><path fill="#c81428" d="M361.1 792.2h2v36.35h-2zM424.1 792.2h2v36.35h-2zM431.1 792.2h1v36.35h-1zM449.1 792.2h2v36.35h-2zM459.1 792.2h2v36.35h-2zM490.1 792.2h1v36.35h-1zM498.1 792.2h1v36.35h-1zM523.1 792.2h1v36.35h-1zM525.1 792.2h1v36.35h-1zM555.1 792.2h2v36.35h-2zM580.1 792.2h2v36.35h-2zM626.1 792.2h1v36.35h-1z"/><path fill="#8c1428" d="M363.1 792.2h1v36.35h-1zM382.1 792.2h1v36.35h-1zM384.1 792.2h2v36.35h-2zM398.1 792.2h1v36.35h-1zM434.1 792.2h1v36.35h-1zM436.1 792.2h2v36.35h-2zM462.1 792.2h2v36.35h-2zM480.1 792.2h1v36.35h-1zM501.1 792.2h1v36.35h-1zM519.1 792.2h2v36.35h-2zM538.1 792.2h1v36.35h-1zM569.1 792.2h1v36.35h-1zM576.1 792.2h3v36.35h-3zM586.1 792.2h1v36.35h-1zM606.1 792.2h1v36.35h-1zM624.1 792.2h1v36.35h-1z"/><path fill="#28143c" d="M364.1 792.2h1v36.35h-1zM366.1 792.2h1v36.35h-1zM453.1 792.2h1v36.35h-1zM464.1 792.2h1v36.35h-1zM541.1 792.2h2v36.35h-2zM610.1 792.2h1v36.35h-1z"/><path fill="#14148c" d="M365.1 792.2h1v36.35h-1zM386.1 792.2h2v36.35h-2zM400.1 792.2h1v36.35h-1zM521.1 792.2h1v36.35h-1zM554.1 792.2h1v36.35h-1zM558.1 792.2h4v36.35h-4zM583.1 792.2h1v36.35h-1zM596.1 792.2h1v36.35h-1zM600.1 792.2h2v36.35h-2zM625.1 792.2h1v36.35h-1z"/><path fill="#141428" d="M367.1 792.2h1v36.35h-1zM380.1 792.2h2v36.35h-2zM419.1 792.2h1v36.35h-1zM466.1 792.2h1v36.35h-1zM474.1 792.2h1v36.35h-1zM550.1 792.2h1v36.35h-1z"/><path fill="#1414b4" d="M368.1 792.2h1v36.35h-1zM451.1 792.2h1v36.35h-1zM478.1 792.2h1v36.35h-1zM548.1 792.2h1v36.35h-1zM571.1 792.2h2v36.35h-2z"/><path fill="#b41428" d="M369.1 792.2h1v36.35h-1zM418.1 792.2h1v36.35h-1zM486.1 792.2h2v36.35h-2zM494.1 792.2h2v36.35h-2zM522.1 792.2h1v36.35h-1zM595.1 792.2h1v36.35h-1z"/><path fill="#501428" d="M371.1 792.2h1v36.35h-1zM422.1 792.2h1v36.35h-1zM430.1 792.2h1v36.35h-1zM511.1 792.2h1v36.35h-1zM532.1 792.2h1v36.35h-1zM547.1 792.2h1v36.35h-1zM597.1 792.2h2v36.35h-2zM619.1 792.2h2v36.35h-2z"/><path fill="#50143c" d="M372.1 792.2h1v36.35h-1zM401.1 792.2h1v36.35h-1zM566.1 792.2h1v36.35h-1z"/><path fill="#281428" d="M373.1 792.2h1v36.35h-1zM423.1 792.2h1v36.35h-1zM502.1 792.2h1v36.35h-1zM582.1 792.2h1v36.35h-1zM584.1 792.2h2v36.35h-2zM588.1 792.2h1v36.35h-1zM621.1 792.2h1v36.35h-1z"/><path fill="#3c1428" d="M374.1 792.2h1v36.35h-1zM388.1 792.2h1v36.35h-1zM391.1 792.2h2v36.35h-2zM395.1 792.2h1v36.35h-1zM406.1 792.2h2v36.35h-2zM417.1 792.2h1v36.35h-1zM440.1 792.2h2v36.35h-2zM461.1 792.2h1v36.35h-1zM467.1 792.2h2v36.35h-2zM483.1 792.2h1v36.35h-1zM491.1 792.2h2v36.35h-2zM507.1 792.2h1v36.35h-1zM535.1 792.2h1v36.35h-1zM549.1 792.2h1v36.35h-1zM623.1 792.2h1v36.35h-1z"/><path fill="#141450" d="M375.1 792.2h1v36.35h-1zM393.1 792.2h2v36.35h-2zM399.1 792.2h1v36.35h-1zM405.1 792.2h1v36.35h-1zM409.1 792.2h2v36.35h-2zM420.1 792.2h1v36.35h-1zM438.1 792.2h1v36.35h-1zM452.1 792.2h1v36.35h-1zM454.1 792.2h1v36.35h-1zM465.1 792.2h1v36.35h-1zM473.1 792.2h1v36.35h-1zM475.1 792.2h1v36.35h-1zM497.1 792.2h1v36.35h-1zM529.1 792.2h1v36.35h-1zM540.1 792.2h1v36.35h-1zM543.1 792.2h2v36.35h-2zM551.1 792.2h1v36.35h-1zM565.1 792.2h1v36.35h-1zM617.1 792.2h1v36.35h-1z"/><path fill="#3c1478" d="M376.1 792.2h2v36.35h-2z"/><path fill="#501464" d="M378.1 792.2h2v36.35h-2zM567.1 792.2h2v36.35h-2z"/><path fill="#141464" d="M383.1 792.2h1v36.35h-1zM455.1 792.2h1v36.35h-1zM458.1 792.2h1v36.35h-1zM469.1 792.2h1v36.35h-1zM488.1 792.2h1v36.35h-1zM504.1 792.2h2v36.35h-2zM508.1 792.2h2v36.35h-2zM512.1 792.2h1v36.35h-1zM593.1 792.2h1v36.35h-1zM607.1 792.2h1v36.35h-1zM616.1 792.2h1v36.35h-1z"/><path fill="#781428" d="M389.1 792.2h1v36.35h-1zM397.1 792.2h1v36.35h-1zM442.1 792.2h3v36.35h-3zM470.1 792.2h1v36.35h-1zM481.1 792.2h2v36.35h-2zM485.1 792.2h1v36.35h-1zM514.1 792.2h3v36.35h-3zM553.1 792.2h1v36.35h-1zM562.1 792.2h3v36.35h-3zM608.1 792.2h1v36.35h-1zM622.1 792.2h1v36.35h-1z"/><path fill="#501478" d="M390.1 792.2h1v36.35h-1z"/><path fill="#3c1464" d="M396.1 792.2h1v36.35h-1zM426.1 792.2h2v36.35h-2zM435.1 792.2h1v36.35h-1z"/><path fill="#641450" d="M404.1 792.2h1v36.35h-1z"/><path fill="#141478" d="M408.1 792.2h1v36.35h-1zM429.1 792.2h1v36.35h-1zM445.1 792.2h2v36.35h-2zM457.1 792.2h1v36.35h-1zM479.1 792.2h1v36.35h-1zM503.1 792.2h1v36.35h-1zM526.1 792.2h1v36.35h-1zM570.1 792.2h1v36.35h-1zM573.1 792.2h1v36.35h-1zM579.1 792.2h1v36.35h-1zM587.1 792.2h1v36.35h-1zM609.1 792.2h1v36.35h-1z"/><path fill="#a01428" d="M411.1 792.2h1v36.35h-1zM428.1 792.2h1v36.35h-1zM476.1 792.2h2v36.35h-2zM493.1 792.2h1v36.35h-1zM510.1 792.2h1v36.35h-1zM531.1 792.2h1v36.35h-1zM539.1 792.2h1v36.35h-1z"/><path fill="#3c1450" d="M413.1 792.2h1v36.35h-1zM599.1 792.2h1v36.35h-1zM604.1 792.2h2v36.35h-2z"/><path fill="#14143c" d="M414.1 792.2h3v36.35h-3zM439.1 792.2h1v36.35h-1zM447.1 792.2h2v36.35h-2zM484.1 792.2h1v36.35h-1zM513.1 792.2h1v36.35h-1zM536.1 792.2h2v36.35h-2zM545.1 792.2h1v36.35h-1zM552.1 792.2h1v36.35h-1zM557.1 792.2h1v36.35h-1zM575.1 792.2h1v36.35h-1zM590.1 792.2h1v36.35h-1zM594.1 792.2h1v36.35h-1zM612.1 792.2h1v36.35h-1z"/><path fill="#64143c" d="M421.1 792.2h1v36.35h-1zM527.1 792.2h2v36.35h-2z"/><path fill="#501450" d="M432.1 792.2h1v36.35h-1zM456.1 792.2h1v36.35h-1z"/><path fill="#281478" d="M433.1 792.2h1v36.35h-1zM530.1 792.2h1v36.35h-1zM591.1 792.2h2v36.35h-2z"/><path fill="#1414a0" d="M471.1 792.2h2v36.35h-2zM489.1 792.2h1v36.35h-1zM499.1 792.2h2v36.35h-2z"/><path fill="#281450" d="M496.1 792.2h1v36.35h-1zM524.1 792.2h1v36.35h-1zM602.1 792.2h2v36.35h-2z"/><path fill="#1414c8" d="M506.1 792.2h1v36.35h-1zM517.1 792.2h2v36.35h-2zM611.1 792.2h1v36.35h-1z"/><path fill="#3c143c" d="M546.1 792.2h1v36.35h-1zM614.1 792.2h2v36.35h-2z"/><path fill="#281464" d="M574.1 792.2h1v36.35h-1z"/><path fill="#78143c" d="M613.1 792.2h1v36.35h-1z"/><text x="629.6" y="817.3" font-family='"Liberation Serif", serif' font-size="11.5" stroke="#000" stroke-width="0.25" textLength="46.2" lengthAdjust="spacingAndGlyphs">SLC25A28</text><path fill="#781428" d="M360.1 828h1v36.35h-1zM362.1 828h1v36.35h-1zM381.1 828h1v36.35h-1zM497.1 828h1v36.35h-1zM502.1 828h3v36.35h-3zM534.1 828h1v36.35h-1zM554.1 828h2v36.35h-2zM572.1 828h1v36.35h-1zM577.1 828h1v36.35h-1zM612.1 828h2v36.35h-2z"/><path fill="#c81428" d="M361.1 828h1v36.35h-1zM414.1 828h1v36.35h-1zM436.1 828h1v36.35h-1zM460.1 828h1v36.35h-1zM480.1 828h1v36.35h-1zM487.1 828h1v36.35h-1zM565.1 828h1v36.35h-1zM594.1 828h2v36.35h-2zM607.1 828h1v36.35h-1z"/><path fill="#141478" d="M363.1 828h1v36.35h-1zM370.1 828h1v36.35h-1zM378.1 828h1v36.35h-1zM392.1 828h3v36.35h-3zM404.1 828h1v36.35h-1zM447.1 828h1v36.35h-1zM451.1 828h1v36.35h-1zM470.1 828h2v36.35h-2zM481.1 828h1v36.35h-1zM483.1 828h1v36.35h-1zM490.1 828h2v36.35h-2zM511.1 828h1v36.35h-1zM567.1 828h1v36.35h-1z"/><path fill="#3c1428" d="M364.1 828h1v36.35h-1zM374.1 828h1v36.35h-1zM385.1 828h1v36.35h-1zM396.1 828h1v36.35h-1zM426.1 828h1v36.35h-1zM438.1 828h2v36.35h-2zM496.1 828h1v36.35h-1zM498.1 828h2v36.35h-2zM510.1 828h1v36.35h-1zM543.1 828h1v36.35h-1zM559.1 828h1v36.35h-1zM573.1 828h2v36.35h-2zM582.1 828h1v36.35h-1zM590.1 828h2v36.35h-2zM614.1 828h1v36.35h-1z"/><path fill="#641464" d="M365.1 828h1v36.35h-1z"/><path fill="#14143c" d="M366.1 828h1v36.35h-1zM395.1 828h1v36.35h-1zM423.1 828h1v36.35h-1zM461.1 828h1v36.35h-1zM469.1 828h1v36.35h-1zM475.1 828h2v36.35h-2zM495.1 828h1v36.35h-1zM523.1 828h1v36.35h-1zM539.1 828h1v36.35h-1zM560.1 828h1v36.35h-1zM569.1 828h1v36.35h-1zM571.1 828h1v36.35h-1zM592.1 828h2v36.35h-2zM602.1 828h1v36.35h-1zM622.1 828h1v36.35h-1zM627.1 828h1v36.35h-1z"/><path fill="#64143c" d="M367.1 828h1v36.35h-1zM425.1 828h1v36.35h-1z"/><path fill="#14148c" d="M368.1 828h2v36.35h-2zM376.1 828h2v36.35h-2zM398.1 828h1v36.35h-1zM433.1 828h1v36.35h-1zM448.1 828h1v36.35h-1zM486.1 828h1v36.35h-1zM500.1 828h1v36.35h-1zM524.1 828h1v36.35h-1z"/><path fill="#1414a0" d="M371.1 828h1v36.35h-1zM434.1 828h2v36.35h-2zM453.1 828h2v36.35h-2zM482.1 828h1v36.35h-1zM538.1 828h1v36.35h-1zM561.1 828h2v36.35h-2z"/><path fill="#281428" d="M372.1 828h1v36.35h-1zM397.1 828h1v36.35h-1zM413.1 828h1v36.35h-1zM484.1 828h2v36.35h-2zM507.1 828h3v36.35h-3zM544.1 828h1v36.35h-1zM563.1 828h1v36.35h-1z"/><path fill="#78143c" d="M373.1 828h1v36.35h-1z"/><path fill="#50143c" d="M375.1 828h1v36.35h-1zM551.1 828h1v36.35h-1zM568.1 828h1v36.35h-1zM617.1 828h2v36.35h-2zM624.1 828h1v36.35h-1z"/><path fill="#141450" d="M379.1 828h2v36.35h-2zM382.1 828h3v36.35h-3zM387.1 828h2v36.35h-2zM390.1 828h1v36.35h-1zM417.1 828h1v36.35h-1zM424.1 828h1v36.35h-1zM429.1 828h2v36.35h-2zM452.1 828h1v36.35h-1zM462.1 828h1v36.35h-1zM473.1 828h1v36.35h-1zM527.1 828h1v36.35h-1zM606.1 828h1v36.35h-1z"/><path fill="#141464" d="M386.1 828h1v36.35h-1zM406.1 828h2v36.35h-2zM415.1 828h2v36.35h-2zM428.1 828h1v36.35h-1zM432.1 828h1v36.35h-1zM441.1 828h1v36.35h-1zM450.1 828h1v36.35h-1zM456.1 828h1v36.35h-1zM472.1 828h1v36.35h-1zM494.1 828h1v36.35h-1zM512.1 828h1v36.35h-1zM514.1 828h1v36.35h-1zM532.1 828h2v36.35h-2zM537.1 828h1v36.35h-1zM549.1 828h2v36.35h-2zM552.1 828h1v36.35h-1zM580.1 828h2v36.35h-2zM601.1 828h1v36.35h-1zM603.1 828h1v36.35h-1zM609.1 828h1v36.35h-1z"/><path fill="#1414c8" d="M389.1 828h1v36.35h-1zM400.1 828h2v36.35h-2zM455.1 828h1v36.35h-1zM463.1 828h2v36.35h-2zM488.1 828h1v36.35h-1zM530.1 828h2v36.35h-2zM564.1 828h1v36.35h-1z"/><path fill="#281450" d="M391.1 828h1v36.35h-1zM588.1 828h2v36.35h-2z"/><path fill="#8c1428" d="M399.1 828h1v36.35h-1zM408.1 828h2v36.35h-2zM421.1 828h2v36.35h-2zM474.1 828h1v36.35h-1zM489.1 828h1v36.35h-1zM513.1 828h1v36.35h-1zM528.1 828h2v36.35h-2zM540.1 828h2v36.35h-2zM578.1 828h1v36.35h-1zM585.1 828h1v36.35h-1zM596.1 828h1v36.35h-1zM599.1 828h2v36.35h-2zM615.1 828h2v36.35h-2zM619.1 828h1v36.35h-1z"/><path fill="#b41428" d="M402.1 828h2v36.35h-2zM545.1 828h2v36.35h-2zM556.1 828h1v36.35h-1zM566.1 828h1v36.35h-1zM579.1 828h1v36.35h-1z"/><path fill="#141428" d="M405.1 828h1v36.35h-1zM411.1 828h2v36.35h-2zM468.1 828h1v36.35h-1zM520.1 828h1v36.35h-1zM522.1 828h1v36.35h-1zM548.1 828h1v36.35h-1zM610.1 828h1v36.35h-1zM625.1 828h2v36.35h-2z"/><path fill="#1414b4" d="M410.1 828h1v36.35h-1zM457.1 828h1v36.35h-1zM492.1 828h2v36.35h-2zM611.1 828h1v36.35h-1z"/><path fill="#641428" d="M418.1 828h3v36.35h-3zM427.1 828h1v36.35h-1zM465.1 828h1v36.35h-1zM477.1 828h3v36.35h-3zM516.1 828h2v36.35h-2zM519.1 828h1v36.35h-1zM521.1 828h1v36.35h-1zM557.1 828h2v36.35h-2zM583.1 828h2v36.35h-2zM587.1 828h1v36.35h-1z"/><path fill="#781464" d="M431.1 828h1v36.35h-1z"/><path fill="#3c1450" d="M437.1 828h1v36.35h-1zM440.1 828h1v36.35h-1zM442.1 828h2v36.35h-2zM547.1 828h1v36.35h-1zM586.1 828h1v36.35h-1z"/><path fill="#3c143c" d="M444.1 828h1v36.35h-1zM621.1 828h1v36.35h-1z"/><path fill="#501428" d="M445.1 828h1v36.35h-1zM458.1 828h2v36.35h-2zM501.1 828h1v36.35h-1zM535.1 828h2v36.35h-2zM542.1 828h1v36.35h-1zM570.1 828h1v36.35h-1zM575.1 828h2v36.35h-2zM604.1 828h2v36.35h-2z"/><path fill="#28143c" d="M446.1 828h1v36.35h-1zM518.1 828h1v36.35h-1z"/><path fill="#281478" d="M449.1 828h1v36.35h-1zM608.1 828h1v36.35h-1zM623.1 828h1v36.35h-1z"/><path fill="#a01428" d="M466.1 828h2v36.35h-2zM553.1 828h1v36.35h-1z"/><path fill="#3c1464" d="M505.1 828h1v36.35h-1zM515.1 828h1v36.35h-1zM597.1 828h2v36.35h-2z"/><path fill="#501450" d="M506.1 828h1v36.35h-1z"/><path fill="#641450" d="M525.1 828h2v36.35h-2z"/><path fill="#641478" d="M620.1 828h1v36.35h-1z"/><text x="629.6" y="853.1" font-family='"Liberation Serif", serif' font-size="11.5" stroke="#000" stroke-width="0.25" textLength="34.7" lengthAdjust="spacingAndGlyphs">SLC1A5</text><path fill="#641428" d="M360.1 863.8h1v36.35h-1zM379.1 863.8h1v36.35h-1zM439.1 863.8h1v36.35h-1zM445.1 863.8h2v36.35h-2zM455.1 863.8h1v36.35h-1zM553.1 863.8h1v36.35h-1zM562.1 863.8h1v36.35h-1zM574.1 863.8h1v36.35h-1zM612.1 863.8h1v36.35h-1zM614.1 863.8h1v36.35h-1zM616.1 863.8h1v36.35h-1z"/><path fill="#281464" d="M361.1 863.8h1v36.35h-1zM422.1 863.8h1v36.35h-1z"/><path fill="#501428" d="M362.1 863.8h1v36.35h-1zM386.1 863.8h1v36.35h-1zM390.1 863.8h1v36.35h-1zM401.1 863.8h1v36.35h-1zM414.1 863.8h1v36.35h-1zM447.1 863.8h1v36.35h-1zM494.1 863.8h3v36.35h-3zM513.1 863.8h1v36.35h-1zM537.1 863.8h1v36.35h-1zM543.1 863.8h1v36.35h-1zM601.1 863.8h2v36.35h-2zM627.1 863.8h1v36.35h-1z"/><path fill="#141464" d="M363.1 863.8h1v36.35h-1zM383.1 863.8h2v36.35h-2zM399.1 863.8h1v36.35h-1zM404.1 863.8h1v36.35h-1zM444.1 863.8h1v36.35h-1zM465.1 863.8h1v36.35h-1zM486.1 863.8h2v36.35h-2zM510.1 863.8h2v36.35h-2zM528.1 863.8h1v36.35h-1zM530.1 863.8h1v36.35h-1zM577.1 863.8h1v36.35h-1zM580.1 863.8h1v36.35h-1zM583.1 863.8h1v36.35h-1zM606.1 863.8h2v36.35h-2z"/><path fill="#141450" d="M364.1 863.8h1v36.35h-1zM380.1 863.8h1v36.35h-1zM382.1 863.8h1v36.35h-1zM388.1 863.8h1v36.35h-1zM410.1 863.8h1v36.35h-1zM433.1 863.8h2v36.35h-2zM472.1 863.8h1v36.35h-1zM480.1 863.8h1v36.35h-1zM509.1 863.8h1v36.35h-1zM512.1 863.8h1v36.35h-1zM532.1 863.8h2v36.35h-2zM544.1 863.8h1v36.35h-1zM569.1 863.8h1v36.35h-1zM578.1 863.8h1v36.35h-1zM587.1 863.8h1v36.35h-1zM608.1 863.8h1v36.35h-1z"/><path fill="#3c143c" d="M365.1 863.8h2v36.35h-2z"/><path fill="#1414b4" d="M367.1 863.8h1v36.35h-1zM375.1 863.8h1v36.35h-1zM416.1 863.8h1v36.35h-1zM431.1 863.8h1v36.35h-1zM485.1 863.8h1v36.35h-1zM548.1 863.8h2v36.35h-2z"/><path fill="#3c1428" d="M368.1 863.8h2v36.35h-2zM419.1 863.8h1v36.35h-1zM435.1 863.8h1v36.35h-1zM438.1 863.8h1v36.35h-1zM452.1 863.8h3v36.35h-3zM466.1 863.8h1v36.35h-1zM517.1 863.8h2v36.35h-2zM571.1 863.8h1v36.35h-1zM575.1 863.8h2v36.35h-2zM579.1 863.8h1v36.35h-1zM619.1 863.8h2v36.35h-2z"/><path fill="#a01428" d="M370.1 863.8h1v36.35h-1zM594.1 863.8h1v36.35h-1zM603.1 863.8h1v36.35h-1zM615.1 863.8h1v36.35h-1z"/><path fill="#14148c" d="M371.1 863.8h2v36.35h-2zM387.1 863.8h1v36.35h-1zM403.1 863.8h1v36.35h-1zM411.1 863.8h2v36.35h-2zM456.1 863.8h2v36.35h-2zM461.1 863.8h1v36.35h-1zM531.1 863.8h1v36.35h-1zM539.1 863.8h1v36.35h-1zM547.1 863.8h1v36.35h-1z"/><path fill="#1414c8" d="M373.1 863.8h1v36.35h-1zM417.1 863.8h2v36.35h-2zM428.1 863.8h1v36.35h-1zM448.1 863.8h2v36.35h-2zM462.1 863.8h2v36.35h-2zM545.1 863.8h2v36.35h-2z"/><path fill="#781428" d="M374.1 863.8h1v36.35h-1zM389.1 863.8h1v36.35h-1zM400.1 863.8h1v36.35h-1zM402.1 863.8h1v36.35h-1zM450.1 863.8h2v36.35h-2zM558.1 863.8h1v36.35h-1z"/><path fill="#1414a0" d="M376.1 863.8h2v36.35h-2zM436.1 863.8h1v36.35h-1zM440.1 863.8h1v36.35h-1zM552.1 863.8h1v36.35h-1z"/><path fill="#78143c" d="M378.1 863.8h1v36.35h-1zM415.1 863.8h1v36.35h-1z"/><path fill="#8c1428" d="M381.1 863.8h1v36.35h-1zM520.1 863.8h1v36.35h-1zM527.1 863.8h1v36.35h-1zM565.1 863.8h2v36.35h-2zM622.1 863.8h2v36.35h-2z"/><path fill="#281428" d="M385.1 863.8h1v36.35h-1zM393.1 863.8h1v36.35h-1zM407.1 863.8h1v36.35h-1zM441.1 863.8h3v36.35h-3zM484.1 863.8h1v36.35h-1zM492.1 863.8h2v36.35h-2zM519.1 863.8h1v36.35h-1zM538.1 863.8h1v36.35h-1zM592.1 863.8h1v36.35h-1zM599.1 863.8h2v36.35h-2z"/><path fill="#781450" d="M391.1 863.8h1v36.35h-1z"/><path fill="#14143c" d="M392.1 863.8h1v36.35h-1zM397.1 863.8h2v36.35h-2zM406.1 863.8h1v36.35h-1zM408.1 863.8h2v36.35h-2zM413.1 863.8h1v36.35h-1zM464.1 863.8h1v36.35h-1zM469.1 863.8h1v36.35h-1zM506.1 863.8h1v36.35h-1zM516.1 863.8h1v36.35h-1zM529.1 863.8h1v36.35h-1zM554.1 863.8h1v36.35h-1zM586.1 863.8h1v36.35h-1zM595.1 863.8h2v36.35h-2zM624.1 863.8h1v36.35h-1z"/><path fill="#50143c" d="M394.1 863.8h2v36.35h-2zM424.1 863.8h1v36.35h-1zM598.1 863.8h1v36.35h-1z"/><path fill="#28143c" d="M396.1 863.8h1v36.35h-1zM477.1 863.8h2v36.35h-2zM535.1 863.8h1v36.35h-1zM555.1 863.8h1v36.35h-1zM590.1 863.8h1v36.35h-1z"/><path fill="#c81428" d="M405.1 863.8h1v36.35h-1zM426.1 863.8h2v36.35h-2zM479.1 863.8h1v36.35h-1zM500.1 863.8h1v36.35h-1zM523.1 863.8h2v36.35h-2zM534.1 863.8h1v36.35h-1zM559.1 863.8h2v36.35h-2zM567.1 863.8h2v36.35h-2zM570.1 863.8h1v36.35h-1zM611.1 863.8h1v36.35h-1zM625.1 863.8h2v36.35h-2z"/><path fill="#141478" d="M420.1 863.8h1v36.35h-1zM425.1 863.8h1v36.35h-1zM429.1 863.8h2v36.35h-2zM432.1 863.8h1v36.35h-1zM458.1 863.8h3v36.35h-3zM476.1 863.8h1v36.35h-1zM488.1 863.8h2v36.35h-2zM498.1 863.8h2v36.35h-2zM503.1 863.8h1v36.35h-1zM536.1 863.8h1v36.35h-1zM541.1 863.8h2v36.35h-2zM561.1 863.8h1v36.35h-1zM563.1 863.8h2v36.35h-2zM585.1 863.8h1v36.35h-1zM588.1 863.8h2v36.35h-2zM597.1 863.8h1v36.35h-1zM617.1 863.8h1v36.35h-1z"/><path fill="#141428" d="M421.1 863.8h1v36.35h-1zM423.1 863.8h1v36.35h-1zM437.1 863.8h1v36.35h-1zM467.1 863.8h1v36.35h-1zM470.1 863.8h2v36.35h-2zM473.1 863.8h1v36.35h-1zM501.1 863.8h2v36.35h-2zM504.1 863.8h2v36.35h-2zM521.1 863.8h2v36.35h-2zM540.1 863.8h1v36.35h-1z"/><path fill="#3c1464" d="M468.1 863.8h1v36.35h-1z"/><path fill="#281478" d="M474.1 863.8h1v36.35h-1zM550.1 863.8h2v36.35h-2z"/><path fill="#3c1450" d="M475.1 863.8h1v36.35h-1zM514.1 863.8h2v36.35h-2zM593.1 863.8h1v36.35h-1z"/><path fill="#3c1478" d="M481.1 863.8h2v36.35h-2zM572.1 863.8h2v36.35h-2z"/><path fill="#64143c" d="M483.1 863.8h1v36.35h-1zM490.1 863.8h1v36.35h-1z"/><path fill="#b41428" d="M491.1 863.8h1v36.35h-1zM497.1 863.8h1v36.35h-1zM507.1 863.8h2v36.35h-2zM525.1 863.8h2v36.35h-2zM609.1 863.8h1v36.35h-1z"/><path fill="#781478" d="M556.1 863.8h2v36.35h-2zM604.1 863.8h2v36.35h-2z"/><path fill="#641450" d="M581.1 863.8h2v36.35h-2z"/><path fill="#281450" d="M584.1 863.8h1v36.35h-1zM621.1 863.8h1v36.35h-1z"/><path fill="#501450" d="M591.1 863.8h1v36.35h-1z"/><path fill="#781464" d="M610.1 863.8h1v36.35h-1z"/><path fill="#641464" d="M613.1 863.8h1v36.35h-1z"/><path fill="#641478" d="M618.1 863.8h1v36.35h-1z"/><text x="629.6" y="888.8" font-family='"Liberation Serif", serif' font-size="11.5" stroke="#000" stroke-width="0.25" textLength="40.5" lengthAdjust="spacingAndGlyphs">SLC39A7</text><path d="M336.5 559.9H359.5M336.5 595.6H359.5M336.5 559.9V595.6M342.6 631.4H359.5M342.6 667.1H359.5M342.6 631.4V667.1M341.4 738.6H359.5M341.4 774.4H359.5M341.4 738.6V774.4M339.4 702.9H359.5M339.4 756.5H341.4M339.4 702.9V756.5M336.5 649.2H342.6M336.5 729.7H339.4M336.5 649.2V729.7M331.9 577.8H336.5M331.9 689.5H336.5M331.9 577.8V689.5M339.4 845.9H359.5M339.4 881.6H359.5M339.4 845.9V881.6M335.5 810.1H359.5M335.5 863.8H339.4M335.5 810.1V863.8M330.8 633.6H331.9M330.8 836.9H335.5M330.8 633.6V836.9" stroke="#333" stroke-width="0.9" fill="none"/><text x="683.1" y="589.9" font-family='"Liberation Serif", serif' font-size="9.5" stroke="#000" stroke-width="0.25" textLength="44.9" lengthAdjust="spacingAndGlyphs">Expression</text><linearGradient id="expg" x1="0" y1="0" x2="1" y2="0"><stop offset="0" stop-color="#0000ff"/><stop offset="0.5" stop-color="#000000"/><stop offset="1" stop-color="#ff0000"/></linearGradient><rect x="677.4" y="598.6" width="64.2" height="12.2" fill="url(#expg)"/><path d="M677.6 610.8V614M687.7 610.8V614M709.3 610.8V614M730.5 610.8V614M741.4 610.8V614" stroke="#333" stroke-width="0.8"/><text x="687.0" y="624.3" font-family='"Liberation Serif", serif' font-size="9.5" text-anchor="middle" stroke="#000" stroke-width="0.25">−2</text><text x="709.6" y="624.3" font-family='"Liberation Serif", serif' font-size="9.5" text-anchor="middle" stroke="#000" stroke-width="0.25">0</text><text x="731.0" y="624.3" font-family='"Liberation Serif", serif' font-size="9.5" text-anchor="middle" stroke="#000" stroke-width="0.25">2</text><text x="699.2" y="653.5" font-family='"Liberation Serif", serif' font-size="10" text-anchor="middle" stroke="#000" stroke-width="0.25">OS:</text><linearGradient id="osg" x1="0" y1="0" x2="1" y2="0"><stop offset="0" stop-color="#0000ff"/><stop offset="0.5" stop-color="#ffffff"/><stop offset="1" stop-color="#ff0000"/></linearGradient><rect x="677.4" y="660.7" width="51.8" height="9.8" fill="url(#osg)"/><path d="M677.6 670.5V673.5M691.7 670.5V673.5M706 670.5V673.5M720.3 670.5V673.5M729 670.5V673.5" stroke="#333" stroke-width="0.8"/><text x="676.9" y="686.3" font-family='"Liberation Serif", serif' font-size="9.5" text-anchor="middle" stroke="#000" stroke-width="0.25">0</text><text x="700.6" y="686.3" font-family='"Liberation Serif", serif' font-size="9.5" text-anchor="middle" stroke="#000" stroke-width="0.25">4000</text><text x="727.2" y="686.3" font-family='"Liberation Serif", serif' font-size="9.5" text-anchor="middle" stroke="#000" stroke-width="0.25">8000</text><circle cx="681.5" cy="699.0" r="3.6" fill="#e64b35"/><text x="687.3" y="703.0" font-family='"Liberation Serif", serif' font-size="9.5" stroke="#000" stroke-width="0.25" textLength="19.3" lengthAdjust="spacingAndGlyphs">Alive</text><circle cx="681.5" cy="708.3" r="3.6" fill="#4dbbd5"/><text x="687.3" y="712.3" font-family='"Liberation Serif", serif' font-size="9.5" stroke="#000" stroke-width="0.25" textLength="18.5" lengthAdjust="spacingAndGlyphs">Dead</text><circle cx="681.5" cy="726.3" r="3.6" fill="#e64b35"/><text x="687.3" y="729.7" font-family='"Liberation Serif", serif' font-size="8.3" stroke="#000" stroke-width="0.25" textLength="21.7" lengthAdjust="spacingAndGlyphs">MALE</text><circle cx="681.5" cy="734.9" r="3.6" fill="#4dbbd5"/><text x="687.3" y="738.3" font-family='"Liberation Serif", serif' font-size="8.3" stroke="#000" stroke-width="0.25" textLength="30.7" lengthAdjust="spacingAndGlyphs">FEMALE</text><circle cx="681.5" cy="752.9" r="3.6" fill="#4DBBD5"/><text x="687.3" y="756.3" font-family='"Liberation Serif", serif' font-size="8.3" stroke="#000" stroke-width="0.25" textLength="31.9" lengthAdjust="spacingAndGlyphs">Stage IIIA</text><circle cx="681.5" cy="761.9" r="3.6" fill="#00A087"/><text transform="translate(687.3,765.3) scale(0.93,1)" font-family='"Liberation Serif", serif' font-size="8.3">Stage IIB</text><circle cx="681.5" cy="770.9" r="3.6" fill="#3C5488"/><text transform="translate(687.3,774.3) scale(0.93,1)" font-family='"Liberation Serif", serif' font-size="8.3">Stage IA</text><circle cx="681.5" cy="779.8" r="3.6" fill="#F39B7F"/><text transform="translate(687.3,783.2) scale(0.93,1)" font-family='"Liberation Serif", serif' font-size="8.3">Stage IB</text><circle cx="681.5" cy="788.8" r="3.6" fill="#8491B4"/><text transform="translate(687.3,792.2) scale(0.93,1)" font-family='"Liberation Serif", serif' font-size="8.3">Stage IV</text><circle cx="681.5" cy="797.8" r="3.6" fill="#91D1C2"/><text transform="translate(687.3,801.2) scale(0.93,1)" font-family='"Liberation Serif", serif' font-size="8.3">Stage IIA</text><circle cx="681.5" cy="806.8" r="3.6" fill="#DC0000"/><text transform="translate(687.3,810.2) scale(0.93,1)" font-family='"Liberation Serif", serif' font-size="8.3">Stage IIIB</text><circle cx="681.5" cy="815.8" r="3.6" fill="#E64B35"/><text x="687.3" y="819.2" font-family='"Liberation Serif", serif' font-size="8.3" stroke="#000" stroke-width="0.25">0</text><circle cx="681.5" cy="824.7" r="3.6" fill="#7E6148"/><text transform="translate(687.3,828.1) scale(0.93,1)" font-family='"Liberation Serif", serif' font-size="8.3">Stage I</text><circle cx="681.5" cy="833.7" r="3.6" fill="#B09C85"/><text transform="translate(687.3,837.1) scale(0.93,1)" font-family='"Liberation Serif", serif' font-size="8.3">Stage II</text><circle cx="681.5" cy="850.9" r="3.6" fill="#e64b35"/><text x="687.3" y="854.3" font-family='"Liberation Serif", serif' font-size="9.5" stroke="#000" stroke-width="0.25">C1</text><circle cx="681.5" cy="860.7" r="3.6" fill="#4dbbd5"/><text x="687.3" y="864.1" font-family='"Liberation Serif", serif' font-size="9.5" stroke="#000" stroke-width="0.25">C2</text><text x="712.5" y="708.3" font-family='"Liberation Serif", serif' font-size="10" stroke="#000" stroke-width="0.25" textLength="21.9" lengthAdjust="spacingAndGlyphs">Event</text><text x="724.7" y="733.0" font-family='"Liberation Serif", serif' font-size="10" stroke="#000" stroke-width="0.25">Sex</text><text x="679.8" y="748.3" font-family='"Liberation Serif", serif' font-size="10" stroke="#000" stroke-width="0.25">Stage</text><text x="705.1" y="859.3" font-family='"Liberation Serif", serif' font-size="10" stroke="#000" stroke-width="0.25" textLength="29.4" lengthAdjust="spacingAndGlyphs">Cluster</text><text transform="translate(313.95,938.90) scale(0.953,1)" font-family='"Liberation Sans", sans-serif' font-size="24" font-weight="bold" stroke="#000" stroke-width="0.7">H</text><path d="M359.8 971.0 363.8 971.0 363.8 972.1 367.2 972.1 367.2 973.6 370.9 973.6 370.9 975.4 372.5 975.4 372.5 976.1 375.9 976.1 375.9 977.9 380.7 977.9 380.7 980.2 383.4 980.2 383.4 981.5 385.0 981.5 385.0 982.1 389.6 982.1 389.6 983.9 393.3 983.9 393.3 985.4 395.2 985.4 395.2 985.9 398.8 985.9 398.8 986.6 403.6 986.6 403.6 989.2 405.5 989.2 405.5 991.2 409.8 991.2 409.8 998.4 413.5 998.4 413.5 1005.1 415.5 1005.1 415.5 1008.7 417.4 1008.7 417.4 1012.1 422.0 1012.1 422.0 1015.6 424.5 1015.6 424.5 1017.1 427.2 1017.1 427.2 1018.7 430.8 1018.7 430.8 1021.4 433.6 1021.4 433.6 1024.7 434.8 1024.7 434.8 1026.2 436.9 1026.2 436.9 1028.8 439.8 1028.8 439.8 1032.3 443.8 1032.3 443.8 1035.9 447.2 1035.9 447.2 1037.9 449.9 1037.9 449.9 1039.5 451.8 1039.5 451.8 1040.7 455.8 1040.7 455.8 1042.3 457.7 1042.3 457.7 1042.7 461.5 1042.7 461.5 1043.4 464.5 1043.4 464.5 1044.0 467.7 1044.0 467.7 1044.3 470.3 1044.3 470.3 1044.3 472.2 1044.3 472.2 1044.3 474.0 1044.3 474.0 1044.3 477.5 1044.3 477.5 1044.3 479.7 1044.3 479.7 1044.3 480.9 1044.3 480.9 1044.3 482.8 1044.3 482.8 1044.3 487.4 1044.3 487.4 1044.3 491.1 1044.3 491.1 1044.3 494.4 1044.3 494.4 1044.3 497.1 1044.3 497.1 1044.3 501.2 1044.3 501.2 1044.3 503.3 1044.3 503.3 1044.3 506.8 1044.3 506.8 1044.3 508.1 1044.3 508.1 1044.3 511.6 1044.3 511.6 1044.3 516.3 1044.3 516.3 1044.3 520.0 1044.3 520.0 1044.3 521.5 1044.3 521.5 1044.3 524.9 1044.3 524.9 1044.3 527.2 1044.3 527.2 1044.3 531.7 1044.3 531.7 1044.3 533.0 1044.3 533.0 1044.3 534.2 1044.3 534.2 1044.3 535.8 1044.3 535.8 1044.3 538.2 1044.3 538.2 1044.3 542.6 1044.3 542.6 1044.3 545.8 1044.3 545.8 1044.3 549.4 1044.3 549.4 1044.3 550.7 1044.3 550.7 1044.3 552.6 1044.3 552.6 1044.3 555.1 1044.3 555.1 1044.3 558.6 1044.3 558.6 1044.3 562.5 1044.3 562.5 1044.3 565.8 1044.3 565.8 1044.3 568.0 1044.3 568.0 1044.3 569.8 1044.3 569.8 1044.3 572.5 1044.3 572.5 1044.3 574.7 1044.3 574.7 1044.3 578.6 1044.3 578.6 1044.3 583.0 1044.3 583.0 1044.3 587.1 1044.3 587.1 1044.3 588.7 1044.3 588.7 1044.3 592.8 1044.3 592.8 1044.3 594.0 1044.3 594.0 1044.3 595.7 1044.3 595.7 1044.3 599.4 1044.3 599.4 1044.3 600.7 1044.3 600.7 1044.3 600.7 1089.0 600.7 1089.0 599.7 1089.0 599.7 1089.0 595.0 1089.0 595.0 1089.0 593.1 1089.0 593.1 1089.0 589.0 1089.0 589.0 1089.0 584.3 1089.0 584.3 1089.0 582.3 1089.0 582.3 1089.0 579.0 1089.0 579.0 1089.0 577.7 1089.0 577.7 1089.0 573.1 1089.0 573.1 1089.0 570.3 1089.0 570.3 1089.0 569.0 1089.0 569.0 1089.0 566.8 1089.0 566.8 1089.0 564.3 1089.0 564.3 1089.0 560.9 1089.0 560.9 1089.0 558.2 1089.0 558.2 1089.0 556.3 1089.0 556.3 1089.0 555.1 1089.0 555.1 1089.0 551.1 1089.0 551.1 1089.0 547.5 1089.0 547.5 1089.0 544.5 1089.0 544.5 1089.0 540.4 1089.0 540.4 1089.0 539.1 1089.0 539.1 1089.0 535.9 1089.0 535.9 1089.0 533.8 1089.0 533.8 1089.0 531.3 1089.0 531.3 1089.0 526.8 1089.0 526.8 1089.0 523.1 1089.0 523.1 1089.0 521.8 1089.0 521.8 1089.0 517.3 1089.0 517.3 1089.0 513.6 1089.0 513.6 1089.0 510.5 1089.0 510.5 1089.0 507.7 1089.0 507.7 1089.0 503.8 1089.0 503.8 1089.0 501.3 1089.0 501.3 1089.0 497.7 1089.0 497.7 1089.0 493.1 1089.0 493.1 1089.0 488.7 1089.0 488.7 1089.0 486.0 1089.0 486.0 1089.0 484.1 1089.0 484.1 1089.0 479.5 1089.0 479.5 1089.0 476.0 1089.0 476.0 1089.0 472.1 1089.0 472.1 1089.0 470.7 1089.0 470.7 1089.0 467.4 1089.0 467.4 1080.9 464.0 1080.9 464.0 1076.5 462.8 1076.5 462.8 1076.5 458.9 1076.5 458.9 1076.5 456.3 1076.5 456.3 1076.5 453.0 1076.5 453.0 1076.5 450.5 1076.5 450.5 1076.5 446.8 1076.5 446.8 1068.7 443.9 1068.7 443.9 1059.2 440.7 1059.2 440.7 1057.2 438.8 1057.2 438.8 1055.7 437.4 1055.7 437.4 1053.2 434.9 1053.2 434.9 1050.0 431.0 1050.0 431.0 1048.8 429.4 1048.8 429.4 1045.8 425.4 1045.8 425.4 1044.2 423.2 1044.2 423.2 1036.7 418.4 1036.7 418.4 1028.7 414.3 1028.7 414.3 1024.5 412.1 1024.5 412.1 1022.1 410.9 1022.1 410.9 1016.8 407.1 1016.8 407.1 1012.2 403.1 1012.2 403.1 1006.9 398.6 1006.9 398.6 1002.4 394.3 1002.4 394.3 1000.2 392.0 1000.2 392.0 997.4 389.3 997.4 389.3 992.6 384.5 992.6 384.5 991.3 383.2 991.3 383.2 987.1 379.0 987.1 379.0 982.6 374.5 982.6 374.5 979.9 371.2 979.9 371.2 977.1 367.7 977.1 367.7 974.3 364.0 974.3 364.0 971.0 359.8 971.0Z" fill="#e64b35" fill-opacity="0.25"/><path d="M359.8 971.0 363.5 971.0 363.5 973.1 365.6 973.1 365.6 974.3 367.9 974.3 367.9 975.6 369.3 975.6 369.3 976.4 371.6 976.4 371.6 977.7 374.2 977.7 374.2 979.3 375.5 979.3 375.5 980.5 376.8 980.5 376.8 981.6 378.0 981.6 378.0 982.8 382.4 982.8 382.4 986.8 385.1 986.8 385.1 989.3 389.6 989.3 389.6 992.5 392.5 992.5 392.5 994.4 395.7 994.4 395.7 996.6 398.3 996.6 398.3 998.5 402.3 998.5 402.3 1002.5 404.7 1002.5 404.7 1004.9 408.8 1004.9 408.8 1009.0 411.4 1009.0 411.4 1014.1 413.1 1014.1 413.1 1018.3 415.8 1018.3 415.8 1025.1 417.1 1025.1 417.1 1028.4 419.7 1028.4 419.7 1034.9 422.3 1034.9 422.3 1040.1 426.0 1040.1 426.0 1040.9 430.8 1040.9 430.8 1041.9 432.6 1041.9 432.6 1042.3 436.0 1042.3 436.0 1043.0 440.2 1043.0 440.2 1043.9 443.8 1043.9 443.8 1044.0 445.9 1044.0 445.9 1044.0 448.6 1044.0 448.6 1044.0 453.2 1044.0 453.2 1044.0 456.2 1044.0 456.2 1044.0 459.9 1044.0 459.9 1044.0 462.2 1044.0 462.2 1044.0 466.2 1044.0 466.2 1044.0 469.4 1044.0 469.4 1044.0 473.5 1044.0 473.5 1047.3 475.7 1047.3 475.7 1047.3 477.7 1047.3 477.7 1047.3 479.6 1047.3 479.6 1047.3 482.9 1047.3 482.9 1047.3 484.4 1047.3 484.4 1047.3 486.8 1047.3 486.8 1056.6 490.4 1056.6 490.4 1056.6 492.6 1056.6 492.6 1056.6 494.8 1056.6 494.8 1056.6 496.8 1056.6 496.8 1056.6 499.7 1056.6 499.7 1056.6 503.6 1056.6 503.6 1056.6 505.8 1056.6 505.8 1059.2 508.9 1059.2 508.9 1059.2 513.7 1059.2 513.7 1059.2 516.7 1059.2 516.7 1059.2 518.8 1059.2 518.8 1059.2 523.1 1059.2 523.1 1059.2 527.5 1059.2 527.5 1059.2 531.4 1059.2 531.4 1059.2 533.8 1059.2 533.8 1059.2 536.8 1059.2 536.8 1059.2 539.1 1059.2 539.1 1059.2 543.7 1059.2 543.7 1059.2 544.9 1059.2 544.9 1059.2 549.3 1059.2 549.3 1059.2 551.4 1059.2 551.4 1059.2 553.1 1059.2 553.1 1059.2 557.3 1059.2 557.3 1059.2 561.4 1059.2 561.4 1059.2 562.7 1059.2 562.7 1059.2 565.0 1059.2 565.0 1059.2 566.5 1059.2 566.5 1059.2 570.4 1059.2 570.4 1059.2 574.9 1059.2 574.9 1059.2 577.1 1059.2 577.1 1059.2 579.6 1059.2 579.6 1059.2 580.9 1059.2 580.9 1059.2 582.5 1059.2 582.5 1059.2 583.9 1059.2 583.9 1059.2 587.7 1059.2 587.7 1059.2 589.7 1059.2 589.7 1059.2 592.6 1059.2 592.6 1059.2 594.7 1059.2 594.7 1059.2 597.8 1059.2 597.8 1059.2 601.0 1059.2 601.0 1059.2 603.4 1059.2 603.4 1059.2 605.6 1059.2 605.6 1059.2 610.1 1059.2 610.1 1059.2 614.6 1059.2 614.6 1059.2 617.5 1059.2 617.5 1059.2 620.1 1059.2 620.1 1059.2 623.2 1059.2 623.2 1059.2 626.4 1059.2 626.4 1059.2 631.0 1059.2 631.0 1059.2 633.8 1059.2 633.8 1059.2 636.2 1059.2 636.2 1059.2 640.8 1059.2 640.8 1059.2 644.4 1059.2 644.4 1059.2 646.0 1059.2 646.0 1059.2 649.2 1059.2 649.2 1059.2 653.4 1059.2 653.4 1059.2 656.6 1059.2 656.6 1059.2 658.7 1059.2 658.7 1059.2 661.2 1059.2 661.2 1059.2 665.1 1059.2 665.1 1059.2 668.3 1059.2 668.3 1059.2 669.5 1059.2 669.5 1059.2 671.9 1059.2 671.9 1059.2 675.8 1059.2 675.8 1059.2 677.2 1059.2 677.2 1059.2 679.8 1059.2 679.8 1059.2 683.0 1059.2 683.0 1059.2 685.3 1059.2 685.3 1059.2 689.0 1059.2 689.0 1059.2 690.4 1059.2 690.4 1059.2 695.0 1059.2 695.0 1059.2 698.9 1059.2 698.9 1059.2 703.3 1059.2 703.3 1059.2 706.4 1059.2 706.4 1059.2 709.2 1059.2 709.2 1059.2 709.6 1059.2 709.6 1059.2 709.6 1104.8 709.6 1104.8 709.2 1104.8 709.2 1104.8 706.8 1104.8 706.8 1104.8 703.5 1104.8 703.5 1104.8 698.9 1104.8 698.9 1104.8 695.4 1104.8 695.4 1104.8 691.6 1104.8 691.6 1104.8 689.8 1104.8 689.8 1104.8 686.7 1104.8 686.7 1104.8 683.2 1104.8 683.2 1104.8 678.5 1104.8 678.5 1104.8 676.2 1104.8 676.2 1104.8 673.1 1104.8 673.1 1104.8 669.9 1104.8 669.9 1104.8 667.2 1104.8 667.2 1104.8 662.6 1104.8 662.6 1104.8 661.2 1104.8 661.2 1104.8 657.6 1104.8 657.6 1104.8 654.4 1104.8 654.4 1104.8 649.9 1104.8 649.9 1104.8 646.2 1104.8 646.2 1104.8 641.7 1104.8 641.7 1104.8 638.4 1104.8 638.4 1104.8 636.3 1104.8 636.3 1104.8 631.8 1104.8 631.8 1104.8 629.3 1104.8 629.3 1104.8 627.7 1104.8 627.7 1104.8 623.6 1104.8 623.6 1104.8 620.5 1104.8 620.5 1104.8 618.1 1104.8 618.1 1104.8 613.9 1104.8 613.9 1104.8 611.9 1104.8 611.9 1104.8 607.9 1104.8 607.9 1104.8 606.3 1104.8 606.3 1104.8 601.7 1104.8 601.7 1092.4 599.6 1092.4 599.6 1092.3 598.0 1092.3 598.0 1092.2 594.4 1092.2 594.4 1092.1 592.8 1092.1 592.8 1092.0 588.6 1092.0 588.6 1091.9 587.1 1091.9 587.1 1091.9 584.6 1091.9 584.6 1091.8 582.4 1091.8 582.4 1091.6 578.4 1091.6 578.4 1091.5 576.1 1091.5 576.1 1091.5 574.3 1091.5 574.3 1091.3 569.9 1091.3 569.9 1091.2 565.8 1091.2 565.8 1091.1 563.0 1091.1 563.0 1091.0 561.0 1091.0 561.0 1090.9 557.5 1090.9 557.5 1090.8 554.5 1090.8 554.5 1090.6 550.6 1090.6 550.6 1090.5 546.2 1090.5 546.2 1090.4 543.9 1090.4 543.9 1090.3 540.8 1090.3 540.8 1090.2 539.0 1090.2 539.0 1090.2 537.3 1090.2 537.3 1090.1 534.8 1090.1 534.8 1089.9 531.2 1089.9 531.2 1089.9 529.2 1089.9 529.2 1089.8 527.8 1089.8 527.8 1089.7 523.5 1089.7 523.5 1089.6 521.7 1089.6 521.7 1089.5 517.6 1089.5 517.6 1089.4 515.6 1089.4 515.6 1089.3 511.9 1089.3 511.9 1089.2 509.8 1089.2 509.8 1089.0 505.8 1089.0 505.8 1089.0 503.4 1089.0 503.4 1088.9 501.4 1088.9 501.4 1088.8 498.3 1088.8 498.3 1088.7 496.2 1088.7 496.2 1088.6 492.5 1088.6 492.5 1088.4 488.7 1088.4 488.7 1087.3 484.2 1087.3 484.2 1086.7 482.0 1086.7 482.0 1085.8 479.0 1085.8 479.0 1085.1 476.5 1085.1 476.5 1084.6 474.8 1084.6 474.8 1083.5 471.2 1083.5 471.2 1082.3 466.9 1082.3 466.9 1081.2 463.1 1081.2 463.1 1080.5 460.8 1080.5 460.8 1079.9 458.6 1079.9 458.6 1079.1 456.0 1079.1 456.0 1077.8 451.5 1077.8 451.5 1077.4 450.0 1077.4 450.0 1075.0 446.1 1075.0 446.1 1072.5 444.5 1072.5 444.5 1067.1 440.2 1067.1 440.2 1065.1 438.3 1065.1 438.3 1061.8 435.0 1061.8 435.0 1060.5 433.8 1060.5 433.8 1058.4 431.7 1058.4 431.7 1057.2 430.5 1057.2 430.5 1055.9 429.2 1055.9 429.2 1051.4 424.6 1051.4 424.6 1047.0 420.8 1047.0 420.8 1039.9 416.4 1039.9 416.4 1032.4 411.7 1032.4 411.7 1027.2 407.7 1027.2 407.7 1023.8 404.2 1023.8 404.2 1020.8 401.2 1020.8 401.2 1017.5 397.9 1017.5 397.9 1011.8 393.8 1011.8 393.8 1006.5 390.0 1006.5 390.0 1000.4 385.7 1000.4 385.7 997.7 383.0 997.7 383.0 993.0 378.2 993.0 378.2 989.0 374.2 989.0 374.2 987.4 372.8 987.4 372.8 985.1 371.1 985.1 371.1 979.7 366.7 979.7 366.7 976.8 364.4 976.8 364.4 973.0 361.4 973.0 361.4 971.0 359.8 971.0Z" fill="#4dbbd5" fill-opacity="0.25"/><path d="M359 1045.5H441.3M422.2 1045.5V1119.6M441.3 1045.5V1119.6" stroke="#333" stroke-width="0.7" stroke-dasharray="1.6 1.2" fill="none"/><path d="M359.8 971.0 361.0 971.0 361.0 971.7 362.3 971.7 362.3 972.4 364.5 972.4 364.5 973.7 366.8 973.7 366.8 975.0 369.9 975.0 369.9 976.8 370.8 976.8 370.8 977.3 373.7 977.3 373.7 978.9 375.5 978.9 375.5 980.3 376.4 980.3 376.4 981.0 378.1 981.0 378.1 982.4 380.4 982.4 380.4 984.2 382.1 984.2 382.1 985.6 383.7 985.6 383.7 986.9 386.5 986.9 386.5 989.2 388.3 989.2 388.3 990.6 391.4 990.6 391.4 993.1 392.8 993.1 392.8 994.3 393.8 994.3 393.8 995.1 395.8 995.1 395.8 996.7 398.3 996.7 398.3 999.2 400.0 999.2 400.0 1002.1 401.4 1002.1 401.4 1004.5 403.5 1004.5 403.5 1008.3 406.3 1008.3 406.3 1013.1 408.5 1013.1 408.5 1016.5 410.7 1016.5 410.7 1019.7 412.5 1019.7 412.5 1022.1 414.8 1022.1 414.8 1025.4 417.5 1025.4 417.5 1029.1 418.4 1029.1 418.4 1030.5 421.6 1030.5 421.6 1033.5 423.4 1033.5 423.4 1034.9 425.3 1034.9 425.3 1036.4 427.3 1036.4 427.3 1037.9 429.9 1037.9 429.9 1039.9 431.8 1039.9 431.8 1043.1 434.1 1043.1 434.1 1044.7 435.6 1044.7 435.6 1044.7 437.0 1044.7 437.0 1044.8 439.0 1044.8 439.0 1044.9 440.1 1044.9 440.1 1045.0 441.0 1045.0 441.0 1046.0 443.5 1046.0 443.5 1051.9 444.7 1051.9 444.7 1054.6 447.0 1054.6 447.0 1059.2 450.0 1059.2 450.0 1059.2 452.8 1059.2 452.8 1059.2 453.8 1059.2 453.8 1059.6 455.8 1059.6 455.8 1061.0 457.9 1061.0 457.9 1062.4 459.5 1062.4 459.5 1063.5 461.2 1063.5 461.2 1064.7 464.3 1064.7 464.3 1070.3 465.5 1070.3 465.5 1072.2 468.3 1072.2 468.3 1072.2 471.0 1072.2 471.0 1072.2 472.2 1072.2 472.2 1072.2 473.9 1072.2 473.9 1072.2 476.0 1072.2 476.0 1072.2 478.9 1072.2 478.9 1072.2 479.7 1072.2 479.7 1072.2 482.7 1072.2 482.7 1072.2 483.6 1072.2 483.6 1072.2 485.1 1072.2 485.1 1072.2 485.9 1072.2 485.9 1072.2 489.1 1072.2 489.1 1072.2 492.2 1072.2 492.2 1072.2 494.0 1072.2 494.0 1072.2 496.5 1072.2 496.5 1072.2 497.4 1072.2 497.4 1072.2 499.6 1072.2 499.6 1072.2 501.2 1072.2 501.2 1072.2 503.3 1072.2 503.3 1072.2 504.9 1072.2 504.9 1072.2 507.3 1072.2 507.3 1072.2 509.2 1072.2 509.2 1072.2 511.2 1072.2 511.2 1072.2 513.2 1072.2 513.2 1072.2 514.8 1072.2 514.8 1072.2 516.8 1072.2 516.8 1072.2 519.4 1072.2 519.4 1072.2 521.7 1072.2 521.7 1072.2 522.8 1072.2 522.8 1072.2 525.2 1072.2 525.2 1072.2 526.5 1072.2 526.5 1072.2 528.8 1072.2 528.8 1072.2 531.4 1072.2 531.4 1072.2 533.8 1072.2 533.8 1072.2 536.5 1072.2 536.5 1072.2 538.2 1072.2 538.2 1072.2 541.4 1072.2 541.4 1072.2 544.3 1072.2 544.3 1072.2 546.4 1072.2 546.4 1072.2 547.9 1072.2 547.9 1072.2 551.0 1072.2 551.0 1072.2 553.2 1072.2 553.2 1072.2 554.3 1072.2 554.3 1072.2 556.1 1072.2 556.1 1072.2 557.2 1072.2 557.2 1072.2 559.2 1072.2 559.2 1072.2 560.6 1072.2 560.6 1072.2 561.8 1072.2 561.8 1072.2 564.4 1072.2 564.4 1072.2 565.9 1072.2 565.9 1072.2 569.0 1072.2 569.0 1072.2 571.5 1072.2 571.5 1072.2 573.2 1072.2 573.2 1072.2 574.7 1072.2 574.7 1072.2 575.9 1072.2 575.9 1072.2 577.5 1072.2 577.5 1072.2 579.6 1072.2 579.6 1072.2 580.5 1072.2 580.5 1072.2 582.6 1072.2 582.6 1072.2 583.9 1072.2 583.9 1072.2 585.1 1072.2 585.1 1072.2 586.3 1072.2 586.3 1072.2 587.8 1072.2 587.8 1072.2 590.1 1072.2 590.1 1072.2 591.5 1072.2 591.5 1072.2 593.9 1072.2 593.9 1072.2 595.9 1072.2 595.9 1072.2 597.5 1072.2 597.5 1072.2 600.6 1072.2 600.6 1072.2 600.7 1072.2 600.7 1072.2" stroke="#d9533c" stroke-width="1.2" fill="none"/><path d="M380.6 982.6V986.2M432.5 1042.5V1046.1M456.0 1059.3V1062.9M406.0 1010.8V1014.4M410.3 1017.3V1020.9M585.4 1070.4V1074.0M465.2 1070.4V1074.0M576.7 1070.4V1074.0M405.9 1010.7V1014.3M481.1 1070.4V1074.0M452.8 1057.4V1061.0M526.8 1070.4V1074.0M383.0 984.5V988.1M363.3 971.2V974.8M532.5 1070.4V1074.0M560.4 1070.4V1074.0M363.7 971.4V975.0M555.9 1070.4V1074.0M435.4 1042.9V1046.5M365.8 972.6V976.2M388.2 988.7V992.3M375.9 978.8V982.4M446.6 1057.4V1061.0M599.0 1070.4V1074.0M416.1 1025.3V1028.9M493.4 1070.4V1074.0M396.9 995.8V999.4M371.6 975.9V979.5M592.8 1070.4V1074.0M558.5 1070.4V1074.0M367.9 973.8V977.4M388.1 988.7V992.3M451.8 1057.4V1061.0M511.1 1070.4V1074.0M398.1 997.0V1000.6M364.0 971.6V975.2M391.3 991.2V994.8M457.6 1060.4V1064.0M550.0 1070.4V1074.0M362.4 970.7V974.3M600.7 1070.2V1074.2" stroke="#d9533c" stroke-width="0.8"/><path d="M359.8 971.0 362.3 971.0 362.3 973.3 364.6 973.3 364.6 975.4 366.2 975.4 366.2 976.8 368.1 976.8 368.1 978.6 369.0 978.6 369.0 979.4 370.9 979.4 370.9 981.2 373.6 981.2 373.6 983.6 375.1 983.6 375.1 985.1 377.3 985.1 377.3 987.3 379.7 987.3 379.7 989.7 380.8 989.7 380.8 990.8 382.6 990.8 382.6 992.6 384.1 992.6 384.1 994.1 385.5 994.1 385.5 995.5 387.7 995.5 387.7 997.7 388.6 997.7 388.6 998.6 390.6 998.6 390.6 1000.6 393.2 1000.6 393.2 1003.2 394.5 1003.2 394.5 1004.5 395.4 1004.5 395.4 1005.4 398.2 1005.4 398.2 1008.3 401.1 1008.3 401.1 1011.9 402.7 1011.9 402.7 1013.9 405.5 1013.9 405.5 1017.5 406.9 1017.5 406.9 1019.1 408.2 1019.1 408.2 1021.1 410.7 1021.1 410.7 1025.5 411.8 1025.5 411.8 1027.5 413.4 1027.5 413.4 1030.4 415.8 1030.4 415.8 1034.5 417.2 1034.5 417.2 1037.0 418.0 1037.0 418.0 1038.5 421.0 1038.5 421.0 1043.7 422.6 1043.7 422.6 1045.2 424.0 1045.2 424.0 1045.6 426.1 1045.6 426.1 1046.2 428.9 1046.2 428.9 1047.0 430.7 1047.0 430.7 1048.8 432.7 1048.8 432.7 1053.2 435.4 1053.2 435.4 1053.2 438.6 1053.2 438.6 1054.9 440.8 1054.9 440.8 1059.2 443.6 1059.2 443.6 1059.2 445.0 1059.2 445.0 1059.2 446.3 1059.2 446.3 1059.2 447.4 1059.2 447.4 1059.2 448.8 1059.2 448.8 1059.2 450.2 1059.2 450.2 1059.2 452.9 1059.2 452.9 1059.2 456.0 1059.2 456.0 1059.2 457.1 1059.2 457.1 1059.2 459.5 1059.2 459.5 1059.2 462.6 1059.2 462.6 1059.2 465.7 1059.2 465.7 1059.2 467.0 1059.2 467.0 1059.2 469.2 1059.2 469.2 1059.7 471.6 1059.7 471.6 1061.7 472.5 1061.7 472.5 1062.3 473.5 1062.3 473.5 1063.1 476.0 1063.1 476.0 1064.5 478.0 1064.5 478.0 1064.5 480.5 1064.5 480.5 1064.5 481.5 1064.5 481.5 1064.5 482.8 1064.5 482.8 1064.5 485.5 1064.5 485.5 1066.6 487.2 1066.6 487.2 1073.1 489.2 1073.1 489.2 1074.5 491.8 1074.5 491.8 1074.5 492.8 1074.5 492.8 1074.5 493.9 1074.5 493.9 1074.5 495.9 1074.5 495.9 1074.5 498.3 1074.5 498.3 1074.5 499.9 1074.5 499.9 1074.5 501.9 1074.5 501.9 1074.5 504.5 1074.5 504.5 1074.5 507.4 1074.5 507.4 1074.9 508.8 1074.9 508.8 1076.3 511.3 1076.3 511.3 1078.8 512.7 1078.8 512.7 1079.8 514.6 1079.8 514.6 1079.8 517.2 1079.8 517.2 1079.8 518.7 1079.8 518.7 1079.8 521.0 1079.8 521.0 1079.8 522.5 1079.8 522.5 1079.8 524.8 1079.8 524.8 1079.8 526.7 1079.8 526.7 1079.8 528.5 1079.8 528.5 1079.8 529.7 1079.8 529.7 1079.8 531.4 1079.8 531.4 1079.8 534.1 1079.8 534.1 1079.8 535.3 1079.8 535.3 1079.8 538.0 1079.8 538.0 1079.8 540.7 1079.8 540.7 1079.8 543.7 1079.8 543.7 1079.8 545.8 1079.8 545.8 1079.8 547.8 1079.8 547.8 1079.8 549.8 1079.8 549.8 1079.8 551.9 1079.8 551.9 1079.8 554.8 1079.8 554.8 1079.8 556.9 1079.8 556.9 1079.8 559.1 1079.8 559.1 1079.8 561.8 1079.8 561.8 1079.8 563.3 1079.8 563.3 1079.8 564.2 1079.8 564.2 1079.8 567.2 1079.8 567.2 1079.8 568.9 1079.8 568.9 1079.8 570.9 1079.8 570.9 1079.8 572.8 1079.8 572.8 1079.8 575.3 1079.8 575.3 1079.8 576.7 1079.8 576.7 1079.8 578.1 1079.8 578.1 1079.8 579.4 1079.8 579.4 1079.8 582.0 1079.8 582.0 1079.8 583.8 1079.8 583.8 1079.8 587.0 1079.8 587.0 1079.8 589.9 1079.8 589.9 1080.8 593.0 1080.8 593.0 1083.5 594.3 1083.5 594.3 1084.6 595.6 1084.6 595.6 1085.8 598.3 1085.8 598.3 1088.1 600.6 1088.1 600.6 1089.5 602.2 1089.5 602.2 1089.5 603.9 1089.5 603.9 1089.5 604.7 1089.5 604.7 1089.5 607.9 1089.5 607.9 1089.5 608.9 1089.5 608.9 1089.5 611.7 1089.5 611.7 1089.5 613.6 1089.5 613.6 1089.5 616.1 1089.5 616.1 1089.5 617.1 1089.5 617.1 1089.5 619.1 1089.5 619.1 1089.5 621.1 1089.5 621.1 1089.5 623.6 1089.5 623.6 1089.5 624.7 1089.5 624.7 1089.5 627.7 1089.5 627.7 1089.5 630.9 1089.5 630.9 1089.5 632.2 1089.5 632.2 1089.5 633.2 1089.5 633.2 1089.5 635.3 1089.5 635.3 1089.5 637.2 1089.5 637.2 1089.5 639.5 1089.5 639.5 1089.5 642.7 1089.5 642.7 1089.5 645.2 1089.5 645.2 1089.5 647.7 1089.5 647.7 1089.5 650.7 1089.5 650.7 1089.5 653.0 1089.5 653.0 1089.5 654.6 1089.5 654.6 1089.5 655.7 1089.5 655.7 1089.5 657.1 1089.5 657.1 1089.5 659.4 1089.5 659.4 1089.5 660.8 1089.5 660.8 1089.5 662.2 1089.5 662.2 1089.5 664.7 1089.5 664.7 1089.5 667.4 1089.5 667.4 1089.5 668.9 1089.5 668.9 1089.5 671.9 1089.5 671.9 1089.5 674.6 1089.5 674.6 1089.5 676.2 1089.5 676.2 1089.5 678.2 1089.5 678.2 1089.5 679.3 1089.5 679.3 1089.5 682.0 1089.5 682.0 1089.5 684.9 1089.5 684.9 1089.5 687.7 1089.5 687.7 1089.5 688.7 1089.5 688.7 1089.5 691.7 1089.5 691.7 1089.5 693.4 1089.5 693.4 1089.5 695.6 1089.5 695.6 1089.5 697.1 1089.5 697.1 1089.5 698.7 1089.5 698.7 1089.5 700.2 1089.5 700.2 1089.5 701.1 1089.5 701.1 1089.5 703.2 1089.5 703.2 1089.5 705.2 1089.5 705.2 1089.5 707.6 1089.5 707.6 1089.5 709.3 1089.5 709.3 1089.5 709.6 1089.5 709.6 1089.5" stroke="#4bb6cf" stroke-width="1.2" fill="none"/><path d="M566.8 1078.0V1081.6M581.7 1078.0V1081.6M411.1 1024.6V1028.2M666.5 1087.7V1091.3M586.9 1078.0V1081.6M562.4 1078.0V1081.6M364.7 973.7V977.3M488.6 1072.7V1076.3M363.1 972.2V975.8M381.7 989.9V993.5M554.6 1078.0V1081.6M436.1 1051.4V1055.0M614.0 1087.7V1091.3M615.3 1087.7V1091.3M365.0 974.0V977.6M394.6 1002.8V1006.4M553.1 1078.0V1081.6M459.5 1057.4V1061.0M641.5 1087.7V1091.3M640.1 1087.7V1091.3M609.6 1087.7V1091.3M551.3 1078.0V1081.6M399.3 1007.9V1011.5M435.0 1051.4V1055.0M362.1 971.3V974.9M554.5 1078.0V1081.6M367.3 976.1V979.7M429.3 1045.3V1048.9M362.2 971.4V975.0M365.2 974.2V977.8M587.1 1078.0V1081.6M407.6 1018.3V1021.9M518.3 1078.0V1081.6M432.4 1050.7V1054.3M482.2 1062.7V1066.3M690.1 1087.7V1091.3M426.9 1044.6V1048.2M433.2 1051.4V1055.0M653.7 1087.7V1091.3M447.9 1057.4V1061.0M709.6 1087.5V1091.5" stroke="#4bb6cf" stroke-width="0.8"/><path d="M351.9 962.6H715.0V1158" stroke="#666" stroke-width="0.9" fill="none"/><path d="M354.9 962.6V1159" stroke="#666" stroke-width="1.4" fill="none"/><path d="M354.9 1128.0H715.0" stroke="#444" stroke-width="1.1" fill="none"/><path d="M351.4 971.2H354.9M351.4 1008.3H354.9M351.4 1045.5H354.9M351.4 1082.6H354.9M351.4 1119.6H354.9" stroke="#555" stroke-width="0.8"/><text x="349.3" y="975.4" font-family='"Liberation Serif", serif' font-size="8.5" text-anchor="end" fill="#111" stroke="#111" stroke-width="0.25">1.0</text><text x="349.3" y="1012.5" font-family='"Liberation Serif", serif' font-size="8.5" text-anchor="end" fill="#111" stroke="#111" stroke-width="0.25">0.8</text><text x="349.3" y="1049.7" font-family='"Liberation Serif", serif' font-size="8.5" text-anchor="end" fill="#111" stroke="#111" stroke-width="0.25">0.5</text><text x="349.3" y="1086.8" font-family='"Liberation Serif", serif' font-size="8.5" text-anchor="end" fill="#111" stroke="#111" stroke-width="0.25">0.3</text><text x="349.3" y="1123.8" font-family='"Liberation Serif", serif' font-size="8.5" text-anchor="end" fill="#111" stroke="#111" stroke-width="0.25">0.0</text><text transform="translate(333.8,1097.8) rotate(-90)" font-family='"Liberation Serif", serif' font-size="10.8" textLength="83" stroke="#000" stroke-width="0.15" lengthAdjust="spacingAndGlyphs">Survival probability</text><text x="420.3" y="1126.3" font-family='"Liberation Serif", serif' font-size="9" text-anchor="middle" fill="#111" stroke="#111" stroke-width="0.25">1288</text><text x="441.3" y="1126.3" font-family='"Liberation Serif", serif' font-size="9" text-anchor="middle" fill="#111" stroke="#111" stroke-width="0.25">1683</text><text x="362.1" y="1086.8" font-family='"Liberation Serif", serif' font-size="13" stroke="#000" stroke-width="0.25" textLength="31.6" lengthAdjust="spacingAndGlyphs">p=0.04</text><text x="538.5" y="986.8" font-family='"Liberation Serif", serif' font-size="10.5" text-anchor="middle" stroke="#000" stroke-width="0.25" textLength="70" lengthAdjust="spacingAndGlyphs">Overall Survival</text><text x="538.7" y="998.8" font-family='"Liberation Serif", serif' font-size="10.5" text-anchor="middle" stroke="#000" stroke-width="0.25" textLength="26" lengthAdjust="spacingAndGlyphs">(Days)</text><text x="612.3" y="971.6" font-family='"Liberation Serif", serif' font-size="10" stroke="#000" stroke-width="0.25" textLength="27.2" lengthAdjust="spacingAndGlyphs">cluster</text><rect x="612.3" y="974.2" width="4.6" height="4.6" fill="#e64b35"/><rect x="612.3" y="982.5" width="4.6" height="4.6" fill="#4dbbd5"/><text x="619.6" y="979.5" font-family='"Liberation Serif", serif' font-size="8.5" fill="#e41a1c" stroke="#e41a1c" stroke-width="0.25">C1</text><text x="619.6" y="987.8" font-family='"Liberation Serif", serif' font-size="8.5" fill="#1ea7d6" stroke="#1ea7d6" stroke-width="0.25">C2</text><text x="612.3" y="998.2" font-family='"Liberation Serif", serif' font-size="8" stroke="#000" stroke-width="0.25" textLength="89.6" lengthAdjust="spacingAndGlyphs">HR=1.41, 95CI%(1.01, 1.97)</text><path d="M354.9 1138H715M354.9 1147.5H715" stroke="#888" stroke-width="0.6" stroke-dasharray="1.5 1"/><path d="M354.9 1157.6H715" stroke="#999" stroke-width="1.6"/><path d="M360.0 1128V1157M447.5 1128V1157M534.4 1128V1157M622.1 1128V1157M710.2 1128V1157" stroke="#555" stroke-width="0.6" stroke-dasharray="2 0.8"/><path d="M360.0 1157V1160M447.5 1157V1160M534.4 1157V1160M622.1 1157V1160M710.2 1157V1160" stroke="#444" stroke-width="0.8"/><text x="362.1" y="1136.2" font-family='"Liberation Serif", serif' font-size="7.8" stroke="#000" stroke-width="0.25" textLength="49" lengthAdjust="spacingAndGlyphs">Number at risk</text><text x="341.1" y="1146.0" font-family='"Liberation Serif", serif' font-size="10" fill="#e41a1c" stroke="#e41a1c" stroke-width="0.25" textLength="10" lengthAdjust="spacingAndGlyphs">C1</text><text x="341.1" y="1156.7" font-family='"Liberation Serif", serif' font-size="10" fill="#1ea7d6" stroke="#1ea7d6" stroke-width="0.25" textLength="10" lengthAdjust="spacingAndGlyphs">C2</text><text x="361.4" y="1144.9" font-family='"Liberation Serif", serif' font-size="8" fill="#e41a1c" stroke="#e41a1c" stroke-width="0.25">197</text><text x="361.4" y="1155.8" font-family='"Liberation Serif", serif' font-size="8" fill="#1ea7d6" stroke="#1ea7d6" stroke-width="0.25">244</text><text x="448.9" y="1144.9" font-family='"Liberation Serif", serif' font-size="8" fill="#e41a1c" stroke="#e41a1c" stroke-width="0.25">15</text><text x="448.9" y="1155.8" font-family='"Liberation Serif", serif' font-size="8" fill="#1ea7d6" stroke="#1ea7d6" stroke-width="0.25">30</text><text x="535.8" y="1144.9" font-family='"Liberation Serif", serif' font-size="8" fill="#e41a1c" stroke="#e41a1c" stroke-width="0.25">3</text><text x="535.8" y="1155.8" font-family='"Liberation Serif", serif' font-size="8" fill="#1ea7d6" stroke="#1ea7d6" stroke-width="0.25">7</text><text x="623.5" y="1144.9" font-family='"Liberation Serif", serif' font-size="8" fill="#e41a1c" stroke="#e41a1c" stroke-width="0.25">1</text><text x="623.5" y="1155.8" font-family='"Liberation Serif", serif' font-size="8" fill="#1ea7d6" stroke="#1ea7d6" stroke-width="0.25">3</text><text x="712.0" y="1144.9" font-family='"Liberation Serif", serif' font-size="8" fill="#e41a1c" stroke="#e41a1c" stroke-width="0.25">1</text><text x="712.0" y="1155.8" font-family='"Liberation Serif", serif' font-size="8" fill="#1ea7d6" stroke="#1ea7d6" stroke-width="0.25">1</text><text x="360.2" y="1170.0" font-family='"Liberation Serif", serif' font-size="11" text-anchor="middle" stroke="#000" stroke-width="0.25">0</text><text x="446.0" y="1169.0" font-family='"Liberation Serif", serif' font-size="9" text-anchor="middle" stroke="#000" stroke-width="0.25">1812</text><text x="532.9" y="1169.0" font-family='"Liberation Serif", serif' font-size="9" text-anchor="middle" stroke="#000" stroke-width="0.25">3624</text><text x="620.6" y="1169.0" font-family='"Liberation Serif", serif' font-size="9" text-anchor="middle" stroke="#000" stroke-width="0.25">5436</text><text x="708.7" y="1169.0" font-family='"Liberation Serif", serif' font-size="9" text-anchor="middle" stroke="#000" stroke-width="0.25">7248</text></svg></body></html>
